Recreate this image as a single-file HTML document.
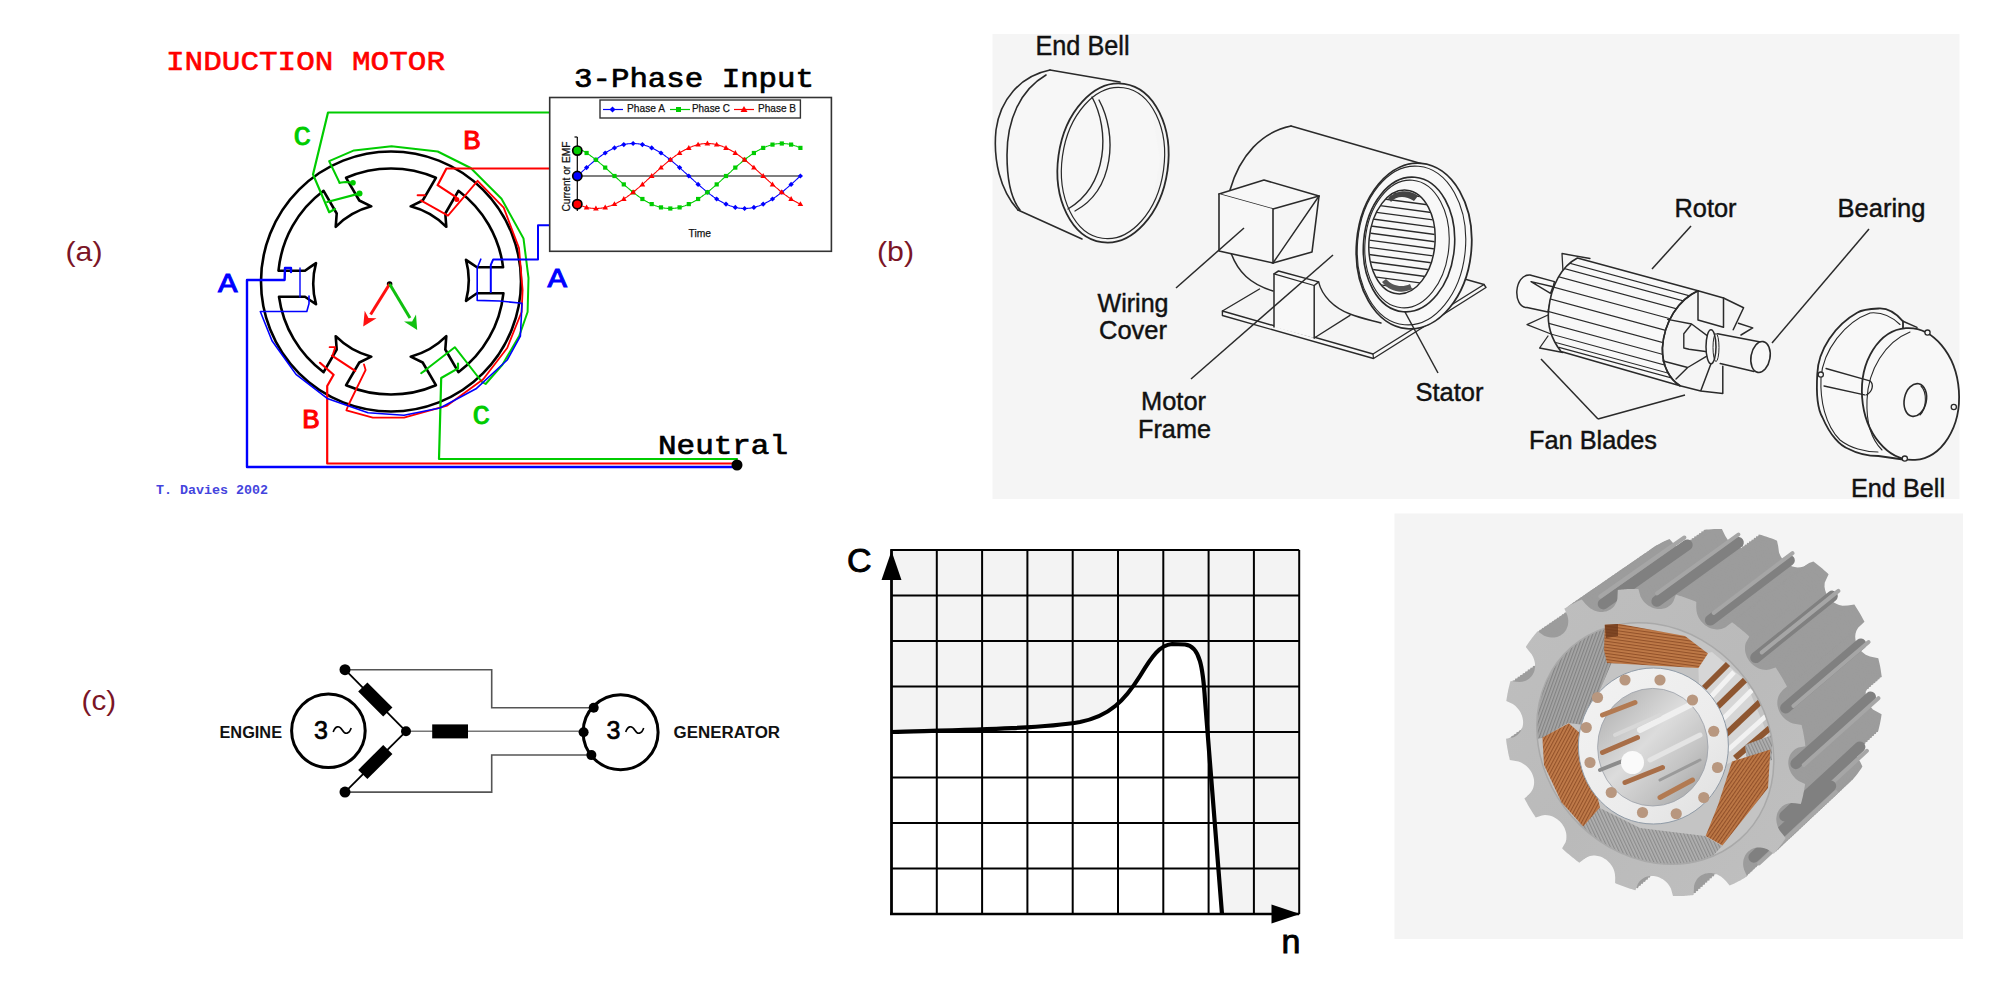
<!DOCTYPE html>
<html><head><meta charset="utf-8"><style>
html,body{margin:0;padding:0;background:#fff;width:1990px;height:1000px;overflow:hidden}
svg{display:block}
</style></head><body>
<svg width="1990" height="1000" viewBox="0 0 1990 1000">
<text x="65.5" y="261" font-family="Liberation Sans" font-size="27.5" fill="#7b1526" textLength="37" lengthAdjust="spacingAndGlyphs">(a)</text>
<text x="877" y="261" font-family="Liberation Sans" font-size="27.5" fill="#7b1526" textLength="37" lengthAdjust="spacingAndGlyphs">(b)</text>
<text x="81.6" y="710" font-family="Liberation Sans" font-size="27.5" fill="#7b1526" textLength="34.5" lengthAdjust="spacingAndGlyphs">(c)</text>
<text x="166" y="70" font-family="Liberation Mono" font-size="28" fill="#ff0000" stroke="#ff0000" stroke-width="0.6" textLength="279" lengthAdjust="spacingAndGlyphs">INDUCTION MOTOR</text>
<text x="574" y="87" font-family="Liberation Mono" font-size="28" fill="#000" stroke="#000" stroke-width="0.7" textLength="240" lengthAdjust="spacingAndGlyphs">3-Phase Input</text>
<text x="658" y="454" font-family="Liberation Mono" font-size="28" fill="#000" stroke="#000" stroke-width="0.7" textLength="130" lengthAdjust="spacingAndGlyphs">Neutral</text>
<text x="156" y="493.5" font-family="Liberation Mono" font-weight="bold" font-size="12.5" fill="#4444dd" textLength="112" lengthAdjust="spacingAndGlyphs">T. Davies 2002</text>
<text x="293.5" y="145" font-family="Liberation Mono" font-size="27" fill="#00cc00" stroke="#00cc00" stroke-width="0.9" textLength="17.5" lengthAdjust="spacingAndGlyphs">C</text>
<text x="463" y="149.3" font-family="Liberation Mono" font-size="27" fill="#ff0000" stroke="#ff0000" stroke-width="0.9" textLength="17.5" lengthAdjust="spacingAndGlyphs">B</text>
<text x="218" y="291.6" font-family="Liberation Mono" font-size="27" fill="#0000ff" stroke="#0000ff" stroke-width="0.9" textLength="19.5" lengthAdjust="spacingAndGlyphs">A</text>
<text x="547.5" y="286.5" font-family="Liberation Mono" font-size="27" fill="#0000ff" stroke="#0000ff" stroke-width="0.9" textLength="19.5" lengthAdjust="spacingAndGlyphs">A</text>
<text x="302" y="428.4" font-family="Liberation Mono" font-size="27" fill="#ff0000" stroke="#ff0000" stroke-width="0.9" textLength="17.5" lengthAdjust="spacingAndGlyphs">B</text>
<text x="472.4" y="423.6" font-family="Liberation Mono" font-size="27" fill="#00cc00" stroke="#00cc00" stroke-width="0.9" textLength="17.5" lengthAdjust="spacingAndGlyphs">C</text>
<circle cx="391" cy="281.5" r="130" fill="none" stroke="#000" stroke-width="2.6"/>
<path d="M503.4,293.3 L477.0,293.3 Q471.5,297.1 466.0,300.8 A78,78 0 0 0 466.0,259.8 Q471.5,263.5 477.0,267.3 L503.1,267.3 A113,113 0 0 0 458.4,190.8 L445.3,213.5 Q445.8,220.2 446.3,226.8 A78,78 0 0 0 410.7,206.3 Q416.7,203.4 422.7,200.5 L435.9,177.8 A113,113 0 0 0 346.1,177.8 L359.3,200.5 Q365.3,203.4 371.3,206.3 A78,78 0 0 0 335.7,226.8 Q336.2,220.2 336.7,213.5 L323.6,190.8 A113,113 0 0 0 278.5,270.7 L305.0,270.7 Q310.5,266.9 316.0,263.2 A78,78 0 0 0 316.0,304.2 Q310.5,300.5 305.0,296.7 L279.0,296.7 A113,113 0 0 0 323.6,372.2 L336.7,349.5 Q336.2,342.8 335.7,336.2 A78,78 0 0 0 371.3,356.7 Q365.3,359.6 359.3,362.5 L346.1,385.2 A113,113 0 0 0 435.9,385.2 L422.7,362.5 Q416.7,359.6 410.7,356.7 A78,78 0 0 0 446.3,336.2 Q445.8,342.8 445.3,349.5 L458.4,372.2 A113,113 0 0 0 503.4,293.3 Z" fill="none" stroke="#000" stroke-width="2.6" stroke-linejoin="round"/>
<polyline points="549,112.5 328,112.5 313,174.4 329.2,212.2 335,209" fill="none" stroke="#00cc00" stroke-width="2.2" stroke-linejoin="round" stroke-linecap="round"/>
<polyline points="327.2,202 359,193.6" fill="none" stroke="#00cc00" stroke-width="2.2" stroke-linejoin="round" stroke-linecap="round"/>
<circle cx="359.5" cy="193.6" r="3" fill="#00cc00"/>
<polyline points="339.6,182.8 329.2,161.2 354,150.4 391.5,146.2 437.7,151.5 470.7,168 501.5,198.8 523.5,238.5 528.5,278 527.6,312 519.2,336 502.4,364.8 485.6,384 482,382 454.8,347.2 421.2,373.2 426,370" fill="none" stroke="#00cc00" stroke-width="2.0" stroke-linejoin="round" stroke-linecap="round"/>
<polyline points="339.6,182.8 345.6,182 352.8,182.8" fill="none" stroke="#00cc00" stroke-width="2.0" stroke-linejoin="round" stroke-linecap="round"/>
<circle cx="353" cy="182.8" r="2.8" fill="#00cc00"/>
<polyline points="458,363.6 458,368.4 441.2,378 439,459 737,459" fill="none" stroke="#00cc00" stroke-width="2.2" stroke-linejoin="round" stroke-linecap="round"/>
<polyline points="549,168.5 446.4,168.5 437.6,185.2 456,197.2" fill="none" stroke="#ff0000" stroke-width="2.2" stroke-linejoin="round" stroke-linecap="round"/>
<circle cx="456.8" cy="199.5" r="2.5" fill="#ff0000"/>
<polyline points="417.6,195.2 424.8,195.2" fill="none" stroke="#ff0000" stroke-width="2.0" stroke-linejoin="round" stroke-linecap="round"/>
<polyline points="420.8,200.4 448,215.6 477.6,180.8 503.7,207.6 519,248 522.6,290 521.6,312 507.2,348 483.2,379.2 447.2,405.6 404,417.6 372.8,417.6 346.4,410.4 348,406 365.6,370 364,364.4" fill="none" stroke="#ff0000" stroke-width="1.8" stroke-linejoin="round" stroke-linecap="round"/>
<polyline points="332,355.6 355.2,370.8" fill="none" stroke="#ff0000" stroke-width="2.2" stroke-linejoin="round" stroke-linecap="round"/>
<polyline points="329.6,347.2 335.2,347.2 333,354" fill="none" stroke="#ff0000" stroke-width="1.8" stroke-linejoin="round" stroke-linecap="round"/>
<polyline points="320,362.8 333.6,374.8 327.2,386 327.2,463.5 737,463.5" fill="none" stroke="#ff0000" stroke-width="2.2" stroke-linejoin="round" stroke-linecap="round"/>
<polyline points="291,272 291,268 285,268 284.6,280 247,280 247,467 737,467" fill="none" stroke="#0000ff" stroke-width="2.4" stroke-linejoin="round" stroke-linecap="round"/>
<polyline points="309,296 309,303.6 306.8,311.5 260.3,311.5 272,340.8 296,374.4 327.2,398.4 368,412.8 404,415.2 440,408 476,388.8 507.2,360 520.4,336 522,303.2 499.6,301 477.2,300.4 477.2,268 480.8,259.2" fill="none" stroke="#0000ff" stroke-width="1.6" stroke-linejoin="round" stroke-linecap="round"/>
<polyline points="549,225.2 538,225.2 538,259.4 493.2,259.4 490.8,264.8 490.8,292" fill="none" stroke="#0000ff" stroke-width="2.0" stroke-linejoin="round" stroke-linecap="round"/>
<polyline points="300,268 300,297" fill="none" stroke="#0000ff" stroke-width="1.4" stroke-linejoin="round" stroke-linecap="round"/>
<circle cx="737" cy="465" r="5.5" fill="#000"/>
<circle cx="389.6" cy="284" r="2.8" fill="#000"/>
<line x1="389.6" y1="284" x2="370.6" y2="314.5" stroke="#ff1010" stroke-width="3"/>
<polygon points="363.2,326.4 376.5,318.2 368.5,317.9 364.7,310.8" fill="#ff1010"/>
<line x1="389.6" y1="284" x2="410.0" y2="318.0" stroke="#10c010" stroke-width="3"/>
<polygon points="417.2,330 416.0,314.4 412.1,321.4 404.0,321.6" fill="#10c010"/>
<rect x="549.7" y="97.5" width="281.7" height="153.8" fill="#fff" stroke="#333" stroke-width="1.6"/>
<rect x="600" y="100" width="200.4" height="18" fill="#fff" stroke="#333" stroke-width="1.4"/>
<line x1="603" y1="109.5" x2="623" y2="109.5" stroke="#0000ff" stroke-width="1.2"/>
<text x="627" y="112" font-family="Liberation Sans" font-size="11.8" fill="#111" stroke="#111" stroke-width="0.25" textLength="38" lengthAdjust="spacingAndGlyphs">Phase A</text>
<line x1="670" y1="109.5" x2="690" y2="109.5" stroke="#00cc00" stroke-width="1.2"/>
<text x="692" y="112" font-family="Liberation Sans" font-size="11.8" fill="#111" stroke="#111" stroke-width="0.25" textLength="38" lengthAdjust="spacingAndGlyphs">Phase C</text>
<line x1="734" y1="109.5" x2="754" y2="109.5" stroke="#ff0000" stroke-width="1.2"/>
<text x="758" y="112" font-family="Liberation Sans" font-size="11.8" fill="#111" stroke="#111" stroke-width="0.25" textLength="38" lengthAdjust="spacingAndGlyphs">Phase B</text>
<polygon points="612.5,106.5 615.5,109.5 612.5,112.5 609.5,109.5" fill="#0000ff"/>
<rect x="676" y="107" width="5" height="5" fill="#00cc00"/>
<polygon points="744,106 747.5,112 740.5,112" fill="#ff0000"/>
<line x1="577.3" y1="137" x2="577.3" y2="211" stroke="#000" stroke-width="1.2"/>
<line x1="574.5" y1="137" x2="577.3" y2="137" stroke="#000" stroke-width="1.2"/>
<line x1="577" y1="176" x2="800.5" y2="176" stroke="#000" stroke-width="1.2"/>
<polyline points="577.3,176.0 578.2,175.1 579.2,174.3 580.1,173.5 581.0,172.6 581.9,171.8 582.9,170.9 583.8,170.1 584.7,169.2 585.7,168.4 586.6,167.6 587.5,166.8 588.5,166.0 589.4,165.2 590.3,164.4 591.2,163.6 592.2,162.8 593.1,162.0 594.0,161.2 595.0,160.5 595.9,159.8 596.8,159.0 597.8,158.3 598.7,157.6 599.6,156.9 600.5,156.2 601.5,155.5 602.4,154.9 603.3,154.3 604.3,153.6 605.2,153.0 606.1,152.4 607.0,151.8 608.0,151.3 608.9,150.7 609.8,150.2 610.8,149.7 611.7,149.2 612.6,148.7 613.6,148.3 614.5,147.9 615.4,147.4 616.3,147.0 617.3,146.7 618.2,146.3 619.1,146.0 620.1,145.7 621.0,145.4 621.9,145.1 622.8,144.8 623.8,144.6 624.7,144.4 625.6,144.2 626.6,144.0 627.5,143.9 628.4,143.8 629.4,143.7 630.3,143.6 631.2,143.5 632.1,143.5 633.1,143.5 634.0,143.5 634.9,143.5 635.9,143.6 636.8,143.7 637.7,143.8 638.7,143.9 639.6,144.0 640.5,144.2 641.4,144.4 642.4,144.6 643.3,144.8 644.2,145.1 645.2,145.4 646.1,145.7 647.0,146.0 647.9,146.3 648.9,146.7 649.8,147.0 650.7,147.4 651.7,147.9 652.6,148.3 653.5,148.7 654.5,149.2 655.4,149.7 656.3,150.2 657.2,150.7 658.2,151.3 659.1,151.8 660.0,152.4 661.0,153.0 661.9,153.6 662.8,154.3 663.8,154.9 664.7,155.5 665.6,156.2 666.5,156.9 667.5,157.6 668.4,158.3 669.3,159.0 670.3,159.8 671.2,160.5 672.1,161.2 673.0,162.0 674.0,162.8 674.9,163.6 675.8,164.4 676.8,165.2 677.7,166.0 678.6,166.8 679.6,167.6 680.5,168.4 681.4,169.2 682.3,170.1 683.3,170.9 684.2,171.8 685.1,172.6 686.1,173.5 687.0,174.3 687.9,175.1 688.8,176.0 689.8,176.9 690.7,177.7 691.6,178.5 692.6,179.4 693.5,180.2 694.4,181.1 695.4,181.9 696.3,182.8 697.2,183.6 698.1,184.4 699.1,185.2 700.0,186.0 700.9,186.8 701.9,187.6 702.8,188.4 703.7,189.2 704.7,190.0 705.6,190.8 706.5,191.5 707.4,192.2 708.4,193.0 709.3,193.7 710.2,194.4 711.2,195.1 712.1,195.8 713.0,196.5 713.9,197.1 714.9,197.7 715.8,198.4 716.7,199.0 717.7,199.6 718.6,200.2 719.5,200.7 720.5,201.3 721.4,201.8 722.3,202.3 723.2,202.8 724.2,203.3 725.1,203.7 726.0,204.1 727.0,204.6 727.9,205.0 728.8,205.3 729.8,205.7 730.7,206.0 731.6,206.3 732.5,206.6 733.5,206.9 734.4,207.2 735.3,207.4 736.3,207.6 737.2,207.8 738.1,208.0 739.0,208.1 740.0,208.2 740.9,208.3 741.8,208.4 742.8,208.5 743.7,208.5 744.6,208.5 745.6,208.5 746.5,208.5 747.4,208.4 748.3,208.3 749.3,208.2 750.2,208.1 751.1,208.0 752.1,207.8 753.0,207.6 753.9,207.4 754.9,207.2 755.8,206.9 756.7,206.6 757.6,206.3 758.6,206.0 759.5,205.7 760.4,205.3 761.4,205.0 762.3,204.6 763.2,204.1 764.1,203.7 765.1,203.3 766.0,202.8 766.9,202.3 767.9,201.8 768.8,201.3 769.7,200.7 770.7,200.2 771.6,199.6 772.5,199.0 773.4,198.4 774.4,197.7 775.3,197.1 776.2,196.5 777.2,195.8 778.1,195.1 779.0,194.4 779.9,193.7 780.9,193.0 781.8,192.2 782.7,191.5 783.7,190.8 784.6,190.0 785.5,189.2 786.5,188.4 787.4,187.6 788.3,186.8 789.2,186.0 790.2,185.2 791.1,184.4 792.0,183.6 793.0,182.8 793.9,181.9 794.8,181.1 795.8,180.2 796.7,179.4 797.6,178.5 798.5,177.7 799.5,176.9 800.4,176.0" fill="none" stroke="#0000ff" stroke-width="1.1"/>
<polygon points="586.6,165.0 589.2,167.6 586.6,170.2 584.0,167.6" fill="#0000ff"/>
<polygon points="595.9,157.2 598.5,159.8 595.9,162.3 593.3,159.8" fill="#0000ff"/>
<polygon points="605.2,150.4 607.8,153.0 605.2,155.6 602.6,153.0" fill="#0000ff"/>
<polygon points="614.5,145.3 617.1,147.9 614.5,150.5 611.9,147.9" fill="#0000ff"/>
<polygon points="623.8,142.0 626.4,144.6 623.8,147.2 621.2,144.6" fill="#0000ff"/>
<polygon points="633.1,140.9 635.7,143.5 633.1,146.1 630.5,143.5" fill="#0000ff"/>
<polygon points="642.4,142.0 645.0,144.6 642.4,147.2 639.8,144.6" fill="#0000ff"/>
<polygon points="651.7,145.3 654.3,147.9 651.7,150.5 649.1,147.9" fill="#0000ff"/>
<polygon points="661.0,150.4 663.6,153.0 661.0,155.6 658.4,153.0" fill="#0000ff"/>
<polygon points="670.3,157.2 672.9,159.8 670.3,162.3 667.7,159.8" fill="#0000ff"/>
<polygon points="679.6,165.0 682.2,167.6 679.6,170.2 677.0,167.6" fill="#0000ff"/>
<polygon points="688.8,173.4 691.4,176.0 688.8,178.6 686.2,176.0" fill="#0000ff"/>
<polygon points="698.1,181.8 700.7,184.4 698.1,187.0 695.5,184.4" fill="#0000ff"/>
<polygon points="707.4,189.7 710.0,192.2 707.4,194.8 704.8,192.2" fill="#0000ff"/>
<polygon points="716.7,196.4 719.3,199.0 716.7,201.6 714.1,199.0" fill="#0000ff"/>
<polygon points="726.0,201.5 728.6,204.1 726.0,206.7 723.4,204.1" fill="#0000ff"/>
<polygon points="735.3,204.8 737.9,207.4 735.3,210.0 732.7,207.4" fill="#0000ff"/>
<polygon points="744.6,205.9 747.2,208.5 744.6,211.1 742.0,208.5" fill="#0000ff"/>
<polygon points="753.9,204.8 756.5,207.4 753.9,210.0 751.3,207.4" fill="#0000ff"/>
<polygon points="763.2,201.5 765.8,204.1 763.2,206.7 760.6,204.1" fill="#0000ff"/>
<polygon points="772.5,196.4 775.1,199.0 772.5,201.6 769.9,199.0" fill="#0000ff"/>
<polygon points="781.8,189.7 784.4,192.2 781.8,194.8 779.2,192.2" fill="#0000ff"/>
<polygon points="791.1,181.8 793.7,184.4 791.1,187.0 788.5,184.4" fill="#0000ff"/>
<polygon points="800.4,173.4 803.0,176.0 800.4,178.6 797.8,176.0" fill="#0000ff"/>
<polyline points="577.3,147.9 578.2,148.3 579.2,148.7 580.1,149.2 581.0,149.7 581.9,150.2 582.9,150.7 583.8,151.3 584.7,151.8 585.7,152.4 586.6,153.0 587.5,153.6 588.5,154.3 589.4,154.9 590.3,155.5 591.2,156.2 592.2,156.9 593.1,157.6 594.0,158.3 595.0,159.0 595.9,159.8 596.8,160.5 597.8,161.2 598.7,162.0 599.6,162.8 600.5,163.6 601.5,164.4 602.4,165.2 603.3,166.0 604.3,166.8 605.2,167.6 606.1,168.4 607.0,169.2 608.0,170.1 608.9,170.9 609.8,171.8 610.8,172.6 611.7,173.5 612.6,174.3 613.6,175.1 614.5,176.0 615.4,176.9 616.3,177.7 617.3,178.5 618.2,179.4 619.1,180.2 620.1,181.1 621.0,181.9 621.9,182.8 622.8,183.6 623.8,184.4 624.7,185.2 625.6,186.0 626.6,186.8 627.5,187.6 628.4,188.4 629.4,189.2 630.3,190.0 631.2,190.8 632.1,191.5 633.1,192.2 634.0,193.0 634.9,193.7 635.9,194.4 636.8,195.1 637.7,195.8 638.7,196.5 639.6,197.1 640.5,197.7 641.4,198.4 642.4,199.0 643.3,199.6 644.2,200.2 645.2,200.7 646.1,201.3 647.0,201.8 647.9,202.3 648.9,202.8 649.8,203.3 650.7,203.7 651.7,204.1 652.6,204.6 653.5,205.0 654.5,205.3 655.4,205.7 656.3,206.0 657.2,206.3 658.2,206.6 659.1,206.9 660.0,207.2 661.0,207.4 661.9,207.6 662.8,207.8 663.8,208.0 664.7,208.1 665.6,208.2 666.5,208.3 667.5,208.4 668.4,208.5 669.3,208.5 670.3,208.5 671.2,208.5 672.1,208.5 673.0,208.4 674.0,208.3 674.9,208.2 675.8,208.1 676.8,208.0 677.7,207.8 678.6,207.6 679.6,207.4 680.5,207.2 681.4,206.9 682.3,206.6 683.3,206.3 684.2,206.0 685.1,205.7 686.1,205.3 687.0,205.0 687.9,204.6 688.8,204.1 689.8,203.7 690.7,203.3 691.6,202.8 692.6,202.3 693.5,201.8 694.4,201.3 695.4,200.7 696.3,200.2 697.2,199.6 698.1,199.0 699.1,198.4 700.0,197.7 700.9,197.1 701.9,196.5 702.8,195.8 703.7,195.1 704.7,194.4 705.6,193.7 706.5,193.0 707.4,192.2 708.4,191.5 709.3,190.8 710.2,190.0 711.2,189.2 712.1,188.4 713.0,187.6 713.9,186.8 714.9,186.0 715.8,185.2 716.7,184.4 717.7,183.6 718.6,182.8 719.5,181.9 720.5,181.1 721.4,180.2 722.3,179.4 723.2,178.5 724.2,177.7 725.1,176.9 726.0,176.0 727.0,175.1 727.9,174.3 728.8,173.5 729.8,172.6 730.7,171.8 731.6,170.9 732.5,170.1 733.5,169.2 734.4,168.4 735.3,167.6 736.3,166.8 737.2,166.0 738.1,165.2 739.0,164.4 740.0,163.6 740.9,162.8 741.8,162.0 742.8,161.2 743.7,160.5 744.6,159.8 745.6,159.0 746.5,158.3 747.4,157.6 748.3,156.9 749.3,156.2 750.2,155.5 751.1,154.9 752.1,154.3 753.0,153.6 753.9,153.0 754.9,152.4 755.8,151.8 756.7,151.3 757.6,150.7 758.6,150.2 759.5,149.7 760.4,149.2 761.4,148.7 762.3,148.3 763.2,147.9 764.1,147.4 765.1,147.0 766.0,146.7 766.9,146.3 767.9,146.0 768.8,145.7 769.7,145.4 770.7,145.1 771.6,144.8 772.5,144.6 773.4,144.4 774.4,144.2 775.3,144.0 776.2,143.9 777.2,143.8 778.1,143.7 779.0,143.6 779.9,143.5 780.9,143.5 781.8,143.5 782.7,143.5 783.7,143.5 784.6,143.6 785.5,143.7 786.5,143.8 787.4,143.9 788.3,144.0 789.2,144.2 790.2,144.4 791.1,144.6 792.0,144.8 793.0,145.1 793.9,145.4 794.8,145.7 795.8,146.0 796.7,146.3 797.6,146.7 798.5,147.0 799.5,147.4 800.4,147.9" fill="none" stroke="#00cc00" stroke-width="1.1"/>
<rect x="584.5" y="150.9" width="4.2" height="4.2" fill="#00cc00"/>
<rect x="593.8" y="157.7" width="4.2" height="4.2" fill="#00cc00"/>
<rect x="603.1" y="165.5" width="4.2" height="4.2" fill="#00cc00"/>
<rect x="612.4" y="173.9" width="4.2" height="4.2" fill="#00cc00"/>
<rect x="621.7" y="182.3" width="4.2" height="4.2" fill="#00cc00"/>
<rect x="631.0" y="190.2" width="4.2" height="4.2" fill="#00cc00"/>
<rect x="640.3" y="196.9" width="4.2" height="4.2" fill="#00cc00"/>
<rect x="649.6" y="202.0" width="4.2" height="4.2" fill="#00cc00"/>
<rect x="658.9" y="205.3" width="4.2" height="4.2" fill="#00cc00"/>
<rect x="668.2" y="206.4" width="4.2" height="4.2" fill="#00cc00"/>
<rect x="677.5" y="205.3" width="4.2" height="4.2" fill="#00cc00"/>
<rect x="686.7" y="202.0" width="4.2" height="4.2" fill="#00cc00"/>
<rect x="696.0" y="196.9" width="4.2" height="4.2" fill="#00cc00"/>
<rect x="705.3" y="190.2" width="4.2" height="4.2" fill="#00cc00"/>
<rect x="714.6" y="182.3" width="4.2" height="4.2" fill="#00cc00"/>
<rect x="723.9" y="173.9" width="4.2" height="4.2" fill="#00cc00"/>
<rect x="733.2" y="165.5" width="4.2" height="4.2" fill="#00cc00"/>
<rect x="742.5" y="157.7" width="4.2" height="4.2" fill="#00cc00"/>
<rect x="751.8" y="150.9" width="4.2" height="4.2" fill="#00cc00"/>
<rect x="761.1" y="145.8" width="4.2" height="4.2" fill="#00cc00"/>
<rect x="770.4" y="142.5" width="4.2" height="4.2" fill="#00cc00"/>
<rect x="779.7" y="141.4" width="4.2" height="4.2" fill="#00cc00"/>
<rect x="789.0" y="142.5" width="4.2" height="4.2" fill="#00cc00"/>
<rect x="798.3" y="145.8" width="4.2" height="4.2" fill="#00cc00"/>
<polyline points="577.3,204.1 578.2,204.6 579.2,205.0 580.1,205.3 581.0,205.7 581.9,206.0 582.9,206.3 583.8,206.6 584.7,206.9 585.7,207.2 586.6,207.4 587.5,207.6 588.5,207.8 589.4,208.0 590.3,208.1 591.2,208.2 592.2,208.3 593.1,208.4 594.0,208.5 595.0,208.5 595.9,208.5 596.8,208.5 597.8,208.5 598.7,208.4 599.6,208.3 600.5,208.2 601.5,208.1 602.4,208.0 603.3,207.8 604.3,207.6 605.2,207.4 606.1,207.2 607.0,206.9 608.0,206.6 608.9,206.3 609.8,206.0 610.8,205.7 611.7,205.3 612.6,205.0 613.6,204.6 614.5,204.1 615.4,203.7 616.3,203.3 617.3,202.8 618.2,202.3 619.1,201.8 620.1,201.3 621.0,200.7 621.9,200.2 622.8,199.6 623.8,199.0 624.7,198.4 625.6,197.7 626.6,197.1 627.5,196.5 628.4,195.8 629.4,195.1 630.3,194.4 631.2,193.7 632.1,193.0 633.1,192.2 634.0,191.5 634.9,190.8 635.9,190.0 636.8,189.2 637.7,188.4 638.7,187.6 639.6,186.8 640.5,186.0 641.4,185.2 642.4,184.4 643.3,183.6 644.2,182.8 645.2,181.9 646.1,181.1 647.0,180.2 647.9,179.4 648.9,178.5 649.8,177.7 650.7,176.9 651.7,176.0 652.6,175.1 653.5,174.3 654.5,173.5 655.4,172.6 656.3,171.8 657.2,170.9 658.2,170.1 659.1,169.2 660.0,168.4 661.0,167.6 661.9,166.8 662.8,166.0 663.8,165.2 664.7,164.4 665.6,163.6 666.5,162.8 667.5,162.0 668.4,161.2 669.3,160.5 670.3,159.8 671.2,159.0 672.1,158.3 673.0,157.6 674.0,156.9 674.9,156.2 675.8,155.5 676.8,154.9 677.7,154.3 678.6,153.6 679.6,153.0 680.5,152.4 681.4,151.8 682.3,151.3 683.3,150.7 684.2,150.2 685.1,149.7 686.1,149.2 687.0,148.7 687.9,148.3 688.8,147.9 689.8,147.4 690.7,147.0 691.6,146.7 692.6,146.3 693.5,146.0 694.4,145.7 695.4,145.4 696.3,145.1 697.2,144.8 698.1,144.6 699.1,144.4 700.0,144.2 700.9,144.0 701.9,143.9 702.8,143.8 703.7,143.7 704.7,143.6 705.6,143.5 706.5,143.5 707.4,143.5 708.4,143.5 709.3,143.5 710.2,143.6 711.2,143.7 712.1,143.8 713.0,143.9 713.9,144.0 714.9,144.2 715.8,144.4 716.7,144.6 717.7,144.8 718.6,145.1 719.5,145.4 720.5,145.7 721.4,146.0 722.3,146.3 723.2,146.7 724.2,147.0 725.1,147.4 726.0,147.9 727.0,148.3 727.9,148.7 728.8,149.2 729.8,149.7 730.7,150.2 731.6,150.7 732.5,151.3 733.5,151.8 734.4,152.4 735.3,153.0 736.3,153.6 737.2,154.3 738.1,154.9 739.0,155.5 740.0,156.2 740.9,156.9 741.8,157.6 742.8,158.3 743.7,159.0 744.6,159.8 745.6,160.5 746.5,161.2 747.4,162.0 748.3,162.8 749.3,163.6 750.2,164.4 751.1,165.2 752.1,166.0 753.0,166.8 753.9,167.6 754.9,168.4 755.8,169.2 756.7,170.1 757.6,170.9 758.6,171.8 759.5,172.6 760.4,173.5 761.4,174.3 762.3,175.1 763.2,176.0 764.1,176.9 765.1,177.7 766.0,178.5 766.9,179.4 767.9,180.2 768.8,181.1 769.7,181.9 770.7,182.8 771.6,183.6 772.5,184.4 773.4,185.2 774.4,186.0 775.3,186.8 776.2,187.6 777.2,188.4 778.1,189.2 779.0,190.0 779.9,190.8 780.9,191.5 781.8,192.2 782.7,193.0 783.7,193.7 784.6,194.4 785.5,195.1 786.5,195.8 787.4,196.5 788.3,197.1 789.2,197.7 790.2,198.4 791.1,199.0 792.0,199.6 793.0,200.2 793.9,200.7 794.8,201.3 795.8,201.8 796.7,202.3 797.6,202.8 798.5,203.3 799.5,203.7 800.4,204.1" fill="none" stroke="#ff0000" stroke-width="1.1"/>
<polygon points="586.6,204.5 589.4,209.4 583.8,209.4" fill="#ff0000"/>
<polygon points="595.9,205.6 598.7,210.5 593.1,210.5" fill="#ff0000"/>
<polygon points="605.2,204.5 608.0,209.4 602.4,209.4" fill="#ff0000"/>
<polygon points="614.5,201.2 617.3,206.1 611.7,206.1" fill="#ff0000"/>
<polygon points="623.8,196.1 626.6,201.0 621.0,201.0" fill="#ff0000"/>
<polygon points="633.1,189.3 635.9,194.2 630.3,194.2" fill="#ff0000"/>
<polygon points="642.4,181.5 645.2,186.4 639.6,186.4" fill="#ff0000"/>
<polygon points="651.7,173.1 654.5,178.0 648.9,178.0" fill="#ff0000"/>
<polygon points="661.0,164.7 663.8,169.6 658.2,169.6" fill="#ff0000"/>
<polygon points="670.3,156.8 673.1,161.8 667.5,161.8" fill="#ff0000"/>
<polygon points="679.6,150.1 682.4,155.0 676.8,155.0" fill="#ff0000"/>
<polygon points="688.8,145.0 691.6,149.9 686.0,149.9" fill="#ff0000"/>
<polygon points="698.1,141.7 700.9,146.6 695.3,146.6" fill="#ff0000"/>
<polygon points="707.4,140.6 710.2,145.5 704.6,145.5" fill="#ff0000"/>
<polygon points="716.7,141.7 719.5,146.6 713.9,146.6" fill="#ff0000"/>
<polygon points="726.0,145.0 728.8,149.9 723.2,149.9" fill="#ff0000"/>
<polygon points="735.3,150.1 738.1,155.0 732.5,155.0" fill="#ff0000"/>
<polygon points="744.6,156.8 747.4,161.8 741.8,161.8" fill="#ff0000"/>
<polygon points="753.9,164.7 756.7,169.6 751.1,169.6" fill="#ff0000"/>
<polygon points="763.2,173.1 766.0,178.0 760.4,178.0" fill="#ff0000"/>
<polygon points="772.5,181.5 775.3,186.4 769.7,186.4" fill="#ff0000"/>
<polygon points="781.8,189.3 784.6,194.2 779.0,194.2" fill="#ff0000"/>
<polygon points="791.1,196.1 793.9,201.0 788.3,201.0" fill="#ff0000"/>
<polygon points="800.4,201.2 803.2,206.1 797.6,206.1" fill="#ff0000"/>
<circle cx="577.3" cy="150.6" r="4.6" fill="#00cc00" stroke="#000" stroke-width="1.7"/>
<circle cx="577.3" cy="176" r="4.6" fill="#0000ff" stroke="#000" stroke-width="1.7"/>
<circle cx="577.3" cy="204.2" r="4.6" fill="#ff0000" stroke="#000" stroke-width="1.7"/>
<text transform="translate(569.5,211.5) rotate(-90)" font-family="Liberation Sans" font-size="11" fill="#111" stroke="#111" stroke-width="0.25" textLength="70" lengthAdjust="spacingAndGlyphs">Current or EMF</text>
<text x="688.5" y="237" font-family="Liberation Sans" font-size="11" fill="#111" stroke="#111" stroke-width="0.25" textLength="22.5" lengthAdjust="spacingAndGlyphs">Time</text>
<polyline points="345,669.7 491.7,669.7 491.7,707.7 593.7,707.7" fill="none" stroke="#555" stroke-width="1.6"/>
<polyline points="345,792.1 491.7,792.1 491.7,755 591.4,755" fill="none" stroke="#555" stroke-width="1.6"/>
<line x1="406" y1="731.3" x2="584" y2="731.3" stroke="#777" stroke-width="1.6"/>
<line x1="345" y1="669.7" x2="406" y2="731.3" stroke="#000" stroke-width="1.8"/>
<line x1="345" y1="792.1" x2="406" y2="731.3" stroke="#000" stroke-width="1.8"/>
<rect x="-17.7" y="-6.5" width="35.4" height="13" fill="#000" transform="translate(375.3,699.5) rotate(45)"/>
<rect x="-17.7" y="-6.5" width="35.4" height="13" fill="#000" transform="translate(375.3,762) rotate(-45)"/>
<rect x="432.2" y="724.4" width="35.8" height="14" fill="#000"/>
<circle cx="345" cy="669.7" r="5.5" fill="#000"/>
<circle cx="345" cy="792.1" r="5.5" fill="#000"/>
<circle cx="406" cy="731.3" r="5" fill="#000"/>
<circle cx="593.7" cy="707.7" r="5" fill="#000"/>
<circle cx="583.6" cy="732.2" r="5" fill="#000"/>
<circle cx="591.4" cy="755.1" r="5" fill="#000"/>
<circle cx="328.4" cy="730.8" r="36.8" fill="none" stroke="#000" stroke-width="3"/>
<circle cx="620.6" cy="732.2" r="37.5" fill="none" stroke="#000" stroke-width="3"/>
<text x="314" y="738.5" font-family="Liberation Sans" font-size="25" fill="#000" stroke="#000" stroke-width="0.7">3</text>
<text x="606.5" y="738.5" font-family="Liberation Sans" font-size="25" fill="#000" stroke="#000" stroke-width="0.7">3</text>
<path d="M333.2,732 c2,-6 6,-7 9,-2 s7,4 9,-2" fill="none" stroke="#000" stroke-width="1.6"/>
<path d="M625.7,732 c2,-6 6,-7 9,-2 s7,4 9,-2" fill="none" stroke="#000" stroke-width="1.6"/>
<text x="219.5" y="738.4" font-family="Liberation Sans" font-weight="bold" font-size="16" fill="#111" textLength="62.5" lengthAdjust="spacingAndGlyphs">ENGINE</text>
<text x="673.5" y="738.4" font-family="Liberation Sans" font-weight="bold" font-size="16" fill="#111" textLength="106.5" lengthAdjust="spacingAndGlyphs">GENERATOR</text>
<path d="M891.5,550 L1299.2,550 L1299.2,914 L1222,914 L1205,700 C1203,668 1200,646 1185,644.5 L1172,644 C1160,645 1152,656 1140,676 C1125,700 1110,716 1080,722 C1040,729 960,730 891.5,732 Z" fill="#f3f3f3"/>
<line x1="891.5" y1="550" x2="891.5" y2="914" stroke="#000" stroke-width="2"/>
<line x1="936.8" y1="550" x2="936.8" y2="914" stroke="#000" stroke-width="2"/>
<line x1="982.1" y1="550" x2="982.1" y2="914" stroke="#000" stroke-width="2"/>
<line x1="1027.4" y1="550" x2="1027.4" y2="914" stroke="#000" stroke-width="2"/>
<line x1="1072.7" y1="550" x2="1072.7" y2="914" stroke="#000" stroke-width="2"/>
<line x1="1118.0" y1="550" x2="1118.0" y2="914" stroke="#000" stroke-width="2"/>
<line x1="1163.3" y1="550" x2="1163.3" y2="914" stroke="#000" stroke-width="2"/>
<line x1="1208.6" y1="550" x2="1208.6" y2="914" stroke="#000" stroke-width="2"/>
<line x1="1253.9" y1="550" x2="1253.9" y2="914" stroke="#000" stroke-width="2"/>
<line x1="1299.2" y1="550" x2="1299.2" y2="914" stroke="#000" stroke-width="2"/>
<line x1="891.5" y1="550.0" x2="1299.2" y2="550.0" stroke="#000" stroke-width="2"/>
<line x1="891.5" y1="595.5" x2="1299.2" y2="595.5" stroke="#000" stroke-width="2"/>
<line x1="891.5" y1="641.0" x2="1299.2" y2="641.0" stroke="#000" stroke-width="2"/>
<line x1="891.5" y1="686.5" x2="1299.2" y2="686.5" stroke="#000" stroke-width="2"/>
<line x1="891.5" y1="732.0" x2="1299.2" y2="732.0" stroke="#000" stroke-width="2"/>
<line x1="891.5" y1="777.5" x2="1299.2" y2="777.5" stroke="#000" stroke-width="2"/>
<line x1="891.5" y1="823.0" x2="1299.2" y2="823.0" stroke="#000" stroke-width="2"/>
<line x1="891.5" y1="868.5" x2="1299.2" y2="868.5" stroke="#000" stroke-width="2"/>
<line x1="891.5" y1="914.0" x2="1299.2" y2="914.0" stroke="#000" stroke-width="2"/>
<line x1="891.5" y1="549" x2="891.5" y2="915" stroke="#000" stroke-width="2.6"/>
<line x1="890" y1="914" x2="1299" y2="914" stroke="#000" stroke-width="2.6"/>
<path d="M891.5,732 C960,730 1040,729 1080,722 C1110,716 1125,700 1140,676 C1152,656 1160,645 1172,644 L1185,644.5 C1200,646 1203,668 1205,700 L1222,914" fill="none" stroke="#000" stroke-width="4.2" stroke-linejoin="round"/>
<polygon points="891.5,551 901.5,580 881.5,580" fill="#000"/>
<polygon points="1300,914 1271.5,904.5 1271.5,923.5" fill="#000"/>
<text x="847" y="572" font-family="Liberation Sans" font-size="34" fill="#000" stroke="#000" stroke-width="0.9">C</text>
<text x="1281.5" y="952.5" font-family="Liberation Sans" font-size="34" fill="#000" stroke="#000" stroke-width="0.9">n</text>
<g id="pb"><rect x="992.5" y="34" width="967" height="465" fill="#f5f5f5"/>
<path d="M1050,70 L1120,80 L1150,100 L1160,160 L1150,215 L1115,241 L1082,239 L1018,210 C1000,190 993,160 996,130 C1000,100 1020,76 1050,70 Z" fill="#f7f7f7" stroke="none" stroke-width="0" stroke-linejoin="round" stroke-linecap="round"/>
<path d="M1050,70 C1020,76 1000,100 996,130 C993,160 1000,190 1018,210" fill="none" stroke="#2a2a2a" stroke-width="1.6" stroke-linejoin="round" stroke-linecap="round"/>
<path d="M1046,75 C1020,90 1007,120 1007,155 C1007,180 1012,200 1020,210" fill="none" stroke="#2a2a2a" stroke-width="1.6" stroke-linejoin="round" stroke-linecap="round"/>
<path d="M1050,70 L1120,82" fill="none" stroke="#2a2a2a" stroke-width="1.6" stroke-linejoin="round" stroke-linecap="round"/>
<path d="M1018,210 L1082,239" fill="none" stroke="#2a2a2a" stroke-width="1.6" stroke-linejoin="round" stroke-linecap="round"/>
<ellipse cx="1113" cy="163" rx="55" ry="80" transform="rotate(8 1113 163)" fill="none" stroke="#2a2a2a" stroke-width="1.8"/>
<ellipse cx="1113" cy="163" rx="51" ry="76" transform="rotate(8 1113 163)" fill="none" stroke="#2a2a2a" stroke-width="1.2"/>
<path d="M1092,97 C1110,130 1108,185 1068,209" fill="none" stroke="#2a2a2a" stroke-width="1.4" stroke-linejoin="round" stroke-linecap="round"/>
<path d="M1099,100 C1118,135 1114,190 1075,211" fill="none" stroke="#2a2a2a" stroke-width="1.4" stroke-linejoin="round" stroke-linecap="round"/>
<path d="M1291,126 L1426,165" fill="none" stroke="#2a2a2a" stroke-width="1.6" stroke-linejoin="round" stroke-linecap="round"/>
<path d="M1230,190 C1240,155 1262,132 1291,126" fill="none" stroke="#2a2a2a" stroke-width="1.6" stroke-linejoin="round" stroke-linecap="round"/>
<path d="M1222.4,311 L1373,354 L1484,284.5 L1486,287.5 L1373.5,358.5 L1222.4,315.5 Z" fill="#f8f8f8" stroke="#2a2a2a" stroke-width="1.4" stroke-linejoin="round" stroke-linecap="round"/>
<path d="M1222.4,311 L1259.5,289" fill="none" stroke="#2a2a2a" stroke-width="1.4" stroke-linejoin="round" stroke-linecap="round"/>
<path d="M1484,284.5 L1461,278" fill="none" stroke="#2a2a2a" stroke-width="1.4" stroke-linejoin="round" stroke-linecap="round"/>
<path d="M1373,354 L1373.5,358.5" fill="none" stroke="#2a2a2a" stroke-width="1.2" stroke-linejoin="round" stroke-linecap="round"/>
<path d="M1231,253 C1238,272 1250,284 1273,291" fill="none" stroke="#2a2a2a" stroke-width="1.5" stroke-linejoin="round" stroke-linecap="round"/>
<path d="M1274,327 L1274,273.8 L1278.5,271 L1318.6,281.9 L1314.2,285.5 L1314.2,338" fill="#f8f8f8" stroke="#2a2a2a" stroke-width="1.5" stroke-linejoin="round" stroke-linecap="round"/>
<path d="M1274,273.8 L1314.2,285.5" fill="none" stroke="#2a2a2a" stroke-width="1.3" stroke-linejoin="round" stroke-linecap="round"/>
<path d="M1318.6,281.9 C1322,296 1334,308 1350,314 C1360,318 1370,320 1381,323" fill="none" stroke="#2a2a2a" stroke-width="1.4" stroke-linejoin="round" stroke-linecap="round"/>
<path d="M1314.2,338 L1350,315.4" fill="none" stroke="#2a2a2a" stroke-width="1.3" stroke-linejoin="round" stroke-linecap="round"/>
<ellipse cx="1414" cy="246" rx="57.5" ry="83" transform="rotate(5 1414 246)" fill="#f8f8f8" stroke="#2a2a2a" stroke-width="1.8"/>
<ellipse cx="1411.5" cy="245.5" rx="54" ry="79.5" transform="rotate(5 1411.5 245.5)" fill="none" stroke="#2a2a2a" stroke-width="1.1"/>
<ellipse cx="1409" cy="244.5" rx="45.5" ry="67.5" transform="rotate(5 1409 244.5)" fill="none" stroke="#2a2a2a" stroke-width="1.6"/>
<ellipse cx="1407" cy="244" rx="42" ry="64" transform="rotate(5 1407 244)" fill="none" stroke="#2a2a2a" stroke-width="1.1"/>
<ellipse cx="1402" cy="242" rx="33" ry="52" transform="rotate(5 1402 242)" fill="none" stroke="#2a2a2a" stroke-width="1.5"/>
<clipPath id="hclip"><ellipse cx="1402" cy="242" rx="32.5" ry="51.5" transform="rotate(5 1402 242)"/></clipPath><g clip-path="url(#hclip)">
<line x1="1365" y1="182.0" x2="1440" y2="192.0" stroke="#2a2a2a" stroke-width="1.4"/>
<line x1="1365" y1="189.2" x2="1440" y2="199.2" stroke="#2a2a2a" stroke-width="1.4"/>
<line x1="1365" y1="196.4" x2="1440" y2="206.4" stroke="#2a2a2a" stroke-width="1.4"/>
<line x1="1365" y1="203.6" x2="1440" y2="213.6" stroke="#2a2a2a" stroke-width="1.4"/>
<line x1="1365" y1="210.8" x2="1440" y2="220.8" stroke="#2a2a2a" stroke-width="1.4"/>
<line x1="1365" y1="218.0" x2="1440" y2="228.0" stroke="#2a2a2a" stroke-width="1.4"/>
<line x1="1365" y1="225.2" x2="1440" y2="235.2" stroke="#2a2a2a" stroke-width="1.4"/>
<line x1="1365" y1="232.4" x2="1440" y2="242.4" stroke="#2a2a2a" stroke-width="1.4"/>
<line x1="1365" y1="239.6" x2="1440" y2="249.6" stroke="#2a2a2a" stroke-width="1.4"/>
<line x1="1365" y1="246.8" x2="1440" y2="256.8" stroke="#2a2a2a" stroke-width="1.4"/>
<line x1="1365" y1="254.0" x2="1440" y2="264.0" stroke="#2a2a2a" stroke-width="1.4"/>
<line x1="1365" y1="261.2" x2="1440" y2="271.2" stroke="#2a2a2a" stroke-width="1.4"/>
<line x1="1365" y1="268.4" x2="1440" y2="278.4" stroke="#2a2a2a" stroke-width="1.4"/>
<line x1="1365" y1="275.6" x2="1440" y2="285.6" stroke="#2a2a2a" stroke-width="1.4"/>
<line x1="1365" y1="282.8" x2="1440" y2="292.8" stroke="#2a2a2a" stroke-width="1.4"/>
<line x1="1365" y1="290.0" x2="1440" y2="300.0" stroke="#2a2a2a" stroke-width="1.4"/>
<line x1="1365" y1="297.2" x2="1440" y2="307.2" stroke="#2a2a2a" stroke-width="1.4"/>
<path d="M1388,198 C1396,190 1410,189 1418,196 L1414,201 C1405,195 1396,196 1391,202 Z" fill="#444"/>
<path d="M1382,282 C1390,292 1402,294 1412,289 L1410,284 C1402,288 1392,286 1386,279 Z" fill="#555"/>
</g>
<path d="M1219,194 L1264,180 L1319,196 L1273,209 Z" fill="#f7f7f7" stroke="#2a2a2a" stroke-width="1.6" stroke-linejoin="round" stroke-linecap="round"/>
<path d="M1219,194 L1219,251 L1273,263 L1273,209" fill="#f7f7f7" stroke="#2a2a2a" stroke-width="1.6" stroke-linejoin="round" stroke-linecap="round"/>
<path d="M1273,263 L1312,252 L1319,196" fill="#f7f7f7" stroke="#2a2a2a" stroke-width="1.6" stroke-linejoin="round" stroke-linecap="round"/>
<path d="M1319,196 L1273,263" fill="none" stroke="#2a2a2a" stroke-width="1.4" stroke-linejoin="round" stroke-linecap="round"/>
<path d="M1554.4,281.6 L1530,275 C1514,274 1512,307 1527,307.6 L1548,312 Z" fill="#f8f8f8" stroke="#2a2a2a" stroke-width="1.5" stroke-linejoin="round" stroke-linecap="round"/>
<path d="M1562,253.5 L1563,272 M1562,253.5 L1590,258.5" fill="none" stroke="#2a2a2a" stroke-width="1.3" stroke-linejoin="round" stroke-linecap="round"/>
<path d="M1527,324.6 L1548,315 M1527,324.6 L1551,334" fill="none" stroke="#2a2a2a" stroke-width="1.3" stroke-linejoin="round" stroke-linecap="round"/>
<path d="M1539.6,348 L1563,352.5 M1539.6,348 L1548,336" fill="none" stroke="#2a2a2a" stroke-width="1.3" stroke-linejoin="round" stroke-linecap="round"/>
<path d="M1531,281.6 L1553,286.8 L1550.5,293.3 Z" fill="#f8f8f8" stroke="#2a2a2a" stroke-width="1.4" stroke-linejoin="round" stroke-linecap="round"/>
<path d="M1577.4,258 L1698,290.8 C1678,300 1664,322 1662.4,348 C1662,366 1670,380 1680,385.7 L1561,351.6 C1552,340 1547,325 1548.6,310 C1551,285 1562,266 1577.4,258 Z" fill="#f8f8f8" stroke="#2a2a2a" stroke-width="1.6" stroke-linejoin="round" stroke-linecap="round"/>
<clipPath id="rotclip"><path d="M1577.4,258 L1698,290.8 C1678,300 1664,322 1662.4,348 C1662,366 1670,380 1680,385.7 L1561,351.6 C1552,340 1547,325 1548.6,310 C1551,285 1562,266 1577.4,258 Z"/></clipPath><g clip-path="url(#rotclip)">
<path d="M1547.5,257.2 L1707.5,300.7" fill="none" stroke="#2a2a2a" stroke-width="1.15" stroke-linejoin="round" stroke-linecap="round"/>
<path d="M1542.9,262.8 L1702.9,306.3" fill="none" stroke="#2a2a2a" stroke-width="1.15" stroke-linejoin="round" stroke-linecap="round"/>
<path d="M1539.6,271.5 L1699.6,315.0" fill="none" stroke="#2a2a2a" stroke-width="1.15" stroke-linejoin="round" stroke-linecap="round"/>
<path d="M1537.9,282.8 L1697.9,326.3" fill="none" stroke="#2a2a2a" stroke-width="1.15" stroke-linejoin="round" stroke-linecap="round"/>
<path d="M1537.9,295.6 L1697.9,339.1" fill="none" stroke="#2a2a2a" stroke-width="1.15" stroke-linejoin="round" stroke-linecap="round"/>
<path d="M1539.6,309.0 L1699.6,352.5" fill="none" stroke="#2a2a2a" stroke-width="1.15" stroke-linejoin="round" stroke-linecap="round"/>
<path d="M1542.8,321.8 L1702.8,365.3" fill="none" stroke="#2a2a2a" stroke-width="1.15" stroke-linejoin="round" stroke-linecap="round"/>
<path d="M1547.4,333.1 L1707.4,376.6" fill="none" stroke="#2a2a2a" stroke-width="1.15" stroke-linejoin="round" stroke-linecap="round"/>
<path d="M1553.0,341.8 L1713.0,385.3" fill="none" stroke="#2a2a2a" stroke-width="1.15" stroke-linejoin="round" stroke-linecap="round"/>
<path d="M1559.0,347.4 L1719.0,390.9" fill="none" stroke="#2a2a2a" stroke-width="1.15" stroke-linejoin="round" stroke-linecap="round"/>
</g>
<path d="M1698,290.8 C1678,300 1664,322 1662.4,348 C1662,366 1670,380 1680,385.7" fill="none" stroke="#2a2a2a" stroke-width="1.6" stroke-linejoin="round" stroke-linecap="round"/>
<path d="M1698,290.8 L1723.5,298 L1723.5,327.2 M1698,290.8 L1698,320 L1723.5,327.2" fill="none" stroke="#2a2a2a" stroke-width="1.5" stroke-linejoin="round" stroke-linecap="round"/>
<path d="M1723.5,298 L1743.6,307.7 L1733.2,329.8" fill="none" stroke="#2a2a2a" stroke-width="1.5" stroke-linejoin="round" stroke-linecap="round"/>
<path d="M1738.4,323.3 L1752.7,327.9 L1741,335" fill="none" stroke="#2a2a2a" stroke-width="1.5" stroke-linejoin="round" stroke-linecap="round"/>
<path d="M1667.6,319.4 L1691.6,324 L1709.8,337.6 M1691.6,324 L1683.8,333.7 L1683.8,348 L1689,349.3 L1709,352" fill="none" stroke="#2a2a2a" stroke-width="1.4" stroke-linejoin="round" stroke-linecap="round"/>
<path d="M1663,361 L1687.7,367.5 L1707.2,355.8 M1687.7,367.5 L1676,379" fill="none" stroke="#2a2a2a" stroke-width="1.4" stroke-linejoin="round" stroke-linecap="round"/>
<path d="M1680,385.7 L1700.7,391 L1722.8,393.5 L1722.8,366.2 M1700.7,391 L1712,361" fill="none" stroke="#2a2a2a" stroke-width="1.5" stroke-linejoin="round" stroke-linecap="round"/>
<path d="M1717.6,333.7 L1761.8,342.2 M1720.2,363.6 L1754,371.4" fill="none" stroke="#2a2a2a" stroke-width="1.5" stroke-linejoin="round" stroke-linecap="round"/>
<ellipse cx="1711" cy="346.7" rx="5" ry="17" transform="rotate(0 1711 346.7)" fill="#f8f8f8" stroke="#2a2a2a" stroke-width="1.5"/>
<ellipse cx="1716" cy="347.5" rx="3" ry="14" transform="rotate(0 1716 347.5)" fill="none" stroke="#2a2a2a" stroke-width="1.0"/>
<ellipse cx="1760.5" cy="357" rx="9.5" ry="15.6" transform="rotate(10 1760.5 357)" fill="#f8f8f8" stroke="#2a2a2a" stroke-width="1.6"/>
<path d="M1903,321.3 C1895,312 1886,308 1878.5,308.5 C1868,309 1860,311 1857.5,312.5 C1835,325 1818,350 1817.3,373.8 C1816,395 1818,410 1822.5,417.5 C1830,435 1840,446 1848.8,449 C1860,455 1870,456 1878.5,456 L1903,459.5 Z" fill="#f8f8f8" stroke="#2a2a2a" stroke-width="1.8" stroke-linejoin="round" stroke-linecap="round"/>
<path d="M1900,324.5 C1890,315 1880,312 1870,313 C1845,322 1823,350 1821,378 C1820,400 1825,425 1840,440 C1850,448 1865,452 1878,452" fill="none" stroke="#2a2a2a" stroke-width="1.1" stroke-linejoin="round" stroke-linecap="round"/>
<ellipse cx="1910.5" cy="394" rx="48.5" ry="66" transform="rotate(-4 1910.5 394)" fill="#f8f8f8" stroke="#2a2a2a" stroke-width="1.8"/>
<path d="M1910,332 C1885,342 1868,370 1867,400 C1866,425 1872,440 1882,450" fill="none" stroke="#2a2a2a" stroke-width="1.1" stroke-linejoin="round" stroke-linecap="round"/>
<path d="M1903,321.3 L1917,327.4" fill="none" stroke="#2a2a2a" stroke-width="1.5" stroke-linejoin="round" stroke-linecap="round"/>
<path d="M1826,368.5 L1869.8,380.8 M1824,386 L1864.5,394.8 M1869.8,380.8 C1874,384 1873,392 1866,395" fill="none" stroke="#2a2a2a" stroke-width="1.3" stroke-linejoin="round" stroke-linecap="round"/>
<ellipse cx="1915.3" cy="400" rx="11" ry="16.6" transform="rotate(12 1915.3 400)" fill="none" stroke="#2a2a2a" stroke-width="1.6"/>
<path d="M1921,386 C1927,392 1927,408 1920,415" fill="none" stroke="#2a2a2a" stroke-width="1.1" stroke-linejoin="round" stroke-linecap="round"/>
<circle cx="1927.5" cy="332.6" r="2.6" fill="#f8f8f8" stroke="#2a2a2a" stroke-width="1.3"/>
<circle cx="1953.8" cy="407" r="2.6" fill="#f8f8f8" stroke="#2a2a2a" stroke-width="1.3"/>
<circle cx="1904.8" cy="458.6" r="2.6" fill="#f8f8f8" stroke="#2a2a2a" stroke-width="1.3"/>
<circle cx="1820.8" cy="374.6" r="2.6" fill="#f8f8f8" stroke="#2a2a2a" stroke-width="1.3"/>
<line x1="1244" y1="228" x2="1176" y2="288" stroke="#2a2a2a" stroke-width="1.5"/>
<line x1="1333" y1="255" x2="1191" y2="379" stroke="#2a2a2a" stroke-width="1.5"/>
<line x1="1405" y1="312" x2="1438" y2="373" stroke="#2a2a2a" stroke-width="1.5"/>
<line x1="1691" y1="226" x2="1652" y2="269" stroke="#2a2a2a" stroke-width="1.5"/>
<line x1="1869" y1="229" x2="1772" y2="343" stroke="#2a2a2a" stroke-width="1.5"/>
<line x1="1541" y1="359" x2="1598" y2="419" stroke="#2a2a2a" stroke-width="1.5"/>
<line x1="1598" y1="419" x2="1685" y2="395" stroke="#2a2a2a" stroke-width="1.5"/>
<text x="1035.5" y="54.7" font-family="Liberation Sans" font-size="28" fill="#111" stroke="#111" stroke-width="0.45" textLength="94" lengthAdjust="spacingAndGlyphs">End Bell</text>
<text x="1097.5" y="311.5" font-family="Liberation Sans" font-size="26" fill="#111" stroke="#111" stroke-width="0.45" textLength="71" lengthAdjust="spacingAndGlyphs">Wiring</text>
<text x="1099" y="339" font-family="Liberation Sans" font-size="26" fill="#111" stroke="#111" stroke-width="0.45" textLength="68" lengthAdjust="spacingAndGlyphs">Cover</text>
<text x="1141" y="409.5" font-family="Liberation Sans" font-size="26" fill="#111" stroke="#111" stroke-width="0.45" textLength="65" lengthAdjust="spacingAndGlyphs">Motor</text>
<text x="1138" y="438" font-family="Liberation Sans" font-size="26" fill="#111" stroke="#111" stroke-width="0.45" textLength="73" lengthAdjust="spacingAndGlyphs">Frame</text>
<text x="1415.5" y="400.5" font-family="Liberation Sans" font-size="26" fill="#111" stroke="#111" stroke-width="0.45" textLength="68" lengthAdjust="spacingAndGlyphs">Stator</text>
<text x="1674.5" y="217" font-family="Liberation Sans" font-size="26" fill="#111" stroke="#111" stroke-width="0.45" textLength="62" lengthAdjust="spacingAndGlyphs">Rotor</text>
<text x="1837.5" y="217" font-family="Liberation Sans" font-size="26" fill="#111" stroke="#111" stroke-width="0.45" textLength="88" lengthAdjust="spacingAndGlyphs">Bearing</text>
<text x="1529" y="449" font-family="Liberation Sans" font-size="26" fill="#111" stroke="#111" stroke-width="0.45" textLength="128" lengthAdjust="spacingAndGlyphs">Fan Blades</text>
<text x="1851" y="496.8" font-family="Liberation Sans" font-size="26" fill="#111" stroke="#111" stroke-width="0.45" textLength="94" lengthAdjust="spacingAndGlyphs">End Bell</text></g>
<g id="pd"><rect x="1394.5" y="513.5" width="568.5" height="425.5" fill="#f4f4f4"/>
<defs><linearGradient id="ff" x1="0" y1="0" x2="1" y2="1"><stop offset="0" stop-color="#bfbfbf"/><stop offset="0.5" stop-color="#bababa"/><stop offset="1" stop-color="#c0c0c0"/></linearGradient><linearGradient id="side" x1="0" y1="0" x2="1" y2="1"><stop offset="0" stop-color="#a2a2a2"/><stop offset="1" stop-color="#969696"/></linearGradient><linearGradient id="ring" x1="0" y1="0" x2="1" y2="1"><stop offset="0" stop-color="#f2f2f2"/><stop offset="0.6" stop-color="#ececec"/><stop offset="1" stop-color="#dedede"/></linearGradient><linearGradient id="inner" x1="0" y1="0" x2="1" y2="1"><stop offset="0" stop-color="#a9a9a9"/><stop offset="0.45" stop-color="#dcdcdc"/><stop offset="0.7" stop-color="#c4c4c4"/><stop offset="1" stop-color="#9c9c9c"/></linearGradient><pattern id="lam" width="3" height="3" patternUnits="userSpaceOnUse" patternTransform="rotate(20)"><rect width="3" height="3" fill="#a6a6a6"/><rect width="1.2" height="3" fill="#838383"/></pattern><pattern id="lam2" width="3" height="3" patternUnits="userSpaceOnUse" patternTransform="rotate(-25)"><rect width="3" height="3" fill="#b0b0b0"/><rect width="1.2" height="3" fill="#8c8c8c"/></pattern><pattern id="cuw" width="3" height="3" patternUnits="userSpaceOnUse" patternTransform="rotate(8)"><rect width="3" height="3" fill="#bf7a48"/><rect width="3" height="1.1" fill="#93522a"/></pattern><pattern id="cuw2" width="3" height="3" patternUnits="userSpaceOnUse" patternTransform="rotate(-62)"><rect width="3" height="3" fill="#c07b4a"/><rect width="3" height="1.1" fill="#93522a"/></pattern><pattern id="cuw3" width="3" height="3" patternUnits="userSpaceOnUse" patternTransform="rotate(-55)"><rect width="3" height="3" fill="#bd7846"/><rect width="3" height="1.1" fill="#91502a"/></pattern></defs>
<polygon points="1650.2,572.5 1651.9,571.2 1653.4,569.5 1654.6,567.6 1655.7,565.4 1656.4,562.6 1656.7,559.2 1655.7,553.8 1654.0,546.9 1656.1,545.6 1658.3,544.4 1660.5,543.2 1662.7,542.1 1664.9,541.0 1667.2,539.9 1669.5,538.9 1675.7,545.9 1679.6,548.5 1682.7,549.9 1685.5,550.5 1688.0,550.8 1690.4,550.6 1692.6,550.2 1694.7,549.5 1696.7,548.4 1698.6,547.0 1700.4,545.0 1702.0,542.4 1703.3,538.2 1703.7,529.9 1706.3,529.6 1708.9,529.4 1711.5,529.2 1714.1,529.1 1716.7,529.0 1719.3,528.9 1721.9,529.0 1725.3,536.1 1728.2,540.5 1730.8,543.2 1733.2,545.0 1735.6,546.3 1738.0,547.2 1740.3,547.8 1742.6,548.0 1745.0,548.0 1747.4,547.6 1749.8,546.7 1752.4,545.3 1755.2,542.6 1758.8,534.4 1761.5,535.1 1764.1,535.9 1766.7,536.8 1769.3,537.7 1771.9,538.6 1774.4,539.6 1777.0,540.7 1778.2,546.3 1779.0,552.4 1780.5,556.0 1782.2,558.7 1784.0,560.9 1785.9,562.7 1787.9,564.2 1790.1,565.4 1792.4,566.4 1794.8,567.0 1797.5,567.4 1800.4,567.2 1803.9,566.4 1809.1,563.0 1813.4,561.5 1815.7,563.2 1817.9,564.9 1820.1,566.7 1822.3,568.6 1824.4,570.4 1826.5,572.3 1828.6,574.3 1824.7,582.7 1824.5,586.7 1825.1,589.9 1825.9,592.6 1827.1,595.0 1828.5,597.1 1830.0,599.0 1831.9,600.8 1833.9,602.4 1836.3,603.8 1839.1,604.9 1842.6,605.7 1847.8,605.5 1854.4,604.6 1855.9,607.0 1857.5,609.4 1858.9,611.8 1860.4,614.3 1861.8,616.7 1863.1,619.2 1864.5,621.7 1858.4,627.2 1856.4,630.8 1855.5,633.8 1855.2,636.6 1855.4,639.1 1855.8,641.6 1856.5,643.9 1857.6,646.2 1858.9,648.4 1860.6,650.5 1862.8,652.6 1865.7,654.7 1870.0,656.6 1878.3,658.3 1878.9,660.9 1879.5,663.6 1880.1,666.3 1880.6,669.0 1881.0,671.7 1881.4,674.4 1881.8,677.1 1875.2,679.5 1871.2,681.9 1868.9,684.2 1867.5,686.5 1866.5,688.7 1865.9,691.0 1865.7,693.4 1865.8,695.7 1866.2,698.1 1866.9,700.7 1868.1,703.3 1869.9,706.1 1872.9,709.4 1881.6,714.3 1881.2,716.9 1880.8,719.5 1880.3,722.0 1879.8,724.6 1879.2,727.1 1878.6,729.6 1877.9,732.1 1872.5,732.5 1866.5,732.5 1863.2,733.5 1860.7,734.9 1858.8,736.4 1857.3,738.2 1856.1,740.1 1855.2,742.1 1854.6,744.3 1854.3,746.7 1854.4,749.4 1854.9,752.5 1856.3,756.2 1860.3,762.0 1862.4,766.6 1861.1,768.7 1859.6,770.8 1858.2,772.8 1856.7,774.7 1855.1,776.7 1853.5,778.6 1851.9,780.5 1843.0,775.2 1839.0,774.5 1835.9,774.6 1833.4,775.1 1831.2,776.0 1829.2,777.1 1827.5,778.4 1826.0,780.1 1824.8,782.0 1823.7,784.2 1823.0,787.0 1822.7,790.4 1823.7,795.8 1825.4,802.7 1823.3,804.0 1821.1,805.2 1818.9,806.4 1816.7,807.5 1814.5,808.6 1812.2,809.7 1809.9,810.7 1803.7,803.7 1799.8,801.1 1796.7,799.7 1793.9,799.1 1791.4,798.8 1789.0,799.0 1786.8,799.4 1784.7,800.1 1782.7,801.2 1780.8,802.6 1779.0,804.6 1777.4,807.2 1776.1,811.4 1775.7,819.7 1773.1,820.0 1770.5,820.2 1767.9,820.4 1765.3,820.5 1762.7,820.6 1760.1,820.7 1757.5,820.6 1754.1,813.5 1751.2,809.1 1748.6,806.4 1746.2,804.6 1743.8,803.3 1741.4,802.4 1739.1,801.8 1736.8,801.6 1734.4,801.6 1732.0,802.0 1729.6,802.9 1727.0,804.3 1724.2,807.0 1720.6,815.2 1717.9,814.5 1715.3,813.7 1712.7,812.8 1710.1,811.9 1707.5,811.0 1705.0,810.0 1702.4,808.9 1701.2,803.3 1700.4,797.2 1698.9,793.6 1697.2,790.9 1695.4,788.7 1693.5,786.9 1691.5,785.4 1689.3,784.2 1687.0,783.2 1684.6,782.6 1681.9,782.2 1679.0,782.4 1675.5,783.2 1670.3,786.6 1666.0,788.1 1663.7,786.4 1661.5,784.7 1659.3,782.9 1657.1,781.0 1655.0,779.2 1652.9,777.3 1650.8,775.3 1654.7,766.9 1654.9,762.9 1654.3,759.7 1653.5,757.0 1652.3,754.6 1650.9,752.5 1649.4,750.6 1647.5,748.8 1645.5,747.2 1643.1,745.8 1640.3,744.7 1636.8,743.9 1631.6,744.1 1625.0,745.0 1623.5,742.6 1621.9,740.2 1620.5,737.8 1619.0,735.3 1617.6,732.9 1616.3,730.4 1614.9,727.9 1621.0,722.4 1623.0,718.8 1623.9,715.8 1624.2,713.0 1624.0,710.5 1623.6,708.0 1622.9,705.7 1621.8,703.4 1620.5,701.2 1618.8,699.1 1616.6,697.0 1613.7,694.9 1609.4,693.0 1601.1,691.3 1600.5,688.7 1599.9,686.0 1599.3,683.3 1598.8,680.6 1598.4,677.9 1598.0,675.2 1597.6,672.5 1604.2,670.1 1608.2,667.7 1610.5,665.4 1611.9,663.1 1612.9,660.9 1613.5,658.6 1613.7,656.2 1613.6,653.9 1613.2,651.5 1612.5,648.9 1611.3,646.3 1609.5,643.5 1606.5,640.2 1597.8,635.3 1598.2,632.7 1598.6,630.1 1599.1,627.6 1599.6,625.0 1600.2,622.5 1600.8,620.0 1601.5,617.5 1606.9,617.1 1612.9,617.1 1616.2,616.1 1618.7,614.7 1620.6,613.2 1622.1,611.4 1623.3,609.5 1624.2,607.5 1624.8,605.3 1625.1,602.9 1625.0,600.2 1624.5,597.1 1623.1,593.4 1619.1,587.6 1617.0,583.0 1618.3,580.9 1619.8,578.8 1621.2,576.8 1622.7,574.9 1624.3,572.9 1625.9,571.0 1627.5,569.1 1636.4,574.4 1640.4,575.1 1643.5,575.0 1646.0,574.5 1648.2,573.6" fill="#9c9c9c"/>
<polygon points="1647.7,574.2 1649.4,572.9 1650.9,571.3 1652.2,569.4 1653.2,567.1 1653.9,564.4 1654.2,560.9 1653.3,555.5 1651.5,548.6 1653.6,547.3 1655.8,546.1 1658.0,544.9 1660.2,543.8 1662.5,542.7 1664.7,541.6 1667.0,540.6 1673.3,547.6 1677.2,550.2 1680.3,551.6 1683.1,552.2 1685.6,552.5 1688.0,552.3 1690.2,551.9 1692.3,551.2 1694.3,550.1 1696.2,548.7 1698.0,546.7 1699.6,544.0 1700.9,539.8 1701.3,531.5 1703.9,531.3 1706.5,531.0 1709.1,530.9 1711.7,530.7 1714.3,530.6 1716.9,530.6 1719.6,530.6 1722.9,537.7 1725.8,542.2 1728.4,544.9 1730.9,546.7 1733.3,548.0 1735.6,548.9 1738.0,549.5 1740.3,549.7 1742.7,549.7 1745.0,549.3 1747.5,548.4 1750.1,546.9 1752.9,544.3 1756.5,536.1 1759.2,536.8 1761.8,537.6 1764.4,538.5 1767.0,539.4 1769.6,540.3 1772.1,541.3 1774.7,542.3 1775.9,548.0 1776.7,554.1 1778.2,557.7 1779.9,560.5 1781.7,562.6 1783.6,564.4 1785.7,565.9 1787.8,567.2 1790.1,568.1 1792.6,568.8 1795.2,569.1 1798.2,569.0 1801.7,568.1 1806.9,564.7 1811.2,563.2 1813.4,564.9 1815.7,566.7 1817.9,568.5 1820.0,570.3 1822.2,572.1 1824.3,574.1 1826.4,576.0 1822.5,584.5 1822.3,588.5 1822.8,591.6 1823.7,594.3 1824.9,596.7 1826.2,598.9 1827.8,600.8 1829.7,602.6 1831.7,604.2 1834.1,605.6 1836.9,606.7 1840.4,607.5 1845.6,607.3 1852.2,606.4 1853.8,608.8 1855.3,611.2 1856.8,613.6 1858.2,616.1 1859.6,618.5 1861.0,621.0 1862.3,623.5 1856.3,629.0 1854.2,632.6 1853.3,635.6 1853.1,638.4 1853.2,641.0 1853.6,643.4 1854.4,645.7 1855.4,648.0 1856.8,650.2 1858.5,652.4 1860.6,654.5 1863.5,656.5 1867.9,658.5 1876.1,660.1 1876.8,662.8 1877.4,665.5 1877.9,668.2 1878.4,670.9 1878.9,673.6 1879.3,676.3 1879.6,679.0 1873.1,681.4 1869.0,683.8 1866.8,686.1 1865.3,688.4 1864.4,690.6 1863.8,692.9 1863.5,695.3 1863.6,697.6 1864.0,700.1 1864.8,702.6 1865.9,705.2 1867.8,708.1 1870.8,711.3 1879.5,716.3 1879.1,718.9 1878.7,721.4 1878.2,724.0 1877.7,726.5 1877.1,729.1 1876.5,731.6 1875.8,734.1 1870.3,734.5 1864.4,734.5 1861.0,735.5 1858.6,736.8 1856.7,738.4 1855.2,740.1 1854.0,742.0 1853.1,744.1 1852.4,746.3 1852.1,748.7 1852.2,751.4 1852.7,754.5 1854.1,758.2 1858.2,764.0 1860.3,768.6 1858.9,770.7 1857.5,772.8 1856.0,774.8 1854.5,776.8 1853.0,778.7 1851.4,780.6 1849.7,782.5 1840.8,777.3 1836.8,776.6 1833.8,776.6 1831.2,777.2 1829.0,778.0 1827.0,779.1 1825.3,780.5 1823.8,782.1 1822.6,784.0 1821.5,786.3 1820.8,789.0 1820.5,792.5 1821.4,797.8 1823.2,804.8 1821.1,806.0 1818.9,807.3 1816.7,808.4 1814.5,809.6 1812.3,810.7 1810.0,811.7 1807.7,812.7 1801.4,805.7 1797.6,803.1 1794.4,801.8 1791.7,801.1 1789.1,800.9 1786.8,801.0 1784.6,801.5 1782.4,802.2 1780.5,803.3 1778.6,804.7 1776.8,806.6 1775.1,809.3 1773.8,813.5 1773.4,821.8 1770.8,822.1 1768.2,822.3 1765.6,822.5 1763.0,822.6 1760.4,822.7 1757.8,822.8 1755.2,822.7 1751.8,815.6 1748.9,811.1 1746.3,808.5 1743.9,806.7 1741.5,805.4 1739.1,804.5 1736.8,803.9 1734.4,803.6 1732.1,803.7 1729.7,804.1 1727.2,804.9 1724.7,806.4 1721.9,809.0 1718.2,817.3 1715.6,816.5 1713.0,815.7 1710.3,814.9 1707.7,814.0 1705.2,813.0 1702.6,812.1 1700.0,811.0 1698.8,805.3 1698.0,799.2 1696.5,795.6 1694.8,792.9 1693.0,790.7 1691.1,788.9 1689.0,787.4 1686.9,786.2 1684.6,785.3 1682.2,784.6 1679.5,784.3 1676.5,784.4 1673.0,785.3 1667.8,788.7 1663.6,790.2 1661.3,788.5 1659.1,786.7 1656.9,784.9 1654.7,783.1 1652.5,781.2 1650.4,779.3 1648.3,777.4 1652.3,768.9 1652.4,764.9 1651.9,761.7 1651.0,759.0 1649.9,756.6 1648.5,754.5 1646.9,752.5 1645.1,750.8 1643.0,749.2 1640.6,747.8 1637.8,746.7 1634.3,745.9 1629.1,746.1 1622.5,746.9 1621.0,744.6 1619.4,742.2 1618.0,739.7 1616.5,737.3 1615.1,734.8 1613.7,732.3 1612.4,729.8 1618.5,724.4 1620.5,720.8 1621.4,717.7 1621.7,715.0 1621.5,712.4 1621.1,710.0 1620.3,707.6 1619.3,705.4 1618.0,703.1 1616.3,701.0 1614.1,698.9 1611.2,696.8 1606.9,694.9 1598.6,693.3 1597.9,690.6 1597.3,687.9 1596.8,685.2 1596.3,682.5 1595.9,679.8 1595.5,677.1 1595.1,674.4 1601.7,671.9 1605.7,669.6 1608.0,667.3 1609.4,665.0 1610.4,662.7 1610.9,660.4 1611.2,658.1 1611.1,655.7 1610.7,653.3 1610.0,650.8 1608.8,648.1 1607.0,645.3 1604.0,642.0 1595.3,637.1 1595.7,634.5 1596.1,631.9 1596.6,629.4 1597.1,626.8 1597.7,624.3 1598.3,621.8 1598.9,619.3 1604.4,618.9 1610.3,618.9 1613.7,617.9 1616.2,616.5 1618.1,615.0 1619.6,613.2 1620.8,611.3 1621.7,609.3 1622.3,607.1 1622.6,604.6 1622.5,602.0 1622.0,598.9 1620.6,595.1 1616.5,589.3 1614.4,584.7 1615.8,582.6 1617.3,580.6 1618.7,578.6 1620.2,576.6 1621.8,574.6 1623.4,572.7 1625.0,570.8 1634.0,576.1 1637.9,576.8 1641.0,576.7 1643.5,576.2 1645.8,575.4" fill="#9c9c9c"/>
<polygon points="1645.2,576.0 1646.9,574.6 1648.4,573.0 1649.7,571.1 1650.8,568.8 1651.5,566.1 1651.7,562.6 1650.8,557.2 1649.1,550.3 1651.2,549.0 1653.4,547.8 1655.6,546.6 1657.8,545.5 1660.0,544.4 1662.3,543.3 1664.6,542.3 1670.9,549.3 1674.8,551.9 1677.9,553.3 1680.7,553.9 1683.2,554.2 1685.6,554.0 1687.8,553.6 1689.9,552.9 1691.9,551.8 1693.8,550.3 1695.6,548.4 1697.2,545.7 1698.5,541.5 1699.0,533.2 1701.5,532.9 1704.1,532.7 1706.7,532.5 1709.3,532.4 1711.9,532.3 1714.6,532.3 1717.2,532.3 1720.6,539.4 1723.5,543.9 1726.1,546.5 1728.5,548.4 1730.9,549.7 1733.3,550.6 1735.6,551.2 1738.0,551.4 1740.3,551.4 1742.7,551.0 1745.2,550.1 1747.8,548.6 1750.6,546.0 1754.2,537.7 1756.9,538.5 1759.5,539.3 1762.1,540.2 1764.7,541.1 1767.3,542.0 1769.9,543.0 1772.4,544.0 1773.6,549.7 1774.4,555.8 1775.9,559.5 1777.6,562.2 1779.4,564.4 1781.4,566.2 1783.4,567.7 1785.6,568.9 1787.9,569.8 1790.3,570.5 1793.0,570.8 1796.0,570.7 1799.5,569.8 1804.7,566.4 1808.9,564.9 1811.2,566.6 1813.4,568.4 1815.7,570.2 1817.8,572.0 1820.0,573.9 1822.1,575.8 1824.2,577.7 1820.3,586.2 1820.1,590.2 1820.6,593.4 1821.5,596.1 1822.7,598.5 1824.0,600.6 1825.6,602.6 1827.5,604.4 1829.5,605.9 1831.9,607.3 1834.7,608.5 1838.2,609.2 1843.4,609.0 1850.0,608.2 1851.6,610.6 1853.1,613.0 1854.6,615.4 1856.1,617.9 1857.5,620.3 1858.8,622.8 1860.2,625.3 1854.1,630.8 1852.1,634.4 1851.2,637.5 1850.9,640.2 1851.0,642.8 1851.5,645.2 1852.2,647.6 1853.3,649.8 1854.6,652.1 1856.3,654.2 1858.5,656.3 1861.4,658.4 1865.7,660.3 1874.0,662.0 1874.7,664.7 1875.3,667.3 1875.8,670.0 1876.3,672.7 1876.8,675.4 1877.2,678.1 1877.5,680.9 1870.9,683.3 1866.9,685.7 1864.6,688.0 1863.2,690.3 1862.2,692.5 1861.6,694.8 1861.4,697.2 1861.5,699.5 1861.9,702.0 1862.6,704.5 1863.8,707.1 1865.6,710.0 1868.6,713.2 1877.3,718.2 1877.0,720.8 1876.5,723.4 1876.0,725.9 1875.5,728.5 1875.0,731.0 1874.3,733.5 1873.7,736.0 1868.2,736.4 1862.2,736.4 1858.9,737.5 1856.4,738.8 1854.5,740.4 1853.0,742.1 1851.8,744.0 1850.9,746.1 1850.3,748.3 1850.0,750.7 1850.0,753.4 1850.6,756.5 1851.9,760.2 1856.0,766.0 1858.1,770.7 1856.8,772.7 1855.3,774.8 1853.9,776.8 1852.3,778.8 1850.8,780.7 1849.2,782.7 1847.6,784.5 1838.6,779.3 1834.6,778.6 1831.6,778.7 1829.0,779.2 1826.8,780.0 1824.8,781.1 1823.1,782.5 1821.6,784.1 1820.4,786.0 1819.3,788.3 1818.6,791.0 1818.3,794.5 1819.2,799.9 1821.0,806.8 1818.9,808.1 1816.7,809.3 1814.5,810.5 1812.3,811.7 1810.0,812.8 1807.8,813.8 1805.5,814.8 1799.2,807.8 1795.3,805.2 1792.2,803.9 1789.4,803.2 1786.9,803.0 1784.5,803.1 1782.3,803.5 1780.2,804.3 1778.2,805.3 1776.3,806.8 1774.5,808.7 1772.9,811.4 1771.5,815.6 1771.1,823.9 1768.5,824.2 1765.9,824.4 1763.3,824.6 1760.7,824.7 1758.1,824.8 1755.5,824.9 1752.9,824.8 1749.5,817.7 1746.6,813.2 1744.0,810.6 1741.5,808.7 1739.1,807.4 1736.8,806.5 1734.4,806.0 1732.1,805.7 1729.7,805.7 1727.3,806.2 1724.9,807.0 1722.3,808.5 1719.5,811.1 1715.8,819.4 1713.2,818.6 1710.6,817.8 1708.0,817.0 1705.4,816.1 1702.8,815.1 1700.2,814.1 1697.6,813.1 1696.5,807.4 1695.6,801.3 1694.1,797.7 1692.4,795.0 1690.6,792.8 1688.7,791.0 1686.6,789.5 1684.5,788.3 1682.2,787.3 1679.7,786.6 1677.1,786.3 1674.1,786.4 1670.6,787.3 1665.4,790.7 1661.1,792.2 1658.9,790.5 1656.6,788.7 1654.4,786.9 1652.2,785.1 1650.1,783.2 1648.0,781.3 1645.9,779.4 1649.8,770.9 1649.9,766.9 1649.4,763.7 1648.5,761.0 1647.4,758.6 1646.0,756.5 1644.4,754.5 1642.6,752.8 1640.5,751.2 1638.1,749.8 1635.3,748.6 1631.8,747.9 1626.6,748.1 1620.0,748.9 1618.5,746.5 1616.9,744.1 1615.4,741.7 1614.0,739.3 1612.6,736.8 1611.2,734.3 1609.9,731.8 1616.0,726.3 1618.0,722.7 1618.9,719.7 1619.2,716.9 1619.0,714.3 1618.6,711.9 1617.8,709.5 1616.8,707.3 1615.5,705.1 1613.8,702.9 1611.6,700.8 1608.7,698.7 1604.3,696.8 1596.0,695.2 1595.4,692.5 1594.8,689.8 1594.3,687.1 1593.8,684.4 1593.3,681.7 1592.9,679.0 1592.6,676.3 1599.1,673.8 1603.2,671.5 1605.4,669.2 1606.9,666.9 1607.9,664.6 1608.4,662.3 1608.7,660.0 1608.6,657.6 1608.2,655.2 1607.5,652.6 1606.3,650.0 1604.4,647.1 1601.4,643.9 1592.7,638.9 1593.1,636.3 1593.5,633.7 1594.0,631.2 1594.5,628.6 1595.1,626.1 1595.7,623.6 1596.4,621.1 1601.9,620.7 1607.8,620.7 1611.2,619.7 1613.6,618.3 1615.6,616.7 1617.1,615.0 1618.3,613.1 1619.2,611.1 1619.8,608.9 1620.1,606.4 1620.0,603.7 1619.5,600.6 1618.1,596.9 1614.0,591.1 1611.9,586.5 1613.3,584.4 1614.7,582.3 1616.2,580.3 1617.7,578.3 1619.3,576.4 1620.9,574.5 1622.5,572.6 1631.5,577.8 1635.4,578.5 1638.5,578.5 1641.1,577.9 1643.3,577.1" fill="#9c9c9c"/>
<polygon points="1642.8,577.7 1644.5,576.3 1646.0,574.7 1647.3,572.8 1648.3,570.5 1649.0,567.8 1649.3,564.3 1648.4,558.9 1646.6,552.0 1648.7,550.7 1650.9,549.5 1653.1,548.3 1655.3,547.1 1657.6,546.0 1659.9,545.0 1662.2,544.0 1668.5,551.0 1672.3,553.6 1675.5,555.0 1678.3,555.6 1680.8,555.9 1683.2,555.7 1685.4,555.3 1687.5,554.6 1689.5,553.5 1691.4,552.0 1693.2,550.1 1694.8,547.4 1696.1,543.2 1696.6,534.9 1699.2,534.6 1701.7,534.4 1704.3,534.2 1707.0,534.1 1709.6,534.0 1712.2,533.9 1714.8,534.0 1718.2,541.1 1721.1,545.6 1723.7,548.2 1726.2,550.1 1728.6,551.4 1731.0,552.3 1733.3,552.9 1735.6,553.1 1738.0,553.1 1740.4,552.7 1742.9,551.8 1745.5,550.3 1748.2,547.7 1751.9,539.4 1754.6,540.2 1757.2,541.0 1759.8,541.8 1762.4,542.7 1765.0,543.7 1767.6,544.7 1770.2,545.7 1771.3,551.4 1772.2,557.5 1773.7,561.2 1775.4,563.9 1777.2,566.1 1779.1,567.9 1781.2,569.4 1783.3,570.6 1785.6,571.5 1788.1,572.2 1790.7,572.5 1793.7,572.4 1797.2,571.5 1802.4,568.1 1806.7,566.6 1809.0,568.3 1811.2,570.1 1813.4,571.9 1815.6,573.7 1817.8,575.6 1819.9,577.5 1822.0,579.5 1818.0,588.0 1817.9,592.0 1818.4,595.1 1819.3,597.8 1820.5,600.2 1821.8,602.4 1823.4,604.4 1825.3,606.1 1827.3,607.7 1829.7,609.1 1832.5,610.3 1836.1,611.0 1841.2,610.8 1847.9,610.0 1849.4,612.4 1851.0,614.8 1852.5,617.2 1853.9,619.7 1855.3,622.1 1856.7,624.6 1858.0,627.1 1851.9,632.6 1849.9,636.2 1849.0,639.3 1848.7,642.0 1848.9,644.6 1849.3,647.1 1850.1,649.4 1851.1,651.7 1852.4,653.9 1854.1,656.1 1856.3,658.2 1859.2,660.2 1863.6,662.2 1871.9,663.8 1872.5,666.5 1873.1,669.2 1873.7,671.9 1874.2,674.6 1874.6,677.3 1875.0,680.0 1875.4,682.7 1868.8,685.2 1864.7,687.5 1862.5,689.9 1861.0,692.2 1860.1,694.4 1859.5,696.7 1859.2,699.1 1859.3,701.4 1859.7,703.9 1860.5,706.4 1861.6,709.1 1863.5,711.9 1866.5,715.2 1875.2,720.1 1874.8,722.7 1874.4,725.3 1873.9,727.9 1873.4,730.4 1872.8,733.0 1872.2,735.5 1871.5,738.0 1866.0,738.4 1860.1,738.4 1856.7,739.4 1854.3,740.8 1852.3,742.3 1850.8,744.1 1849.6,746.0 1848.7,748.0 1848.1,750.3 1847.8,752.7 1847.9,755.4 1848.4,758.5 1849.8,762.2 1853.9,768.1 1856.0,772.7 1854.6,774.8 1853.2,776.8 1851.7,778.8 1850.2,780.8 1848.6,782.8 1847.0,784.7 1845.4,786.6 1836.4,781.3 1832.4,780.6 1829.4,780.7 1826.8,781.2 1824.6,782.1 1822.6,783.2 1820.9,784.5 1819.4,786.2 1818.1,788.1 1817.1,790.3 1816.4,793.1 1816.1,796.6 1817.0,802.0 1818.8,808.9 1816.7,810.2 1814.5,811.4 1812.3,812.6 1810.1,813.7 1807.8,814.8 1805.5,815.9 1803.2,816.9 1796.9,809.9 1793.1,807.3 1789.9,805.9 1787.1,805.3 1784.6,805.0 1782.2,805.1 1780.0,805.6 1777.9,806.3 1775.9,807.4 1774.0,808.8 1772.2,810.8 1770.6,813.5 1769.3,817.7 1768.8,826.0 1766.2,826.3 1763.7,826.5 1761.1,826.7 1758.4,826.8 1755.8,826.9 1753.2,826.9 1750.6,826.9 1747.2,819.8 1744.3,815.3 1741.7,812.6 1739.2,810.8 1736.8,809.5 1734.4,808.6 1732.1,808.0 1729.8,807.8 1727.4,807.8 1725.0,808.2 1722.5,809.1 1719.9,810.6 1717.2,813.2 1713.5,821.5 1710.8,820.7 1708.2,819.9 1705.6,819.0 1703.0,818.1 1700.4,817.2 1697.8,816.2 1695.2,815.2 1694.1,809.5 1693.2,803.3 1691.7,799.7 1690.0,797.0 1688.2,794.8 1686.3,793.0 1684.2,791.5 1682.1,790.3 1679.8,789.3 1677.3,788.7 1674.7,788.4 1671.7,788.5 1668.2,789.4 1663.0,792.8 1658.7,794.3 1656.4,792.5 1654.2,790.8 1652.0,789.0 1649.8,787.2 1647.6,785.3 1645.5,783.4 1643.4,781.4 1647.4,772.9 1647.5,768.9 1647.0,765.8 1646.1,763.0 1644.9,760.6 1643.6,758.5 1642.0,756.5 1640.1,754.8 1638.1,753.2 1635.7,751.8 1632.9,750.6 1629.3,749.9 1624.2,750.1 1617.5,750.9 1616.0,748.5 1614.4,746.1 1612.9,743.7 1611.5,741.2 1610.1,738.8 1608.7,736.3 1607.4,733.8 1613.5,728.3 1615.5,724.7 1616.4,721.6 1616.7,718.8 1616.5,716.3 1616.1,713.8 1615.3,711.5 1614.3,709.2 1613.0,707.0 1611.3,704.8 1609.1,702.7 1606.2,700.6 1601.8,698.7 1593.5,697.1 1592.9,694.4 1592.3,691.7 1591.7,689.0 1591.2,686.3 1590.8,683.6 1590.4,680.9 1590.0,678.1 1596.6,675.7 1600.7,673.3 1602.9,671.0 1604.4,668.7 1605.3,666.4 1605.9,664.1 1606.2,661.8 1606.1,659.4 1605.7,657.0 1604.9,654.5 1603.8,651.8 1601.9,649.0 1598.9,645.7 1590.2,640.7 1590.6,638.1 1591.0,635.6 1591.5,633.0 1592.0,630.4 1592.6,627.9 1593.2,625.4 1593.9,622.9 1599.4,622.5 1605.3,622.5 1608.7,621.5 1611.1,620.1 1613.1,618.5 1614.6,616.8 1615.8,614.9 1616.7,612.9 1617.3,610.6 1617.6,608.2 1617.5,605.5 1617.0,602.4 1615.6,598.7 1611.5,592.8 1609.4,588.2 1610.8,586.1 1612.2,584.1 1613.7,582.0 1615.2,580.1 1616.8,578.1 1618.4,576.2 1620.0,574.3 1629.0,579.6 1633.0,580.3 1636.0,580.2 1638.6,579.7 1640.8,578.8" fill="#9c9c9c"/>
<polygon points="1640.3,579.4 1642.0,578.1 1643.5,576.4 1644.8,574.5 1645.8,572.3 1646.6,569.5 1646.8,566.0 1645.9,560.6 1644.1,553.7 1646.3,552.4 1648.5,551.2 1650.7,550.0 1652.9,548.8 1655.1,547.7 1657.4,546.7 1659.7,545.7 1666.0,552.7 1669.9,555.3 1673.1,556.7 1675.8,557.3 1678.4,557.6 1680.7,557.4 1683.0,557.0 1685.1,556.3 1687.1,555.2 1689.0,553.7 1690.8,551.8 1692.4,549.1 1693.8,544.9 1694.2,536.6 1696.8,536.3 1699.4,536.0 1702.0,535.9 1704.6,535.7 1707.2,535.6 1709.8,535.6 1712.5,535.6 1715.9,542.8 1718.8,547.3 1721.4,549.9 1723.9,551.8 1726.3,553.1 1728.6,554.0 1731.0,554.6 1733.3,554.8 1735.7,554.8 1738.1,554.3 1740.6,553.5 1743.1,552.0 1745.9,549.4 1749.6,541.1 1752.3,541.9 1754.9,542.7 1757.5,543.5 1760.1,544.4 1762.7,545.4 1765.3,546.4 1767.9,547.4 1769.1,553.1 1769.9,559.2 1771.4,562.9 1773.1,565.6 1774.9,567.8 1776.9,569.6 1778.9,571.1 1781.1,572.3 1783.4,573.3 1785.8,573.9 1788.5,574.3 1791.5,574.1 1795.0,573.2 1800.2,569.8 1804.5,568.3 1806.8,570.1 1809.0,571.8 1811.2,573.6 1813.4,575.5 1815.6,577.3 1817.7,579.2 1819.8,581.2 1815.8,589.7 1815.7,593.7 1816.2,596.9 1817.1,599.6 1818.3,602.0 1819.6,604.2 1821.2,606.1 1823.1,607.9 1825.1,609.5 1827.5,610.9 1830.4,612.0 1833.9,612.8 1839.1,612.6 1845.7,611.8 1847.3,614.1 1848.8,616.6 1850.3,619.0 1851.8,621.4 1853.2,623.9 1854.5,626.4 1855.9,628.9 1849.8,634.4 1847.7,638.0 1846.9,641.1 1846.6,643.9 1846.7,646.4 1847.2,648.9 1847.9,651.2 1848.9,653.5 1850.3,655.7 1852.0,657.9 1854.2,660.0 1857.1,662.1 1861.4,664.0 1869.8,665.7 1870.4,668.4 1871.0,671.1 1871.5,673.8 1872.0,676.5 1872.5,679.2 1872.9,681.9 1873.3,684.6 1866.7,687.1 1862.6,689.4 1860.3,691.8 1858.9,694.0 1857.9,696.3 1857.3,698.6 1857.1,701.0 1857.2,703.4 1857.6,705.8 1858.3,708.3 1859.5,711.0 1861.3,713.9 1864.3,717.1 1873.1,722.1 1872.7,724.7 1872.3,727.3 1871.8,729.8 1871.3,732.4 1870.7,734.9 1870.1,737.5 1869.4,740.0 1863.9,740.4 1857.9,740.4 1854.6,741.4 1852.1,742.7 1850.2,744.3 1848.7,746.1 1847.5,748.0 1846.6,750.0 1846.0,752.2 1845.6,754.7 1845.7,757.4 1846.2,760.5 1847.6,764.2 1851.7,770.1 1853.8,774.7 1852.4,776.8 1851.0,778.8 1849.5,780.9 1848.0,782.9 1846.5,784.8 1844.9,786.7 1843.2,788.6 1834.2,783.3 1830.2,782.6 1827.2,782.7 1824.6,783.2 1822.4,784.1 1820.4,785.2 1818.7,786.6 1817.2,788.2 1815.9,790.1 1814.9,792.4 1814.2,795.1 1813.9,798.6 1814.8,804.0 1816.6,811.0 1814.5,812.2 1812.3,813.5 1810.1,814.7 1807.8,815.8 1805.6,816.9 1803.3,818.0 1801.0,819.0 1794.7,812.0 1790.8,809.3 1787.7,808.0 1784.9,807.3 1782.4,807.1 1780.0,807.2 1777.8,807.6 1775.6,808.4 1773.6,809.5 1771.7,810.9 1769.9,812.9 1768.3,815.5 1767.0,819.8 1766.5,828.1 1764.0,828.4 1761.4,828.6 1758.8,828.8 1756.1,828.9 1753.5,829.0 1750.9,829.0 1748.3,829.0 1744.9,821.9 1742.0,817.4 1739.4,814.7 1736.9,812.9 1734.5,811.6 1732.1,810.7 1729.8,810.1 1727.4,809.8 1725.1,809.9 1722.7,810.3 1720.2,811.1 1717.6,812.6 1714.8,815.3 1711.1,823.6 1708.5,822.8 1705.8,822.0 1703.2,821.1 1700.6,820.2 1698.0,819.3 1695.4,818.3 1692.9,817.2 1691.7,811.5 1690.8,805.4 1689.4,801.8 1687.7,799.1 1685.8,796.9 1683.9,795.0 1681.8,793.6 1679.7,792.3 1677.4,791.4 1674.9,790.7 1672.2,790.4 1669.3,790.5 1665.7,791.4 1660.5,794.8 1656.2,796.3 1654.0,794.6 1651.7,792.8 1649.5,791.0 1647.3,789.2 1645.2,787.3 1643.0,785.4 1640.9,783.5 1644.9,774.9 1645.0,770.9 1644.5,767.8 1643.6,765.0 1642.5,762.6 1641.1,760.5 1639.5,758.5 1637.7,756.7 1635.6,755.1 1633.2,753.8 1630.4,752.6 1626.9,751.8 1621.7,752.0 1615.0,752.9 1613.5,750.5 1611.9,748.1 1610.4,745.7 1609.0,743.2 1607.6,740.7 1606.2,738.2 1604.9,735.7 1611.0,730.2 1613.0,726.6 1613.9,723.5 1614.2,720.8 1614.0,718.2 1613.6,715.7 1612.8,713.4 1611.8,711.1 1610.5,708.9 1608.7,706.7 1606.6,704.6 1603.7,702.5 1599.3,700.6 1591.0,699.0 1590.3,696.3 1589.7,693.6 1589.2,690.9 1588.7,688.2 1588.2,685.4 1587.8,682.7 1587.5,680.0 1594.1,677.6 1598.1,675.2 1600.4,672.9 1601.9,670.6 1602.8,668.3 1603.4,666.0 1603.6,663.7 1603.6,661.3 1603.2,658.8 1602.4,656.3 1601.2,653.7 1599.4,650.8 1596.4,647.5 1587.7,642.6 1588.0,640.0 1588.5,637.4 1588.9,634.8 1589.5,632.2 1590.0,629.7 1590.7,627.2 1591.3,624.7 1596.8,624.3 1602.8,624.3 1606.2,623.3 1608.6,621.9 1610.5,620.3 1612.1,618.6 1613.3,616.7 1614.2,614.6 1614.8,612.4 1615.1,610.0 1615.0,607.3 1614.5,604.2 1613.1,600.4 1609.0,594.6 1606.9,590.0 1608.3,587.9 1609.7,585.8 1611.2,583.8 1612.7,581.8 1614.3,579.8 1615.9,577.9 1617.5,576.0 1626.5,581.3 1630.5,582.0 1633.6,581.9 1636.1,581.4 1638.3,580.6" fill="#9c9c9c"/>
<polygon points="1637.8,581.2 1639.6,579.8 1641.1,578.2 1642.3,576.3 1643.4,574.0 1644.1,571.2 1644.4,567.7 1643.5,562.3 1641.7,555.4 1643.8,554.1 1646.0,552.9 1648.2,551.7 1650.4,550.5 1652.7,549.4 1655.0,548.4 1657.3,547.3 1663.6,554.4 1667.5,557.0 1670.6,558.3 1673.4,559.0 1676.0,559.3 1678.3,559.1 1680.6,558.7 1682.7,558.0 1684.7,556.9 1686.6,555.4 1688.4,553.5 1690.0,550.8 1691.4,546.6 1691.8,538.2 1694.4,537.9 1697.0,537.7 1699.6,537.5 1702.2,537.4 1704.8,537.3 1707.5,537.3 1710.1,537.3 1713.5,544.4 1716.4,549.0 1719.0,551.6 1721.5,553.4 1723.9,554.8 1726.3,555.7 1728.6,556.3 1731.0,556.5 1733.4,556.5 1735.8,556.0 1738.2,555.2 1740.8,553.7 1743.6,551.1 1747.3,542.8 1750.0,543.5 1752.6,544.3 1755.2,545.2 1757.8,546.1 1760.4,547.0 1763.0,548.0 1765.6,549.1 1766.8,554.8 1767.6,561.0 1769.1,564.6 1770.8,567.3 1772.6,569.5 1774.6,571.3 1776.6,572.8 1778.8,574.0 1781.1,575.0 1783.6,575.6 1786.2,576.0 1789.2,575.9 1792.8,575.0 1798.0,571.6 1802.3,570.0 1804.5,571.8 1806.8,573.5 1809.0,575.3 1811.2,577.2 1813.4,579.1 1815.5,581.0 1817.6,582.9 1813.6,591.5 1813.5,595.5 1814.0,598.6 1814.9,601.4 1816.1,603.8 1817.4,605.9 1819.0,607.9 1820.9,609.7 1822.9,611.3 1825.3,612.7 1828.2,613.8 1831.7,614.6 1836.9,614.4 1843.5,613.5 1845.1,615.9 1846.6,618.3 1848.1,620.8 1849.6,623.2 1851.0,625.7 1852.4,628.2 1853.7,630.7 1847.6,636.2 1845.6,639.9 1844.7,642.9 1844.4,645.7 1844.5,648.3 1845.0,650.7 1845.7,653.1 1846.8,655.4 1848.1,657.6 1849.8,659.8 1852.0,661.9 1854.9,663.9 1859.3,665.9 1867.6,667.5 1868.3,670.2 1868.9,672.9 1869.4,675.6 1869.9,678.4 1870.4,681.1 1870.8,683.8 1871.1,686.5 1864.5,689.0 1860.5,691.3 1858.2,693.6 1856.7,695.9 1855.8,698.2 1855.2,700.6 1855.0,702.9 1855.0,705.3 1855.4,707.7 1856.2,710.2 1857.4,712.9 1859.2,715.8 1862.2,719.0 1871.0,724.0 1870.6,726.6 1870.1,729.2 1869.7,731.8 1869.1,734.3 1868.6,736.9 1867.9,739.4 1867.3,741.9 1861.8,742.3 1855.8,742.3 1852.4,743.4 1849.9,744.7 1848.0,746.3 1846.5,748.0 1845.3,749.9 1844.4,752.0 1843.8,754.2 1843.5,756.7 1843.5,759.4 1844.1,762.5 1845.4,766.2 1849.6,772.1 1851.7,776.7 1850.3,778.8 1848.8,780.9 1847.4,782.9 1845.9,784.9 1844.3,786.8 1842.7,788.8 1841.1,790.7 1832.0,785.4 1828.1,784.7 1825.0,784.7 1822.4,785.3 1820.2,786.1 1818.2,787.2 1816.5,788.6 1815.0,790.2 1813.7,792.2 1812.7,794.4 1811.9,797.2 1811.7,800.7 1812.6,806.1 1814.4,813.0 1812.2,814.3 1810.1,815.5 1807.9,816.7 1805.6,817.9 1803.4,819.0 1801.1,820.1 1798.8,821.1 1792.5,814.0 1788.6,811.4 1785.4,810.1 1782.6,809.4 1780.1,809.1 1777.7,809.3 1775.5,809.7 1773.4,810.4 1771.4,811.5 1769.5,813.0 1767.7,814.9 1766.0,817.6 1764.7,821.9 1764.3,830.2 1761.7,830.5 1759.1,830.7 1756.5,830.9 1753.9,831.0 1751.2,831.1 1748.6,831.1 1746.0,831.1 1742.6,824.0 1739.7,819.4 1737.0,816.8 1734.6,815.0 1732.1,813.6 1729.8,812.7 1727.4,812.2 1725.1,811.9 1722.7,811.9 1720.3,812.4 1717.8,813.2 1715.2,814.7 1712.4,817.3 1708.7,825.6 1706.1,824.9 1703.5,824.1 1700.9,823.2 1698.2,822.3 1695.6,821.4 1693.0,820.4 1690.5,819.3 1689.3,813.6 1688.4,807.5 1687.0,803.8 1685.3,801.1 1683.4,798.9 1681.5,797.1 1679.4,795.6 1677.3,794.4 1675.0,793.4 1672.5,792.8 1669.8,792.4 1666.8,792.6 1663.3,793.4 1658.1,796.8 1653.8,798.4 1651.5,796.6 1649.3,794.9 1647.1,793.1 1644.9,791.2 1642.7,789.3 1640.6,787.4 1638.5,785.5 1642.4,776.9 1642.6,772.9 1642.1,769.8 1641.2,767.0 1640.0,764.6 1638.6,762.5 1637.0,760.5 1635.2,758.7 1633.1,757.1 1630.7,755.7 1627.9,754.6 1624.4,753.8 1619.2,754.0 1612.5,754.9 1611.0,752.5 1609.4,750.1 1607.9,747.6 1606.5,745.2 1605.1,742.7 1603.7,740.2 1602.4,737.7 1608.4,732.2 1610.5,728.5 1611.4,725.5 1611.7,722.7 1611.5,720.1 1611.1,717.7 1610.3,715.3 1609.3,713.0 1607.9,710.8 1606.2,708.7 1604.0,706.5 1601.1,704.5 1596.8,702.5 1588.4,700.9 1587.8,698.2 1587.2,695.5 1586.6,692.8 1586.1,690.0 1585.7,687.3 1585.3,684.6 1584.9,681.9 1591.6,679.4 1595.6,677.1 1597.9,674.8 1599.3,672.5 1600.3,670.2 1600.9,667.9 1601.1,665.5 1601.0,663.1 1600.7,660.7 1599.9,658.2 1598.7,655.5 1596.9,652.6 1593.9,649.4 1585.1,644.4 1585.5,641.8 1585.9,639.2 1586.4,636.6 1586.9,634.1 1587.5,631.5 1588.1,629.0 1588.8,626.5 1594.3,626.1 1600.3,626.1 1603.7,625.1 1606.1,623.7 1608.0,622.1 1609.6,620.4 1610.8,618.5 1611.7,616.4 1612.3,614.2 1612.6,611.7 1612.5,609.0 1612.0,605.9 1610.6,602.2 1606.5,596.3 1604.4,591.7 1605.8,589.6 1607.2,587.6 1608.7,585.5 1610.2,583.5 1611.8,581.6 1613.4,579.6 1615.0,577.8 1624.0,583.0 1628.0,583.7 1631.1,583.7 1633.7,583.1 1635.9,582.3" fill="#9c9c9c"/>
<polygon points="1635.4,582.9 1637.1,581.5 1638.6,579.9 1639.9,578.0 1640.9,575.7 1641.7,572.9 1641.9,569.4 1641.0,564.0 1639.2,557.1 1641.4,555.8 1643.6,554.6 1645.8,553.4 1648.0,552.2 1650.3,551.1 1652.5,550.0 1654.9,549.0 1661.2,556.1 1665.1,558.7 1668.2,560.0 1671.0,560.7 1673.6,561.0 1675.9,560.8 1678.2,560.4 1680.3,559.7 1682.3,558.6 1684.2,557.1 1686.0,555.2 1687.7,552.5 1689.0,548.2 1689.4,539.9 1692.0,539.6 1694.6,539.4 1697.2,539.2 1699.8,539.1 1702.5,539.0 1705.1,538.9 1707.8,539.0 1711.1,546.1 1714.1,550.6 1716.7,553.3 1719.2,555.1 1721.6,556.5 1724.0,557.4 1726.3,557.9 1728.7,558.2 1731.0,558.2 1733.4,557.7 1735.9,556.9 1738.5,555.4 1741.3,552.8 1745.0,544.4 1747.7,545.2 1750.3,546.0 1752.9,546.9 1755.5,547.8 1758.1,548.7 1760.7,549.7 1763.3,550.8 1764.5,556.5 1765.3,562.7 1766.8,566.3 1768.5,569.0 1770.4,571.2 1772.3,573.0 1774.4,574.5 1776.5,575.8 1778.8,576.7 1781.3,577.4 1784.0,577.7 1787.0,577.6 1790.5,576.7 1795.7,573.3 1800.0,571.8 1802.3,573.5 1804.6,575.3 1806.8,577.1 1809.0,578.9 1811.2,580.8 1813.3,582.7 1815.4,584.7 1811.4,593.2 1811.3,597.2 1811.8,600.4 1812.7,603.1 1813.8,605.5 1815.2,607.7 1816.8,609.7 1818.7,611.4 1820.7,613.0 1823.2,614.4 1826.0,615.6 1829.5,616.4 1834.7,616.2 1841.4,615.3 1842.9,617.7 1844.5,620.1 1846.0,622.6 1847.4,625.0 1848.9,627.5 1850.2,630.0 1851.6,632.5 1845.5,638.0 1843.4,641.7 1842.5,644.7 1842.2,647.5 1842.4,650.1 1842.8,652.6 1843.6,654.9 1844.6,657.2 1846.0,659.4 1847.7,661.6 1849.9,663.7 1852.8,665.8 1857.2,667.8 1865.5,669.4 1866.1,672.1 1866.7,674.8 1867.3,677.5 1867.8,680.2 1868.2,682.9 1868.7,685.7 1869.0,688.4 1862.4,690.9 1858.3,693.2 1856.0,695.5 1854.6,697.8 1853.6,700.1 1853.0,702.5 1852.8,704.8 1852.9,707.2 1853.3,709.6 1854.0,712.2 1855.2,714.8 1857.0,717.7 1860.1,721.0 1868.8,726.0 1868.4,728.6 1868.0,731.2 1867.5,733.7 1867.0,736.3 1866.4,738.9 1865.8,741.4 1865.1,743.9 1859.6,744.3 1853.6,744.3 1850.3,745.3 1847.8,746.7 1845.9,748.3 1844.3,750.0 1843.1,751.9 1842.2,754.0 1841.6,756.2 1841.3,758.6 1841.4,761.4 1841.9,764.5 1843.3,768.2 1847.4,774.1 1849.5,778.7 1848.1,780.8 1846.7,782.9 1845.2,784.9 1843.7,786.9 1842.1,788.9 1840.5,790.8 1838.9,792.7 1829.9,787.4 1825.9,786.7 1822.8,786.8 1820.2,787.3 1818.0,788.1 1816.0,789.3 1814.3,790.6 1812.8,792.3 1811.5,794.2 1810.5,796.5 1809.7,799.2 1809.5,802.7 1810.4,808.1 1812.2,815.1 1810.0,816.4 1807.8,817.6 1805.6,818.8 1803.4,820.0 1801.1,821.1 1798.9,822.1 1796.5,823.1 1790.2,816.1 1786.3,813.5 1783.2,812.1 1780.4,811.4 1777.8,811.2 1775.5,811.3 1773.2,811.8 1771.1,812.5 1769.1,813.6 1767.2,815.0 1765.4,817.0 1763.7,819.7 1762.4,823.9 1762.0,832.3 1759.4,832.6 1756.8,832.8 1754.2,833.0 1751.6,833.1 1748.9,833.2 1746.3,833.2 1743.6,833.2 1740.3,826.0 1737.3,821.5 1734.7,818.9 1732.2,817.0 1729.8,815.7 1727.4,814.8 1725.1,814.2 1722.7,814.0 1720.4,814.0 1718.0,814.4 1715.5,815.3 1712.9,816.8 1710.1,819.4 1706.4,827.7 1703.7,827.0 1701.1,826.2 1698.5,825.3 1695.9,824.4 1693.3,823.4 1690.7,822.4 1688.1,821.4 1686.9,815.7 1686.1,809.5 1684.6,805.9 1682.9,803.2 1681.0,801.0 1679.1,799.1 1677.0,797.6 1674.9,796.4 1672.6,795.5 1670.1,794.8 1667.4,794.5 1664.4,794.6 1660.9,795.5 1655.7,798.9 1651.4,800.4 1649.1,798.7 1646.8,796.9 1644.6,795.1 1642.4,793.3 1640.2,791.4 1638.1,789.5 1636.0,787.5 1640.0,779.0 1640.1,775.0 1639.6,771.8 1638.7,769.0 1637.6,766.6 1636.2,764.5 1634.6,762.5 1632.7,760.7 1630.7,759.1 1628.2,757.7 1625.4,756.6 1621.9,755.8 1616.7,756.0 1610.0,756.9 1608.5,754.5 1606.9,752.0 1605.4,749.6 1604.0,747.1 1602.5,744.7 1601.2,742.1 1599.8,739.6 1605.9,734.1 1608.0,730.5 1608.9,727.4 1609.2,724.7 1609.0,722.1 1608.6,719.6 1607.8,717.2 1606.8,715.0 1605.4,712.7 1603.7,710.6 1601.5,708.4 1598.6,706.4 1594.2,704.4 1585.9,702.8 1585.3,700.1 1584.7,697.4 1584.1,694.7 1583.6,691.9 1583.2,689.2 1582.7,686.5 1582.4,683.8 1589.0,681.3 1593.1,679.0 1595.4,676.6 1596.8,674.3 1597.8,672.0 1598.4,669.7 1598.6,667.4 1598.5,665.0 1598.1,662.5 1597.4,660.0 1596.2,657.3 1594.4,654.5 1591.3,651.2 1582.6,646.2 1583.0,643.6 1583.4,641.0 1583.9,638.4 1584.4,635.9 1585.0,633.3 1585.6,630.8 1586.3,628.3 1591.8,627.9 1597.8,627.9 1601.1,626.8 1603.6,625.5 1605.5,623.9 1607.1,622.2 1608.3,620.3 1609.2,618.2 1609.8,616.0 1610.1,613.5 1610.0,610.8 1609.5,607.7 1608.1,604.0 1604.0,598.1 1601.9,593.5 1603.3,591.4 1604.7,589.3 1606.2,587.3 1607.7,585.3 1609.3,583.3 1610.9,581.4 1612.5,579.5 1621.5,584.8 1625.5,585.5 1628.6,585.4 1631.2,584.9 1633.4,584.0" fill="#9c9c9c"/>
<polygon points="1632.9,584.6 1634.6,583.3 1636.1,581.6 1637.4,579.7 1638.5,577.4 1639.2,574.7 1639.5,571.1 1638.5,565.7 1636.8,558.8 1638.9,557.5 1641.1,556.2 1643.3,555.0 1645.6,553.9 1647.8,552.8 1650.1,551.7 1652.4,550.7 1658.8,557.8 1662.6,560.4 1665.8,561.7 1668.6,562.4 1671.2,562.7 1673.5,562.5 1675.8,562.1 1677.9,561.4 1679.9,560.3 1681.8,558.8 1683.6,556.9 1685.3,554.2 1686.6,549.9 1687.0,541.6 1689.6,541.3 1692.2,541.0 1694.8,540.9 1697.5,540.7 1700.1,540.6 1702.7,540.6 1705.4,540.6 1708.8,547.8 1711.7,552.3 1714.3,555.0 1716.8,556.8 1719.2,558.1 1721.6,559.1 1724.0,559.6 1726.3,559.9 1728.7,559.8 1731.1,559.4 1733.6,558.6 1736.2,557.1 1739.0,554.4 1742.7,546.1 1745.4,546.9 1748.0,547.7 1750.6,548.5 1753.2,549.5 1755.9,550.4 1758.5,551.4 1761.0,552.5 1762.2,558.2 1763.1,564.4 1764.6,568.0 1766.3,570.7 1768.1,572.9 1770.1,574.7 1772.1,576.3 1774.3,577.5 1776.6,578.4 1779.1,579.1 1781.7,579.4 1784.7,579.3 1788.3,578.4 1793.5,575.0 1797.8,573.5 1800.1,575.2 1802.3,577.0 1804.6,578.8 1806.8,580.6 1808.9,582.5 1811.1,584.4 1813.2,586.4 1809.2,594.9 1809.1,599.0 1809.6,602.2 1810.5,604.9 1811.6,607.3 1813.0,609.5 1814.6,611.4 1816.5,613.2 1818.6,614.8 1821.0,616.2 1823.8,617.4 1827.3,618.1 1832.5,617.9 1839.2,617.1 1840.8,619.5 1842.3,621.9 1843.8,624.4 1845.3,626.8 1846.7,629.3 1848.1,631.8 1849.4,634.3 1843.3,639.9 1841.2,643.5 1840.4,646.6 1840.1,649.3 1840.2,651.9 1840.7,654.4 1841.4,656.8 1842.5,659.0 1843.8,661.3 1845.5,663.4 1847.7,665.6 1850.6,667.7 1855.0,669.6 1863.4,671.2 1864.0,674.0 1864.6,676.7 1865.2,679.4 1865.7,682.1 1866.1,684.8 1866.5,687.5 1866.9,690.3 1860.2,692.8 1856.2,695.1 1853.9,697.4 1852.4,699.7 1851.5,702.0 1850.9,704.4 1850.7,706.7 1850.7,709.1 1851.1,711.5 1851.9,714.1 1853.1,716.8 1854.9,719.6 1857.9,722.9 1866.7,727.9 1866.3,730.5 1865.9,733.1 1865.4,735.7 1864.9,738.3 1864.3,740.8 1863.7,743.3 1863.0,745.9 1857.5,746.3 1851.5,746.3 1848.1,747.3 1845.6,748.7 1843.7,750.2 1842.2,752.0 1841.0,753.9 1840.1,755.9 1839.5,758.2 1839.1,760.6 1839.2,763.3 1839.7,766.4 1841.1,770.2 1845.3,776.1 1847.4,780.7 1846.0,782.8 1844.5,784.9 1843.1,786.9 1841.5,788.9 1840.0,790.9 1838.4,792.8 1836.7,794.7 1827.7,789.4 1823.7,788.7 1820.6,788.8 1818.0,789.3 1815.8,790.2 1813.8,791.3 1812.1,792.7 1810.6,794.3 1809.3,796.2 1808.3,798.5 1807.5,801.3 1807.3,804.8 1808.2,810.2 1810.0,817.2 1807.8,818.4 1805.6,819.7 1803.4,820.9 1801.2,822.0 1798.9,823.1 1796.6,824.2 1794.3,825.2 1788.0,818.2 1784.1,815.5 1780.9,814.2 1778.1,813.5 1775.6,813.3 1773.2,813.4 1771.0,813.8 1768.8,814.6 1766.8,815.7 1764.9,817.1 1763.1,819.1 1761.5,821.8 1760.1,826.0 1759.7,834.4 1757.1,834.7 1754.5,834.9 1751.9,835.1 1749.3,835.2 1746.6,835.3 1744.0,835.3 1741.3,835.3 1737.9,828.1 1735.0,823.6 1732.4,820.9 1729.9,819.1 1727.5,817.8 1725.1,816.9 1722.8,816.3 1720.4,816.0 1718.0,816.1 1715.6,816.5 1713.1,817.4 1710.5,818.8 1707.7,821.5 1704.0,829.8 1701.4,829.0 1698.7,828.2 1696.1,827.4 1693.5,826.5 1690.9,825.5 1688.3,824.5 1685.7,823.5 1684.5,817.7 1683.7,811.6 1682.2,807.9 1680.5,805.2 1678.6,803.0 1676.7,801.2 1674.6,799.7 1672.5,798.5 1670.1,797.5 1667.7,796.8 1665.0,796.5 1662.0,796.6 1658.5,797.5 1653.2,800.9 1648.9,802.5 1646.6,800.7 1644.4,799.0 1642.2,797.1 1640.0,795.3 1637.8,793.4 1635.7,791.5 1633.5,789.5 1637.5,781.0 1637.7,777.0 1637.1,773.8 1636.2,771.0 1635.1,768.6 1633.7,766.5 1632.1,764.5 1630.3,762.7 1628.2,761.1 1625.8,759.7 1622.9,758.6 1619.4,757.8 1614.2,758.0 1607.5,758.8 1605.9,756.4 1604.4,754.0 1602.9,751.6 1601.4,749.1 1600.0,746.6 1598.7,744.1 1597.3,741.6 1603.4,736.1 1605.5,732.4 1606.4,729.4 1606.7,726.6 1606.5,724.0 1606.1,721.5 1605.3,719.2 1604.3,716.9 1602.9,714.7 1601.2,712.5 1599.0,710.4 1596.1,708.3 1591.7,706.3 1583.4,704.7 1582.7,702.0 1582.1,699.3 1581.6,696.5 1581.1,693.8 1580.6,691.1 1580.2,688.4 1579.9,685.7 1586.5,683.2 1590.6,680.8 1592.8,678.5 1594.3,676.2 1595.3,673.9 1595.8,671.6 1596.1,669.2 1596.0,666.8 1595.6,664.4 1594.9,661.8 1593.7,659.2 1591.8,656.3 1588.8,653.0 1580.0,648.0 1580.4,645.4 1580.8,642.8 1581.3,640.2 1581.9,637.7 1582.4,635.1 1583.1,632.6 1583.7,630.1 1589.3,629.7 1595.2,629.7 1598.6,628.6 1601.1,627.3 1603.0,625.7 1604.6,623.9 1605.8,622.0 1606.7,620.0 1607.3,617.7 1607.6,615.3 1607.5,612.6 1607.0,609.5 1605.6,605.7 1601.5,599.8 1599.4,595.2 1600.8,593.1 1602.2,591.0 1603.7,589.0 1605.2,587.0 1606.8,585.0 1608.4,583.1 1610.0,581.2 1619.0,586.5 1623.0,587.2 1626.1,587.1 1628.7,586.6 1630.9,585.7" fill="#9c9c9c"/>
<polygon points="1630.4,586.4 1632.2,585.0 1633.7,583.4 1635.0,581.4 1636.0,579.1 1636.8,576.4 1637.0,572.8 1636.1,567.4 1634.3,560.5 1636.5,559.2 1638.6,557.9 1640.9,556.7 1643.1,555.6 1645.4,554.5 1647.7,553.4 1650.0,552.4 1656.3,559.5 1660.2,562.1 1663.4,563.4 1666.2,564.1 1668.7,564.4 1671.1,564.2 1673.4,563.8 1675.5,563.1 1677.5,562.0 1679.4,560.5 1681.2,558.6 1682.9,555.8 1684.2,551.6 1684.6,543.2 1687.2,542.9 1689.9,542.7 1692.5,542.5 1695.1,542.4 1697.7,542.3 1700.4,542.3 1703.0,542.3 1706.4,549.5 1709.4,554.0 1712.0,556.7 1714.5,558.5 1716.9,559.8 1719.3,560.8 1721.6,561.3 1724.0,561.6 1726.4,561.5 1728.8,561.1 1731.3,560.3 1733.9,558.8 1736.7,556.1 1740.4,547.8 1743.1,548.6 1745.7,549.4 1748.3,550.2 1751.0,551.1 1753.6,552.1 1756.2,553.1 1758.8,554.1 1759.9,559.9 1760.8,566.1 1762.3,569.7 1764.0,572.4 1765.8,574.6 1767.8,576.5 1769.8,578.0 1772.0,579.2 1774.3,580.1 1776.8,580.8 1779.5,581.1 1782.5,581.0 1786.0,580.1 1791.3,576.7 1795.6,575.2 1797.9,576.9 1800.1,578.7 1802.4,580.5 1804.6,582.4 1806.7,584.2 1808.9,586.2 1811.0,588.1 1807.0,596.7 1806.9,600.7 1807.4,603.9 1808.3,606.6 1809.4,609.1 1810.8,611.2 1812.4,613.2 1814.3,615.0 1816.4,616.6 1818.8,618.0 1821.6,619.1 1825.1,619.9 1830.4,619.7 1837.0,618.9 1838.6,621.3 1840.2,623.7 1841.7,626.1 1843.1,628.6 1844.5,631.1 1845.9,633.6 1847.3,636.1 1841.1,641.7 1839.1,645.3 1838.2,648.4 1837.9,651.2 1838.0,653.8 1838.5,656.2 1839.2,658.6 1840.3,660.9 1841.6,663.1 1843.4,665.3 1845.6,667.4 1848.5,669.5 1852.9,671.5 1861.2,673.1 1861.9,675.8 1862.5,678.5 1863.0,681.3 1863.5,684.0 1864.0,686.7 1864.4,689.4 1864.8,692.2 1858.1,694.6 1854.0,697.0 1851.8,699.3 1850.3,701.6 1849.3,703.9 1848.7,706.3 1848.5,708.6 1848.6,711.0 1849.0,713.5 1849.7,716.0 1850.9,718.7 1852.8,721.6 1855.8,724.8 1864.6,729.8 1864.2,732.4 1863.8,735.0 1863.3,737.6 1862.8,740.2 1862.2,742.8 1861.6,745.3 1860.9,747.8 1855.3,748.2 1849.4,748.2 1846.0,749.3 1843.5,750.6 1841.6,752.2 1840.0,754.0 1838.8,755.9 1837.9,757.9 1837.3,760.2 1837.0,762.6 1837.0,765.3 1837.6,768.4 1839.0,772.2 1843.1,778.1 1845.2,782.7 1843.8,784.8 1842.4,786.9 1840.9,789.0 1839.4,791.0 1837.8,792.9 1836.2,794.9 1834.6,796.8 1825.5,791.4 1821.5,790.7 1818.4,790.8 1815.8,791.4 1813.6,792.2 1811.6,793.3 1809.9,794.7 1808.4,796.3 1807.1,798.3 1806.0,800.5 1805.3,803.3 1805.0,806.8 1806.0,812.2 1807.8,819.2 1805.6,820.5 1803.4,821.8 1801.2,823.0 1799.0,824.1 1796.7,825.2 1794.4,826.3 1792.1,827.3 1785.7,820.2 1781.8,817.6 1778.7,816.2 1775.9,815.6 1773.3,815.3 1770.9,815.5 1768.7,815.9 1766.6,816.6 1764.6,817.7 1762.6,819.2 1760.8,821.1 1759.2,823.8 1757.9,828.1 1757.4,836.5 1754.8,836.7 1752.2,837.0 1749.6,837.2 1747.0,837.3 1744.3,837.4 1741.7,837.4 1739.0,837.4 1735.6,830.2 1732.7,825.7 1730.1,823.0 1727.6,821.2 1725.2,819.9 1722.8,818.9 1720.4,818.4 1718.1,818.1 1715.7,818.1 1713.3,818.6 1710.8,819.4 1708.2,820.9 1705.4,823.6 1701.7,831.9 1699.0,831.1 1696.4,830.3 1693.7,829.5 1691.1,828.6 1688.5,827.6 1685.9,826.6 1683.3,825.6 1682.1,819.8 1681.3,813.6 1679.8,810.0 1678.1,807.3 1676.2,805.0 1674.3,803.2 1672.2,801.7 1670.0,800.5 1667.7,799.5 1665.3,798.9 1662.6,798.5 1659.6,798.7 1656.0,799.6 1650.8,803.0 1646.5,804.5 1644.2,802.8 1641.9,801.0 1639.7,799.2 1637.5,797.3 1635.3,795.4 1633.2,793.5 1631.1,791.6 1635.1,783.0 1635.2,779.0 1634.7,775.8 1633.8,773.0 1632.6,770.6 1631.2,768.5 1629.6,766.5 1627.8,764.7 1625.7,763.1 1623.3,761.7 1620.5,760.5 1616.9,759.8 1611.7,760.0 1605.0,760.8 1603.4,758.4 1601.9,756.0 1600.4,753.5 1598.9,751.1 1597.5,748.6 1596.1,746.1 1594.8,743.5 1600.9,738.0 1603.0,734.4 1603.9,731.3 1604.2,728.5 1604.0,725.9 1603.6,723.5 1602.8,721.1 1601.8,718.8 1600.4,716.6 1598.7,714.4 1596.5,712.3 1593.6,710.2 1589.2,708.2 1580.8,706.6 1580.2,703.9 1579.6,701.2 1579.0,698.4 1578.5,695.7 1578.1,693.0 1577.7,690.3 1577.3,687.5 1584.0,685.1 1588.0,682.7 1590.3,680.4 1591.8,678.0 1592.7,675.7 1593.3,673.4 1593.6,671.1 1593.5,668.7 1593.1,666.2 1592.3,663.7 1591.1,661.0 1589.3,658.1 1586.3,654.9 1577.5,649.9 1577.9,647.2 1578.3,644.6 1578.8,642.1 1579.3,639.5 1579.9,636.9 1580.5,634.4 1581.2,631.9 1586.7,631.5 1592.7,631.5 1596.1,630.4 1598.6,629.1 1600.5,627.5 1602.0,625.7 1603.2,623.8 1604.2,621.8 1604.8,619.5 1605.1,617.1 1605.0,614.4 1604.5,611.3 1603.1,607.5 1599.0,601.6 1596.9,596.9 1598.3,594.8 1599.7,592.8 1601.2,590.7 1602.7,588.7 1604.3,586.8 1605.9,584.8 1607.5,582.9 1616.6,588.2 1620.6,588.9 1623.7,588.9 1626.2,588.3 1628.5,587.5" fill="#9c9c9c"/>
<polygon points="1628.0,588.1 1629.7,586.7 1631.2,585.1 1632.5,583.1 1633.6,580.9 1634.3,578.1 1634.6,574.6 1633.6,569.2 1631.8,562.2 1634.0,560.9 1636.2,559.6 1638.4,558.4 1640.7,557.3 1642.9,556.2 1645.2,555.1 1647.6,554.1 1653.9,561.2 1657.8,563.8 1661.0,565.1 1663.8,565.8 1666.3,566.1 1668.7,565.9 1671.0,565.5 1673.1,564.7 1675.1,563.7 1677.0,562.2 1678.8,560.2 1680.5,557.5 1681.8,553.3 1682.3,544.9 1684.9,544.6 1687.5,544.4 1690.1,544.2 1692.7,544.1 1695.4,544.0 1698.0,543.9 1700.7,544.0 1704.1,551.2 1707.0,555.7 1709.6,558.4 1712.1,560.2 1714.6,561.5 1717.0,562.5 1719.3,563.0 1721.7,563.3 1724.1,563.2 1726.5,562.8 1729.0,562.0 1731.6,560.5 1734.4,557.8 1738.1,549.5 1740.8,550.2 1743.4,551.0 1746.0,551.9 1748.7,552.8 1751.3,553.8 1753.9,554.8 1756.5,555.8 1757.7,561.6 1758.5,567.8 1760.0,571.4 1761.7,574.1 1763.6,576.4 1765.5,578.2 1767.6,579.7 1769.8,580.9 1772.1,581.9 1774.5,582.5 1777.2,582.9 1780.2,582.7 1783.8,581.9 1789.1,578.4 1793.4,576.9 1795.7,578.6 1797.9,580.4 1800.1,582.2 1802.3,584.1 1804.5,586.0 1806.7,587.9 1808.8,589.9 1804.8,598.4 1804.7,602.5 1805.2,605.7 1806.1,608.4 1807.2,610.8 1808.6,613.0 1810.2,615.0 1812.1,616.8 1814.2,618.4 1816.6,619.8 1819.4,620.9 1823.0,621.7 1828.2,621.5 1834.9,620.6 1836.5,623.0 1838.0,625.5 1839.5,627.9 1841.0,630.4 1842.4,632.9 1843.8,635.4 1845.1,638.0 1839.0,643.5 1836.9,647.1 1836.0,650.2 1835.7,653.0 1835.9,655.6 1836.3,658.1 1837.1,660.4 1838.1,662.7 1839.5,665.0 1841.2,667.1 1843.4,669.3 1846.3,671.4 1850.7,673.3 1859.1,675.0 1859.8,677.7 1860.4,680.4 1860.9,683.1 1861.4,685.8 1861.9,688.6 1862.3,691.3 1862.6,694.0 1856.0,696.5 1851.9,698.9 1849.6,701.2 1848.1,703.5 1847.2,705.8 1846.6,708.2 1846.4,710.5 1846.4,712.9 1846.8,715.4 1847.6,717.9 1848.8,720.6 1850.6,723.5 1853.7,726.8 1862.5,731.8 1862.1,734.4 1861.6,737.0 1861.2,739.6 1860.6,742.2 1860.0,744.7 1859.4,747.3 1858.7,749.8 1853.2,750.2 1847.2,750.2 1843.8,751.2 1841.3,752.6 1839.4,754.2 1837.9,755.9 1836.7,757.8 1835.7,759.9 1835.1,762.1 1834.8,764.6 1834.9,767.3 1835.4,770.4 1836.8,774.2 1840.9,780.1 1843.1,784.8 1841.7,786.9 1840.2,788.9 1838.7,791.0 1837.2,793.0 1835.6,795.0 1834.0,796.9 1832.4,798.8 1823.3,793.5 1819.3,792.8 1816.2,792.9 1813.6,793.4 1811.4,794.2 1809.4,795.4 1807.7,796.7 1806.2,798.4 1804.9,800.3 1803.8,802.6 1803.1,805.4 1802.8,808.9 1803.8,814.3 1805.6,821.3 1803.4,822.6 1801.2,823.8 1799.0,825.0 1796.7,826.2 1794.5,827.3 1792.2,828.4 1789.8,829.4 1783.5,822.3 1779.6,819.7 1776.4,818.3 1773.6,817.6 1771.1,817.4 1768.7,817.5 1766.4,818.0 1764.3,818.7 1762.3,819.8 1760.4,821.2 1758.6,823.2 1756.9,825.9 1755.6,830.2 1755.1,838.6 1752.5,838.8 1749.9,839.1 1747.3,839.3 1744.7,839.4 1742.0,839.5 1739.4,839.5 1736.7,839.5 1733.3,832.3 1730.4,827.8 1727.8,825.1 1725.3,823.2 1722.8,821.9 1720.4,821.0 1718.1,820.4 1715.7,820.2 1713.3,820.2 1710.9,820.6 1708.4,821.5 1705.8,823.0 1703.0,825.6 1699.3,834.0 1696.6,833.2 1694.0,832.4 1691.4,831.5 1688.7,830.6 1686.1,829.7 1683.5,828.7 1680.9,827.6 1679.7,821.9 1678.9,815.7 1677.4,812.1 1675.7,809.3 1673.8,807.1 1671.9,805.3 1669.8,803.8 1667.6,802.5 1665.3,801.6 1662.9,800.9 1660.2,800.6 1657.2,800.7 1653.6,801.6 1648.3,805.0 1644.0,806.6 1641.7,804.8 1639.5,803.0 1637.3,801.2 1635.1,799.4 1632.9,797.5 1630.7,795.6 1628.6,793.6 1632.6,785.0 1632.7,781.0 1632.2,777.8 1631.3,775.0 1630.2,772.6 1628.8,770.4 1627.2,768.5 1625.3,766.7 1623.2,765.1 1620.8,763.7 1618.0,762.5 1614.4,761.8 1609.2,761.9 1602.5,762.8 1600.9,760.4 1599.4,758.0 1597.9,755.5 1596.4,753.0 1595.0,750.5 1593.6,748.0 1592.3,745.5 1598.4,740.0 1600.5,736.3 1601.4,733.3 1601.7,730.5 1601.5,727.9 1601.1,725.4 1600.3,723.0 1599.3,720.7 1597.9,718.5 1596.2,716.3 1594.0,714.2 1591.1,712.1 1586.7,710.1 1578.3,708.5 1577.6,705.8 1577.0,703.1 1576.5,700.3 1576.0,697.6 1575.5,694.9 1575.1,692.1 1574.8,689.4 1581.4,686.9 1585.5,684.6 1587.8,682.2 1589.3,679.9 1590.2,677.6 1590.8,675.3 1591.0,672.9 1591.0,670.5 1590.6,668.1 1589.8,665.5 1588.6,662.9 1586.8,660.0 1583.7,656.7 1574.9,651.7 1575.3,649.1 1575.8,646.5 1576.2,643.9 1576.8,641.3 1577.4,638.7 1578.0,636.2 1578.7,633.7 1584.2,633.3 1590.2,633.3 1593.6,632.2 1596.1,630.9 1598.0,629.3 1599.5,627.5 1600.7,625.6 1601.7,623.5 1602.3,621.3 1602.6,618.9 1602.5,616.1 1602.0,613.0 1600.6,609.2 1596.5,603.3 1594.3,598.7 1595.7,596.6 1597.2,594.5 1598.7,592.5 1600.2,590.5 1601.8,588.5 1603.4,586.6 1605.0,584.7 1614.1,590.0 1618.1,590.7 1621.2,590.6 1623.8,590.1 1626.0,589.2" fill="#9c9c9c"/>
<polygon points="1625.5,589.8 1627.2,588.4 1628.8,586.8 1630.1,584.9 1631.1,582.6 1631.8,579.8 1632.1,576.3 1631.2,570.9 1629.4,563.9 1631.5,562.6 1633.7,561.3 1636.0,560.1 1638.2,558.9 1640.5,557.8 1642.8,556.8 1645.1,555.8 1651.5,562.8 1655.4,565.5 1658.6,566.8 1661.4,567.5 1663.9,567.8 1666.3,567.6 1668.6,567.2 1670.7,566.4 1672.7,565.4 1674.6,563.9 1676.5,561.9 1678.1,559.2 1679.4,555.0 1679.9,546.6 1682.5,546.3 1685.1,546.0 1687.7,545.9 1690.4,545.7 1693.0,545.6 1695.7,545.6 1698.3,545.6 1701.7,552.8 1704.7,557.4 1707.3,560.1 1709.8,561.9 1712.2,563.2 1714.6,564.1 1717.0,564.7 1719.3,565.0 1721.7,564.9 1724.2,564.5 1726.6,563.7 1729.2,562.2 1732.1,559.5 1735.8,551.1 1738.5,551.9 1741.1,552.7 1743.7,553.6 1746.4,554.5 1749.0,555.5 1751.6,556.5 1754.2,557.5 1755.4,563.3 1756.2,569.5 1757.7,573.1 1759.5,575.9 1761.3,578.1 1763.3,579.9 1765.3,581.4 1767.5,582.6 1769.8,583.6 1772.3,584.3 1775.0,584.6 1778.0,584.5 1781.6,583.6 1786.8,580.1 1791.1,578.6 1793.4,580.4 1795.7,582.1 1797.9,584.0 1800.1,585.8 1802.3,587.7 1804.5,589.6 1806.6,591.6 1802.6,600.2 1802.4,604.2 1803.0,607.4 1803.9,610.2 1805.0,612.6 1806.4,614.8 1808.0,616.7 1809.9,618.5 1812.0,620.1 1814.4,621.5 1817.2,622.7 1820.8,623.5 1826.0,623.3 1832.7,622.4 1834.3,624.8 1835.8,627.3 1837.3,629.7 1838.8,632.2 1840.2,634.7 1841.6,637.2 1843.0,639.8 1836.8,645.3 1834.7,648.9 1833.9,652.0 1833.6,654.8 1833.7,657.4 1834.2,659.9 1834.9,662.3 1836.0,664.6 1837.3,666.8 1839.0,669.0 1841.3,671.1 1844.2,673.2 1848.6,675.2 1857.0,676.8 1857.6,679.5 1858.2,682.3 1858.8,685.0 1859.3,687.7 1859.7,690.5 1860.1,693.2 1860.5,695.9 1853.8,698.4 1849.7,700.8 1847.5,703.1 1846.0,705.4 1845.0,707.7 1844.4,710.1 1844.2,712.4 1844.3,714.8 1844.7,717.3 1845.4,719.8 1846.6,722.5 1848.5,725.4 1851.5,728.7 1860.3,733.7 1859.9,736.3 1859.5,738.9 1859.0,741.5 1858.5,744.1 1857.9,746.7 1857.3,749.2 1856.6,751.7 1851.1,752.2 1845.1,752.2 1841.7,753.2 1839.2,754.6 1837.2,756.1 1835.7,757.9 1834.5,759.8 1833.6,761.9 1833.0,764.1 1832.6,766.6 1832.7,769.3 1833.2,772.4 1834.6,776.2 1838.8,782.1 1840.9,786.8 1839.5,788.9 1838.1,791.0 1836.6,793.0 1835.0,795.0 1833.5,797.0 1831.9,798.9 1830.2,800.8 1821.1,795.5 1817.1,794.8 1814.0,794.9 1811.4,795.4 1809.2,796.3 1807.2,797.4 1805.5,798.8 1804.0,800.4 1802.7,802.3 1801.6,804.6 1800.9,807.4 1800.6,810.9 1801.6,816.4 1803.4,823.4 1801.2,824.7 1799.0,825.9 1796.8,827.1 1794.5,828.3 1792.2,829.4 1789.9,830.4 1787.6,831.5 1781.3,824.4 1777.3,821.7 1774.2,820.4 1771.4,819.7 1768.8,819.5 1766.4,819.6 1764.2,820.0 1762.0,820.8 1760.0,821.8 1758.1,823.3 1756.3,825.3 1754.6,828.0 1753.3,832.3 1752.9,840.6 1750.3,840.9 1747.6,841.2 1745.0,841.4 1742.4,841.5 1739.7,841.6 1737.1,841.6 1734.4,841.6 1731.0,834.4 1728.1,829.8 1725.4,827.2 1722.9,825.3 1720.5,824.0 1718.1,823.1 1715.8,822.5 1713.4,822.2 1711.0,822.3 1708.6,822.7 1706.1,823.6 1703.5,825.0 1700.7,827.7 1696.9,836.1 1694.3,835.3 1691.6,834.5 1689.0,833.6 1686.4,832.7 1683.7,831.8 1681.1,830.8 1678.5,829.7 1677.3,823.9 1676.5,817.8 1675.0,814.1 1673.3,811.4 1671.4,809.1 1669.5,807.3 1667.4,805.8 1665.2,804.6 1662.9,803.6 1660.4,802.9 1657.7,802.6 1654.7,802.7 1651.2,803.6 1645.9,807.1 1641.6,808.6 1639.3,806.9 1637.0,805.1 1634.8,803.3 1632.6,801.4 1630.4,799.5 1628.3,797.6 1626.2,795.6 1630.1,787.0 1630.3,783.0 1629.8,779.8 1628.9,777.0 1627.7,774.6 1626.3,772.4 1624.7,770.5 1622.9,768.7 1620.8,767.1 1618.4,765.7 1615.5,764.5 1612.0,763.7 1606.7,763.9 1600.0,764.8 1598.4,762.4 1596.9,759.9 1595.4,757.5 1593.9,755.0 1592.5,752.5 1591.1,750.0 1589.8,747.5 1595.9,741.9 1598.0,738.3 1598.9,735.2 1599.1,732.4 1599.0,729.8 1598.6,727.3 1597.8,725.0 1596.8,722.7 1595.4,720.4 1593.7,718.2 1591.5,716.1 1588.6,714.0 1584.1,712.0 1575.8,710.4 1575.1,707.7 1574.5,705.0 1574.0,702.2 1573.5,699.5 1573.0,696.8 1572.6,694.0 1572.2,691.3 1578.9,688.8 1583.0,686.4 1585.3,684.1 1586.7,681.8 1587.7,679.5 1588.3,677.1 1588.5,674.8 1588.5,672.4 1588.1,669.9 1587.3,667.4 1586.1,664.7 1584.3,661.8 1581.2,658.5 1572.4,653.5 1572.8,650.9 1573.2,648.3 1573.7,645.7 1574.2,643.1 1574.8,640.5 1575.4,638.0 1576.1,635.5 1581.7,635.1 1587.7,635.1 1591.1,634.0 1593.6,632.7 1595.5,631.1 1597.0,629.3 1598.2,627.4 1599.2,625.3 1599.8,623.1 1600.1,620.6 1600.0,617.9 1599.5,614.8 1598.1,611.0 1594.0,605.1 1591.8,600.4 1593.2,598.3 1594.7,596.3 1596.2,594.2 1597.7,592.2 1599.3,590.2 1600.9,588.3 1602.5,586.4 1611.6,591.7 1615.6,592.4 1618.7,592.3 1621.3,591.8 1623.5,590.9" fill="#9c9c9c"/>
<polygon points="1623.0,591.6 1624.8,590.2 1626.3,588.5 1627.6,586.6 1628.6,584.3 1629.4,581.5 1629.7,578.0 1628.7,572.6 1626.9,565.5 1629.1,564.3 1631.3,563.0 1633.5,561.8 1635.8,560.6 1638.0,559.5 1640.4,558.5 1642.7,557.4 1649.0,564.5 1653.0,567.2 1656.1,568.5 1659.0,569.2 1661.5,569.5 1663.9,569.3 1666.2,568.9 1668.3,568.1 1670.3,567.1 1672.2,565.6 1674.1,563.6 1675.7,560.9 1677.0,556.6 1677.5,548.2 1680.1,547.9 1682.7,547.7 1685.3,547.5 1688.0,547.4 1690.6,547.3 1693.3,547.3 1696.0,547.3 1699.4,554.5 1702.3,559.1 1704.9,561.7 1707.5,563.6 1709.9,564.9 1712.3,565.8 1714.6,566.4 1717.0,566.7 1719.4,566.6 1721.8,566.2 1724.3,565.4 1726.9,563.9 1729.8,561.2 1733.5,552.8 1736.2,553.6 1738.8,554.4 1741.4,555.3 1744.1,556.2 1746.7,557.1 1749.3,558.1 1751.9,559.2 1753.1,565.0 1754.0,571.2 1755.5,574.8 1757.2,577.6 1759.0,579.8 1761.0,581.6 1763.1,583.1 1765.2,584.4 1767.6,585.3 1770.0,586.0 1772.7,586.3 1775.8,586.2 1779.3,585.3 1784.6,581.9 1788.9,580.3 1791.2,582.1 1793.5,583.9 1795.7,585.7 1797.9,587.5 1800.1,589.4 1802.3,591.4 1804.4,593.3 1800.4,601.9 1800.2,606.0 1800.8,609.2 1801.7,611.9 1802.8,614.4 1804.2,616.5 1805.8,618.5 1807.7,620.3 1809.8,621.9 1812.2,623.3 1815.0,624.5 1818.6,625.3 1823.8,625.1 1830.5,624.2 1832.1,626.6 1833.7,629.0 1835.2,631.5 1836.7,634.0 1838.1,636.5 1839.5,639.0 1840.8,641.6 1834.7,647.1 1832.6,650.8 1831.7,653.8 1831.4,656.6 1831.5,659.2 1832.0,661.7 1832.8,664.1 1833.8,666.4 1835.2,668.6 1836.9,670.8 1839.1,673.0 1842.0,675.1 1846.4,677.0 1854.8,678.7 1855.5,681.4 1856.1,684.1 1856.6,686.9 1857.2,689.6 1857.6,692.3 1858.0,695.1 1858.4,697.8 1851.7,700.3 1847.6,702.7 1845.3,705.0 1843.8,707.3 1842.9,709.7 1842.3,712.0 1842.1,714.3 1842.1,716.7 1842.5,719.2 1843.3,721.8 1844.5,724.4 1846.3,727.3 1849.4,730.6 1858.2,735.6 1857.8,738.3 1857.4,740.9 1856.9,743.5 1856.4,746.1 1855.8,748.6 1855.2,751.2 1854.5,753.7 1848.9,754.1 1842.9,754.1 1839.5,755.1 1837.0,756.5 1835.1,758.1 1833.5,759.9 1832.3,761.8 1831.4,763.9 1830.8,766.1 1830.5,768.6 1830.5,771.3 1831.1,774.4 1832.5,778.2 1836.6,784.1 1838.8,788.8 1837.3,790.9 1835.9,793.0 1834.4,795.0 1832.9,797.0 1831.3,799.0 1829.7,801.0 1828.1,802.9 1819.0,797.5 1814.9,796.8 1811.8,796.9 1809.2,797.4 1807.0,798.3 1805.0,799.4 1803.3,800.8 1801.8,802.4 1800.5,804.4 1799.4,806.7 1798.7,809.4 1798.4,813.0 1799.3,818.4 1801.1,825.4 1799.0,826.7 1796.8,828.0 1794.6,829.2 1792.3,830.3 1790.0,831.4 1787.7,832.5 1785.4,833.5 1779.0,826.4 1775.1,823.8 1771.9,822.4 1769.1,821.8 1766.5,821.5 1764.2,821.6 1761.9,822.1 1759.8,822.8 1757.7,823.9 1755.8,825.4 1754.0,827.3 1752.4,830.1 1751.0,834.3 1750.6,842.7 1748.0,843.0 1745.3,843.3 1742.7,843.4 1740.1,843.6 1737.4,843.7 1734.8,843.7 1732.1,843.7 1728.7,836.5 1725.8,831.9 1723.1,829.2 1720.6,827.4 1718.2,826.1 1715.8,825.1 1713.4,824.6 1711.1,824.3 1708.7,824.3 1706.2,824.8 1703.7,825.6 1701.1,827.1 1698.3,829.8 1694.6,838.2 1691.9,837.4 1689.3,836.6 1686.6,835.7 1684.0,834.8 1681.4,833.8 1678.7,832.8 1676.1,831.8 1675.0,826.0 1674.1,819.8 1672.6,816.2 1670.9,813.4 1669.0,811.2 1667.1,809.4 1665.0,807.8 1662.8,806.6 1660.5,805.7 1658.0,805.0 1655.3,804.7 1652.3,804.8 1648.8,805.7 1643.5,809.1 1639.2,810.6 1636.9,808.9 1634.6,807.1 1632.4,805.3 1630.1,803.4 1628.0,801.5 1625.8,799.6 1623.7,797.6 1627.7,789.0 1627.8,785.0 1627.3,781.8 1626.4,779.0 1625.2,776.6 1623.9,774.4 1622.2,772.5 1620.4,770.7 1618.3,769.1 1615.9,767.6 1613.0,766.5 1609.5,765.7 1604.2,765.9 1597.5,766.8 1595.9,764.4 1594.4,761.9 1592.9,759.5 1591.4,757.0 1590.0,754.5 1588.6,752.0 1587.3,749.4 1593.4,743.9 1595.5,740.2 1596.4,737.1 1596.6,734.3 1596.5,731.7 1596.1,729.3 1595.3,726.9 1594.3,724.6 1592.9,722.3 1591.2,720.1 1589.0,718.0 1586.0,715.9 1581.6,713.9 1573.2,712.3 1572.6,709.6 1572.0,706.8 1571.4,704.1 1570.9,701.4 1570.5,698.6 1570.0,695.9 1569.7,693.2 1576.4,690.7 1580.5,688.3 1582.7,686.0 1584.2,683.6 1585.2,681.3 1585.8,679.0 1586.0,676.6 1585.9,674.2 1585.5,671.8 1584.8,669.2 1583.6,666.5 1581.7,663.6 1578.7,660.3 1569.9,655.3 1570.3,652.7 1570.7,650.1 1571.2,647.5 1571.7,644.9 1572.3,642.3 1572.9,639.8 1573.6,637.3 1579.1,636.9 1585.2,636.9 1588.6,635.8 1591.1,634.4 1593.0,632.9 1594.5,631.1 1595.7,629.2 1596.6,627.1 1597.3,624.9 1597.6,622.4 1597.5,619.7 1597.0,616.6 1595.6,612.8 1591.4,606.9 1589.3,602.2 1590.7,600.1 1592.2,598.0 1593.7,595.9 1595.2,593.9 1596.8,592.0 1598.4,590.0 1600.0,588.1 1609.1,593.4 1613.1,594.2 1616.2,594.1 1618.8,593.5 1621.1,592.7" fill="#9c9c9c"/>
<polygon points="1620.6,593.3 1622.3,591.9 1623.8,590.3 1625.1,588.3 1626.2,586.0 1626.9,583.2 1627.2,579.7 1626.3,574.3 1624.5,567.2 1626.6,565.9 1628.8,564.7 1631.1,563.5 1633.3,562.3 1635.6,561.2 1637.9,560.1 1640.2,559.1 1646.6,566.2 1650.5,568.9 1653.7,570.2 1656.5,570.9 1659.1,571.2 1661.5,571.0 1663.8,570.6 1665.9,569.8 1667.9,568.8 1669.9,567.3 1671.7,565.3 1673.3,562.6 1674.7,558.3 1675.1,549.9 1677.7,549.6 1680.3,549.4 1683.0,549.2 1685.6,549.1 1688.3,549.0 1690.9,548.9 1693.6,549.0 1697.0,556.2 1700.0,560.7 1702.6,563.4 1705.1,565.3 1707.5,566.6 1709.9,567.5 1712.3,568.1 1714.7,568.4 1717.1,568.3 1719.5,567.9 1722.0,567.0 1724.6,565.5 1727.4,562.9 1731.2,554.5 1733.9,555.3 1736.5,556.1 1739.2,556.9 1741.8,557.9 1744.4,558.8 1747.0,559.8 1749.6,560.9 1750.8,566.7 1751.7,572.9 1753.2,576.5 1754.9,579.3 1756.8,581.5 1758.7,583.3 1760.8,584.8 1763.0,586.1 1765.3,587.0 1767.8,587.7 1770.5,588.0 1773.5,587.9 1777.1,587.0 1782.4,583.6 1786.7,582.0 1789.0,583.8 1791.3,585.6 1793.5,587.4 1795.7,589.3 1797.9,591.2 1800.0,593.1 1802.2,595.1 1798.2,603.7 1798.0,607.7 1798.6,610.9 1799.4,613.7 1800.6,616.1 1802.0,618.3 1803.6,620.3 1805.5,622.1 1807.6,623.7 1810.0,625.1 1812.9,626.3 1816.4,627.0 1821.7,626.8 1828.4,626.0 1830.0,628.4 1831.5,630.8 1833.0,633.3 1834.5,635.8 1835.9,638.3 1837.3,640.8 1838.7,643.4 1832.5,648.9 1830.4,652.6 1829.5,655.7 1829.3,658.5 1829.4,661.1 1829.8,663.6 1830.6,665.9 1831.6,668.2 1833.0,670.5 1834.7,672.7 1836.9,674.8 1839.9,676.9 1844.3,678.9 1852.7,680.5 1853.4,683.3 1854.0,686.0 1854.5,688.7 1855.0,691.5 1855.5,694.2 1855.9,696.9 1856.3,699.7 1849.6,702.2 1845.5,704.6 1843.2,706.9 1841.7,709.2 1840.7,711.6 1840.1,713.9 1839.9,716.2 1840.0,718.6 1840.4,721.1 1841.1,723.7 1842.3,726.4 1844.2,729.3 1847.2,732.6 1856.1,737.6 1855.7,740.2 1855.3,742.8 1854.8,745.4 1854.2,748.0 1853.7,750.6 1853.0,753.1 1852.4,755.7 1846.8,756.1 1840.8,756.1 1837.3,757.1 1834.9,758.5 1832.9,760.1 1831.4,761.8 1830.2,763.8 1829.3,765.8 1828.6,768.1 1828.3,770.6 1828.4,773.3 1828.9,776.4 1830.3,780.2 1834.5,786.1 1836.6,790.8 1835.2,792.9 1833.7,795.0 1832.3,797.0 1830.7,799.1 1829.1,801.0 1827.5,803.0 1825.9,804.9 1816.8,799.6 1812.7,798.8 1809.6,798.9 1807.0,799.5 1804.8,800.3 1802.8,801.4 1801.1,802.8 1799.6,804.5 1798.3,806.4 1797.2,808.7 1796.5,811.5 1796.2,815.0 1797.1,820.5 1798.9,827.5 1796.8,828.8 1794.6,830.0 1792.3,831.2 1790.1,832.4 1787.8,833.5 1785.5,834.6 1783.2,835.6 1776.8,828.5 1772.9,825.8 1769.7,824.5 1766.9,823.8 1764.3,823.6 1761.9,823.7 1759.6,824.1 1757.5,824.9 1755.5,826.0 1753.5,827.4 1751.7,829.4 1750.1,832.1 1748.7,836.4 1748.3,844.8 1745.7,845.1 1743.1,845.4 1740.4,845.5 1737.8,845.7 1735.1,845.8 1732.5,845.8 1729.8,845.8 1726.4,838.5 1723.4,834.0 1720.8,831.3 1718.3,829.5 1715.9,828.1 1713.5,827.2 1711.1,826.6 1708.7,826.4 1706.3,826.4 1703.9,826.8 1701.4,827.7 1698.8,829.2 1696.0,831.9 1692.2,840.2 1689.5,839.5 1686.9,838.7 1684.2,837.8 1681.6,836.9 1679.0,835.9 1676.4,834.9 1673.8,833.9 1672.6,828.1 1671.7,821.9 1670.2,818.2 1668.5,815.5 1666.6,813.2 1664.7,811.4 1662.6,809.9 1660.4,808.7 1658.1,807.7 1655.6,807.0 1652.9,806.7 1649.9,806.8 1646.3,807.7 1641.0,811.2 1636.7,812.7 1634.4,810.9 1632.1,809.2 1629.9,807.3 1627.7,805.5 1625.5,803.6 1623.4,801.6 1621.2,799.7 1625.2,791.1 1625.4,787.0 1624.8,783.8 1624.0,781.0 1622.8,778.6 1621.4,776.4 1619.8,774.4 1617.9,772.7 1615.8,771.0 1613.4,769.6 1610.5,768.5 1607.0,767.7 1601.7,767.9 1595.0,768.8 1593.4,766.3 1591.9,763.9 1590.4,761.4 1588.9,759.0 1587.5,756.4 1586.1,753.9 1584.7,751.4 1590.9,745.8 1593.0,742.2 1593.9,739.1 1594.1,736.3 1594.0,733.7 1593.6,731.2 1592.8,728.8 1591.8,726.5 1590.4,724.3 1588.7,722.1 1586.5,719.9 1583.5,717.8 1579.1,715.9 1570.7,714.2 1570.0,711.5 1569.4,708.7 1568.9,706.0 1568.4,703.3 1567.9,700.5 1567.5,697.8 1567.1,695.0 1573.8,692.5 1577.9,690.2 1580.2,687.8 1581.7,685.5 1582.7,683.2 1583.3,680.8 1583.5,678.5 1583.4,676.1 1583.0,673.6 1582.3,671.1 1581.1,668.4 1579.2,665.5 1576.2,662.2 1567.3,657.2 1567.7,654.5 1568.1,651.9 1568.6,649.3 1569.2,646.7 1569.7,644.1 1570.4,641.6 1571.0,639.1 1576.6,638.6 1582.6,638.6 1586.1,637.6 1588.5,636.2 1590.5,634.6 1592.0,632.9 1593.2,631.0 1594.1,628.9 1594.8,626.6 1595.1,624.2 1595.0,621.4 1594.5,618.3 1593.1,614.5 1588.9,608.6 1586.8,603.9 1588.2,601.8 1589.7,599.7 1591.1,597.7 1592.7,595.7 1594.3,593.7 1595.9,591.7 1597.5,589.8 1606.6,595.2 1610.7,595.9 1613.8,595.8 1616.4,595.3 1618.6,594.4" fill="#9c9c9c"/>
<polygon points="1618.1,595.0 1619.9,593.6 1621.4,592.0 1622.7,590.0 1623.7,587.7 1624.5,585.0 1624.7,581.4 1623.8,576.0 1622.0,568.9 1624.2,567.6 1626.4,566.4 1628.6,565.2 1630.9,564.0 1633.2,562.9 1635.5,561.8 1637.8,560.8 1644.2,567.9 1648.1,570.6 1651.3,571.9 1654.1,572.6 1656.7,572.9 1659.1,572.7 1661.4,572.3 1663.5,571.5 1665.5,570.5 1667.5,569.0 1669.3,567.0 1670.9,564.3 1672.3,560.0 1672.7,551.6 1675.3,551.3 1678.0,551.0 1680.6,550.9 1683.2,550.7 1685.9,550.6 1688.6,550.6 1691.2,550.6 1694.7,557.9 1697.6,562.4 1700.3,565.1 1702.8,567.0 1705.2,568.3 1707.6,569.2 1710.0,569.8 1712.4,570.1 1714.8,570.0 1717.2,569.6 1719.7,568.7 1722.3,567.2 1725.1,564.6 1728.9,556.2 1731.5,556.9 1734.2,557.8 1736.9,558.6 1739.5,559.5 1742.1,560.5 1744.8,561.5 1747.4,562.6 1748.6,568.4 1749.4,574.6 1750.9,578.2 1752.6,581.0 1754.5,583.2 1756.5,585.0 1758.5,586.6 1760.7,587.8 1763.0,588.8 1765.5,589.4 1768.2,589.8 1771.3,589.6 1774.8,588.7 1780.1,585.3 1784.5,583.8 1786.8,585.5 1789.0,587.3 1791.3,589.1 1793.5,591.0 1795.7,592.9 1797.8,594.8 1800.0,596.8 1796.0,605.4 1795.8,609.5 1796.3,612.7 1797.2,615.4 1798.4,617.9 1799.8,620.1 1801.4,622.1 1803.3,623.9 1805.4,625.5 1807.8,626.9 1810.7,628.0 1814.2,628.8 1819.5,628.6 1826.2,627.8 1827.8,630.2 1829.4,632.6 1830.9,635.1 1832.3,637.6 1833.8,640.1 1835.2,642.6 1836.5,645.2 1830.3,650.7 1828.3,654.4 1827.4,657.5 1827.1,660.3 1827.2,662.9 1827.7,665.4 1828.4,667.8 1829.5,670.1 1830.8,672.3 1832.6,674.5 1834.8,676.7 1837.7,678.8 1842.2,680.7 1850.6,682.4 1851.2,685.1 1851.8,687.9 1852.4,690.6 1852.9,693.3 1853.4,696.1 1853.8,698.8 1854.1,701.6 1847.4,704.1 1843.3,706.5 1841.0,708.8 1839.6,711.1 1838.6,713.5 1838.0,715.8 1837.8,718.2 1837.8,720.6 1838.2,723.0 1839.0,725.6 1840.2,728.3 1842.0,731.2 1845.1,734.5 1853.9,739.5 1853.6,742.2 1853.1,744.8 1852.6,747.4 1852.1,750.0 1851.5,752.5 1850.9,755.1 1850.2,757.6 1844.6,758.0 1838.6,758.1 1835.2,759.1 1832.7,760.5 1830.8,762.1 1829.2,763.8 1828.0,765.7 1827.1,767.8 1826.5,770.1 1826.1,772.5 1826.2,775.3 1826.8,778.4 1828.1,782.2 1832.3,788.1 1834.4,792.8 1833.0,794.9 1831.6,797.0 1830.1,799.1 1828.6,801.1 1827.0,803.1 1825.4,805.0 1823.7,806.9 1814.6,801.6 1810.6,800.9 1807.4,801.0 1804.8,801.5 1802.6,802.3 1800.6,803.5 1798.9,804.9 1797.4,806.5 1796.1,808.4 1795.0,810.7 1794.3,813.5 1794.0,817.1 1794.9,822.5 1796.7,829.6 1794.6,830.9 1792.3,832.1 1790.1,833.3 1787.9,834.5 1785.6,835.6 1783.3,836.7 1780.9,837.7 1774.5,830.6 1770.6,827.9 1767.4,826.6 1764.6,825.9 1762.0,825.6 1759.6,825.8 1757.4,826.2 1755.2,827.0 1753.2,828.0 1751.3,829.5 1749.5,831.5 1747.8,834.2 1746.5,838.5 1746.0,846.9 1743.4,847.2 1740.8,847.4 1738.1,847.6 1735.5,847.8 1732.8,847.9 1730.2,847.9 1727.5,847.9 1724.1,840.6 1721.1,836.1 1718.5,833.4 1716.0,831.5 1713.5,830.2 1711.1,829.3 1708.8,828.7 1706.4,828.4 1704.0,828.5 1701.5,828.9 1699.0,829.8 1696.4,831.3 1693.6,833.9 1689.9,842.3 1687.2,841.6 1684.5,840.7 1681.9,839.9 1679.2,839.0 1676.6,838.0 1674.0,837.0 1671.4,835.9 1670.2,830.1 1669.3,823.9 1667.8,820.3 1666.1,817.5 1664.2,815.3 1662.3,813.4 1660.2,811.9 1658.0,810.7 1655.7,809.7 1653.2,809.1 1650.5,808.7 1647.5,808.9 1643.9,809.8 1638.6,813.2 1634.3,814.7 1632.0,813.0 1629.7,811.2 1627.5,809.4 1625.2,807.5 1623.0,805.6 1620.9,803.7 1618.8,801.7 1622.8,793.1 1622.9,789.0 1622.4,785.8 1621.5,783.0 1620.3,780.6 1618.9,778.4 1617.3,776.4 1615.5,774.6 1613.4,773.0 1610.9,771.6 1608.1,770.5 1604.5,769.7 1599.2,769.9 1592.5,770.7 1590.9,768.3 1589.4,765.9 1587.9,763.4 1586.4,760.9 1585.0,758.4 1583.6,755.9 1582.2,753.3 1588.4,747.8 1590.5,744.1 1591.4,741.0 1591.6,738.2 1591.5,735.6 1591.1,733.1 1590.3,730.7 1589.2,728.4 1587.9,726.2 1586.2,724.0 1583.9,721.8 1581.0,719.7 1576.6,717.8 1568.2,716.1 1567.5,713.4 1566.9,710.6 1566.3,707.9 1565.8,705.2 1565.4,702.4 1565.0,699.7 1564.6,696.9 1571.3,694.4 1575.4,692.0 1577.7,689.7 1579.2,687.4 1580.2,685.0 1580.7,682.7 1581.0,680.3 1580.9,677.9 1580.5,675.5 1579.8,672.9 1578.5,670.2 1576.7,667.3 1573.6,664.0 1564.8,659.0 1565.2,656.3 1565.6,653.7 1566.1,651.1 1566.6,648.5 1567.2,645.9 1567.8,643.4 1568.5,640.9 1574.1,640.4 1580.1,640.4 1583.5,639.4 1586.0,638.0 1588.0,636.4 1589.5,634.7 1590.7,632.8 1591.6,630.7 1592.3,628.4 1592.6,626.0 1592.5,623.2 1592.0,620.1 1590.6,616.3 1586.4,610.4 1584.3,605.7 1585.7,603.6 1587.1,601.5 1588.6,599.4 1590.2,597.4 1591.8,595.4 1593.4,593.5 1595.0,591.6 1604.1,596.9 1608.2,597.6 1611.3,597.5 1613.9,597.0 1616.1,596.1" fill="#9c9c9c"/>
<polygon points="1615.7,596.7 1617.4,595.4 1618.9,593.7 1620.2,591.8 1621.3,589.5 1622.0,586.7 1622.3,583.1 1621.4,577.7 1619.5,570.6 1621.7,569.3 1623.9,568.1 1626.2,566.9 1628.4,565.7 1630.7,564.6 1633.0,563.5 1635.4,562.5 1641.8,569.6 1645.7,572.3 1648.9,573.6 1651.7,574.3 1654.3,574.6 1656.7,574.4 1659.0,574.0 1661.1,573.2 1663.1,572.1 1665.1,570.7 1666.9,568.7 1668.6,566.0 1669.9,561.7 1670.3,553.2 1673.0,553.0 1675.6,552.7 1678.2,552.5 1680.9,552.4 1683.5,552.3 1686.2,552.3 1688.9,552.3 1692.3,559.5 1695.3,564.1 1697.9,566.8 1700.4,568.7 1702.9,570.0 1705.3,570.9 1707.7,571.5 1710.0,571.8 1712.4,571.7 1714.9,571.3 1717.4,570.4 1720.0,568.9 1722.8,566.2 1726.6,557.8 1729.2,558.6 1731.9,559.4 1734.6,560.3 1737.2,561.2 1739.9,562.2 1742.5,563.2 1745.1,564.2 1746.3,570.0 1747.1,576.3 1748.6,579.9 1750.4,582.7 1752.2,584.9 1754.2,586.8 1756.3,588.3 1758.5,589.5 1760.8,590.5 1763.3,591.2 1766.0,591.5 1769.0,591.4 1772.6,590.5 1777.9,587.0 1782.2,585.5 1784.5,587.2 1786.8,589.0 1789.1,590.8 1791.3,592.7 1793.5,594.6 1795.6,596.6 1797.8,598.5 1793.7,607.2 1793.6,611.2 1794.1,614.4 1795.0,617.2 1796.2,619.6 1797.6,621.8 1799.2,623.8 1801.1,625.6 1803.2,627.2 1805.6,628.7 1808.5,629.8 1812.1,630.6 1817.3,630.4 1824.0,629.5 1825.6,632.0 1827.2,634.4 1828.7,636.9 1830.2,639.4 1831.6,641.9 1833.0,644.4 1834.4,647.0 1828.2,652.5 1826.1,656.2 1825.2,659.3 1824.9,662.1 1825.1,664.7 1825.5,667.2 1826.3,669.6 1827.3,671.9 1828.7,674.2 1830.4,676.4 1832.6,678.5 1835.6,680.6 1840.0,682.6 1848.4,684.2 1849.1,687.0 1849.7,689.7 1850.3,692.5 1850.8,695.2 1851.2,698.0 1851.6,700.7 1852.0,703.5 1845.3,706.0 1841.2,708.3 1838.9,710.7 1837.4,713.0 1836.4,715.4 1835.9,717.7 1835.6,720.1 1835.7,722.5 1836.1,724.9 1836.8,727.5 1838.0,730.2 1839.9,733.1 1843.0,736.4 1851.8,741.5 1851.4,744.1 1851.0,746.7 1850.5,749.3 1850.0,751.9 1849.4,754.5 1848.8,757.1 1848.1,759.6 1842.5,760.0 1836.5,760.0 1833.0,761.0 1830.5,762.4 1828.6,764.0 1827.1,765.8 1825.8,767.7 1824.9,769.8 1824.3,772.1 1824.0,774.5 1824.0,777.3 1824.6,780.4 1826.0,784.2 1830.2,790.1 1832.3,794.8 1830.9,797.0 1829.4,799.0 1827.9,801.1 1826.4,803.1 1824.8,805.1 1823.2,807.1 1821.5,809.0 1812.4,803.6 1808.4,802.9 1805.2,803.0 1802.6,803.5 1800.4,804.4 1798.4,805.5 1796.7,806.9 1795.1,808.5 1793.8,810.5 1792.8,812.8 1792.0,815.6 1791.8,819.1 1792.7,824.6 1794.5,831.6 1792.3,832.9 1790.1,834.2 1787.9,835.4 1785.6,836.6 1783.3,837.7 1781.0,838.7 1778.7,839.8 1772.3,832.6 1768.4,830.0 1765.2,828.6 1762.4,827.9 1759.8,827.7 1757.4,827.8 1755.1,828.3 1753.0,829.0 1750.9,830.1 1749.0,831.6 1747.2,833.6 1745.5,836.3 1744.2,840.6 1743.7,849.0 1741.1,849.3 1738.5,849.5 1735.8,849.7 1733.2,849.9 1730.5,849.9 1727.9,850.0 1725.2,850.0 1721.8,842.7 1718.8,838.1 1716.2,835.5 1713.6,833.6 1711.2,832.3 1708.8,831.3 1706.4,830.7 1704.0,830.5 1701.6,830.5 1699.2,831.0 1696.7,831.8 1694.1,833.3 1691.2,836.0 1687.5,844.4 1684.8,843.6 1682.2,842.8 1679.5,842.0 1676.9,841.0 1674.2,840.1 1671.6,839.1 1669.0,838.0 1667.8,832.2 1666.9,826.0 1665.4,822.3 1663.7,819.6 1661.8,817.3 1659.9,815.5 1657.8,814.0 1655.6,812.7 1653.3,811.8 1650.8,811.1 1648.1,810.8 1645.0,810.9 1641.5,811.8 1636.2,815.2 1631.8,816.8 1629.5,815.0 1627.3,813.2 1625.0,811.4 1622.8,809.5 1620.6,807.6 1618.4,805.7 1616.3,803.7 1620.3,795.1 1620.5,791.0 1619.9,787.8 1619.0,785.0 1617.9,782.6 1616.5,780.4 1614.8,778.4 1613.0,776.6 1610.9,775.0 1608.5,773.6 1605.6,772.4 1602.0,771.7 1596.7,771.9 1590.0,772.7 1588.4,770.3 1586.9,767.9 1585.4,765.4 1583.9,762.9 1582.4,760.4 1581.1,757.8 1579.7,755.3 1585.9,749.7 1588.0,746.0 1588.9,743.0 1589.1,740.1 1589.0,737.5 1588.6,735.0 1587.8,732.7 1586.7,730.3 1585.4,728.1 1583.6,725.9 1581.4,723.7 1578.5,721.6 1574.1,719.7 1565.6,718.0 1565.0,715.3 1564.4,712.5 1563.8,709.8 1563.3,707.0 1562.8,704.3 1562.4,701.5 1562.1,698.8 1568.8,696.3 1572.9,693.9 1575.2,691.6 1576.7,689.2 1577.6,686.9 1578.2,684.6 1578.5,682.2 1578.4,679.8 1578.0,677.3 1577.2,674.7 1576.0,672.0 1574.2,669.1 1571.1,665.8 1562.2,660.8 1562.6,658.2 1563.1,655.5 1563.6,652.9 1564.1,650.3 1564.7,647.7 1565.3,645.2 1566.0,642.7 1571.6,642.2 1577.6,642.2 1581.0,641.2 1583.5,639.8 1585.5,638.2 1587.0,636.5 1588.2,634.5 1589.1,632.5 1589.8,630.2 1590.1,627.7 1590.0,625.0 1589.5,621.9 1588.1,618.0 1583.9,612.1 1581.8,607.4 1583.2,605.3 1584.6,603.2 1586.1,601.2 1587.7,599.1 1589.2,597.2 1590.9,595.2 1592.5,593.3 1601.7,598.6 1605.7,599.4 1608.8,599.3 1611.4,598.7 1613.7,597.9" fill="#9c9c9c"/>
<polygon points="1613.2,598.5 1614.9,597.1 1616.5,595.4 1617.8,593.5 1618.8,591.2 1619.6,588.4 1619.8,584.8 1618.9,579.4 1617.1,572.3 1619.3,571.0 1621.5,569.8 1623.7,568.5 1626.0,567.4 1628.3,566.3 1630.6,565.2 1632.9,564.2 1639.3,571.3 1643.3,574.0 1646.5,575.3 1649.3,576.0 1651.9,576.3 1654.3,576.1 1656.6,575.7 1658.7,574.9 1660.7,573.8 1662.7,572.4 1664.5,570.4 1666.2,567.7 1667.5,563.4 1667.9,554.9 1670.6,554.6 1673.2,554.4 1675.9,554.2 1678.5,554.1 1681.2,554.0 1683.8,553.9 1686.5,554.0 1690.0,561.2 1692.9,565.8 1695.6,568.5 1698.1,570.4 1700.5,571.7 1702.9,572.6 1705.3,573.2 1707.7,573.5 1710.1,573.4 1712.5,573.0 1715.0,572.1 1717.7,570.6 1720.5,567.9 1724.3,559.5 1726.9,560.3 1729.6,561.1 1732.3,562.0 1734.9,562.9 1737.6,563.9 1740.2,564.9 1742.8,565.9 1744.0,571.7 1744.9,578.0 1746.4,581.6 1748.1,584.4 1750.0,586.6 1751.9,588.5 1754.0,590.0 1756.2,591.2 1758.5,592.2 1761.0,592.9 1763.7,593.2 1766.8,593.1 1770.4,592.2 1775.7,588.7 1780.0,587.2 1782.3,588.9 1784.6,590.7 1786.8,592.6 1789.1,594.4 1791.3,596.3 1793.4,598.3 1795.6,600.3 1791.5,608.9 1791.4,613.0 1791.9,616.2 1792.8,619.0 1794.0,621.4 1795.4,623.6 1797.0,625.6 1798.9,627.4 1801.0,629.0 1803.4,630.4 1806.3,631.6 1809.9,632.4 1815.1,632.2 1821.9,631.3 1823.5,633.7 1825.0,636.2 1826.6,638.7 1828.0,641.2 1829.5,643.7 1830.9,646.2 1832.2,648.8 1826.0,654.3 1823.9,658.0 1823.0,661.1 1822.8,663.9 1822.9,666.6 1823.4,669.0 1824.1,671.4 1825.2,673.8 1826.5,676.0 1828.3,678.2 1830.5,680.4 1833.4,682.5 1837.9,684.4 1846.3,686.1 1847.0,688.8 1847.6,691.6 1848.1,694.3 1848.6,697.1 1849.1,699.8 1849.5,702.6 1849.9,705.3 1843.2,707.9 1839.0,710.2 1836.8,712.6 1835.3,714.9 1834.3,717.3 1833.7,719.6 1833.5,722.0 1833.5,724.4 1833.9,726.9 1834.7,729.4 1835.9,732.1 1837.8,735.0 1840.8,738.3 1849.7,743.4 1849.3,746.0 1848.9,748.7 1848.4,751.3 1847.9,753.9 1847.3,756.5 1846.6,759.0 1846.0,761.6 1840.4,762.0 1834.3,762.0 1830.9,763.0 1828.4,764.4 1826.4,766.0 1824.9,767.8 1823.7,769.7 1822.8,771.8 1822.1,774.0 1821.8,776.5 1821.9,779.3 1822.4,782.4 1823.8,786.2 1828.0,792.2 1830.1,796.8 1828.7,799.0 1827.3,801.1 1825.8,803.1 1824.2,805.1 1822.7,807.1 1821.0,809.1 1819.4,811.0 1810.2,805.6 1806.2,804.9 1803.1,805.0 1800.4,805.5 1798.2,806.4 1796.2,807.5 1794.5,808.9 1792.9,810.6 1791.6,812.5 1790.6,814.8 1789.8,817.6 1789.6,821.2 1790.5,826.6 1792.3,833.7 1790.1,835.0 1787.9,836.3 1785.7,837.5 1783.4,838.6 1781.1,839.8 1778.8,840.8 1776.5,841.9 1770.1,834.7 1766.1,832.0 1762.9,830.7 1760.1,830.0 1757.5,829.8 1755.1,829.9 1752.8,830.3 1750.7,831.1 1748.7,832.2 1746.7,833.6 1744.9,835.6 1743.2,838.4 1741.9,842.7 1741.5,851.1 1738.8,851.4 1736.2,851.6 1733.5,851.8 1730.9,852.0 1728.2,852.0 1725.6,852.1 1722.9,852.1 1719.4,844.8 1716.5,840.2 1713.8,837.5 1711.3,835.7 1708.9,834.3 1706.5,833.4 1704.1,832.8 1701.7,832.5 1699.3,832.6 1696.9,833.0 1694.4,833.9 1691.7,835.4 1688.9,838.1 1685.1,846.5 1682.5,845.7 1679.8,844.9 1677.1,844.0 1674.5,843.1 1671.8,842.2 1669.2,841.1 1666.6,840.1 1665.4,834.3 1664.5,828.0 1663.0,824.4 1661.3,821.6 1659.4,819.4 1657.5,817.5 1655.4,816.0 1653.2,814.8 1650.9,813.8 1648.4,813.1 1645.7,812.8 1642.6,812.9 1639.0,813.8 1633.7,817.3 1629.4,818.8 1627.1,817.1 1624.8,815.3 1622.6,813.5 1620.3,811.6 1618.1,809.7 1616.0,807.7 1613.8,805.8 1617.9,797.1 1618.0,793.0 1617.5,789.8 1616.6,787.0 1615.4,784.6 1614.0,782.4 1612.4,780.4 1610.5,778.6 1608.4,777.0 1606.0,775.6 1603.1,774.4 1599.5,773.6 1594.3,773.8 1587.5,774.7 1585.9,772.3 1584.4,769.8 1582.8,767.4 1581.4,764.9 1579.9,762.3 1578.5,759.8 1577.2,757.2 1583.4,751.7 1585.5,748.0 1586.4,744.9 1586.6,742.1 1586.5,739.5 1586.0,737.0 1585.3,734.6 1584.2,732.3 1582.9,730.0 1581.1,727.8 1578.9,725.7 1576.0,723.6 1571.5,721.6 1563.1,719.9 1562.4,717.2 1561.8,714.4 1561.3,711.7 1560.8,708.9 1560.3,706.2 1559.9,703.4 1559.5,700.7 1566.2,698.2 1570.4,695.8 1572.6,693.4 1574.1,691.1 1575.1,688.8 1575.7,686.4 1575.9,684.1 1575.9,681.6 1575.5,679.2 1574.7,676.6 1573.5,673.9 1571.6,671.0 1568.6,667.7 1559.7,662.6 1560.1,660.0 1560.5,657.3 1561.0,654.7 1561.5,652.1 1562.1,649.6 1562.8,647.0 1563.4,644.4 1569.0,644.0 1575.1,644.0 1578.5,643.0 1581.0,641.6 1583.0,640.0 1584.5,638.3 1585.7,636.3 1586.6,634.2 1587.3,632.0 1587.6,629.5 1587.5,626.8 1587.0,623.6 1585.6,619.8 1581.4,613.9 1579.3,609.2 1580.7,607.0 1582.1,605.0 1583.6,602.9 1585.2,600.9 1586.7,598.9 1588.4,596.9 1590.0,595.0 1599.2,600.4 1603.2,601.1 1606.3,601.0 1609.0,600.5 1611.2,599.6" fill="#9c9c9c"/>
<polygon points="1610.7,600.2 1612.5,598.8 1614.0,597.2 1615.3,595.2 1616.4,592.9 1617.1,590.1 1617.4,586.5 1616.4,581.1 1614.6,574.0 1616.8,572.7 1619.0,571.5 1621.3,570.2 1623.5,569.1 1625.8,567.9 1628.2,566.9 1630.5,565.8 1636.9,573.0 1640.9,575.7 1644.1,577.0 1646.9,577.7 1649.5,578.0 1651.9,577.8 1654.1,577.4 1656.3,576.6 1658.3,575.5 1660.3,574.1 1662.1,572.1 1663.8,569.3 1665.1,565.0 1665.6,556.6 1668.2,556.3 1670.8,556.1 1673.5,555.9 1676.1,555.7 1678.8,555.6 1681.5,555.6 1684.2,555.6 1687.6,562.9 1690.6,567.5 1693.2,570.2 1695.7,572.0 1698.2,573.4 1700.6,574.3 1703.0,574.9 1705.4,575.2 1707.8,575.1 1710.2,574.7 1712.7,573.8 1715.4,572.3 1718.2,569.6 1722.0,561.2 1724.6,562.0 1727.3,562.8 1730.0,563.7 1732.6,564.6 1735.3,565.5 1737.9,566.6 1740.5,567.6 1741.7,573.4 1742.6,579.7 1744.1,583.3 1745.8,586.1 1747.7,588.4 1749.7,590.2 1751.7,591.7 1753.9,593.0 1756.3,593.9 1758.8,594.6 1761.5,594.9 1764.5,594.8 1768.1,593.9 1773.4,590.4 1777.8,588.9 1780.1,590.7 1782.4,592.5 1784.6,594.3 1786.9,596.2 1789.1,598.1 1791.2,600.0 1793.4,602.0 1789.3,610.7 1789.2,614.7 1789.7,618.0 1790.6,620.7 1791.8,623.2 1793.2,625.4 1794.8,627.4 1796.7,629.2 1798.8,630.8 1801.2,632.2 1804.1,633.4 1807.7,634.1 1813.0,634.0 1819.7,633.1 1821.3,635.5 1822.9,638.0 1824.4,640.5 1825.9,642.9 1827.3,645.5 1828.7,648.0 1830.1,650.6 1823.9,656.2 1821.8,659.8 1820.9,662.9 1820.6,665.8 1820.7,668.4 1821.2,670.9 1821.9,673.3 1823.0,675.6 1824.4,677.8 1826.1,680.1 1828.3,682.2 1831.3,684.3 1835.7,686.3 1844.2,688.0 1844.8,690.7 1845.5,693.4 1846.0,696.2 1846.5,699.0 1847.0,701.7 1847.4,704.5 1847.8,707.2 1841.0,709.7 1836.9,712.1 1834.6,714.5 1833.1,716.8 1832.1,719.2 1831.6,721.5 1831.3,723.9 1831.4,726.3 1831.8,728.8 1832.5,731.3 1833.8,734.1 1835.6,737.0 1838.7,740.3 1847.6,745.3 1847.2,748.0 1846.7,750.6 1846.3,753.2 1845.7,755.8 1845.1,758.4 1844.5,761.0 1843.8,763.5 1838.2,763.9 1832.2,763.9 1828.7,765.0 1826.2,766.4 1824.3,768.0 1822.7,769.7 1821.5,771.7 1820.6,773.8 1820.0,776.0 1819.7,778.5 1819.7,781.2 1820.3,784.4 1821.7,788.2 1825.8,794.2 1828.0,798.9 1826.6,801.0 1825.1,803.1 1823.6,805.1 1822.1,807.2 1820.5,809.2 1818.9,811.1 1817.2,813.0 1808.0,807.7 1804.0,807.0 1800.9,807.0 1798.2,807.6 1796.0,808.4 1794.0,809.6 1792.3,811.0 1790.7,812.6 1789.4,814.6 1788.4,816.9 1787.6,819.7 1787.4,823.2 1788.3,828.7 1790.1,835.8 1787.9,837.1 1785.7,838.3 1783.5,839.5 1781.2,840.7 1778.9,841.8 1776.6,842.9 1774.2,843.9 1767.8,836.8 1763.9,834.1 1760.7,832.8 1757.8,832.1 1755.3,831.8 1752.9,831.9 1750.6,832.4 1748.4,833.1 1746.4,834.2 1744.5,835.7 1742.6,837.7 1741.0,840.4 1739.6,844.7 1739.2,853.2 1736.5,853.5 1733.9,853.7 1731.3,853.9 1728.6,854.0 1725.9,854.1 1723.3,854.2 1720.6,854.1 1717.1,846.9 1714.2,842.3 1711.5,839.6 1709.0,837.7 1706.5,836.4 1704.1,835.5 1701.7,834.9 1699.4,834.6 1697.0,834.7 1694.5,835.1 1692.0,836.0 1689.4,837.5 1686.5,840.2 1682.8,848.6 1680.1,847.8 1677.4,847.0 1674.8,846.1 1672.1,845.2 1669.5,844.2 1666.8,843.2 1664.2,842.2 1663.0,836.3 1662.1,830.1 1660.6,826.4 1658.9,823.7 1657.0,821.4 1655.1,819.6 1653.0,818.1 1650.8,816.8 1648.5,815.9 1646.0,815.2 1643.2,814.8 1640.2,815.0 1636.6,815.9 1631.3,819.3 1626.9,820.9 1624.6,819.1 1622.4,817.3 1620.1,815.5 1617.9,813.6 1615.7,811.7 1613.5,809.8 1611.4,807.8 1615.4,799.1 1615.5,795.0 1615.0,791.8 1614.1,789.0 1612.9,786.6 1611.5,784.4 1609.9,782.4 1608.1,780.6 1605.9,779.0 1603.5,777.6 1600.6,776.4 1597.0,775.6 1591.8,775.8 1585.0,776.7 1583.4,774.3 1581.9,771.8 1580.3,769.3 1578.9,766.8 1577.4,764.3 1576.0,761.8 1574.7,759.2 1580.9,753.6 1583.0,749.9 1583.9,746.8 1584.1,744.0 1584.0,741.4 1583.5,738.9 1582.8,736.5 1581.7,734.2 1580.4,731.9 1578.6,729.7 1576.4,727.6 1573.5,725.5 1569.0,723.5 1560.5,721.8 1559.9,719.1 1559.3,716.3 1558.7,713.6 1558.2,710.8 1557.8,708.1 1557.3,705.3 1557.0,702.6 1563.7,700.0 1567.8,697.7 1570.1,695.3 1571.6,693.0 1572.6,690.6 1573.2,688.3 1573.4,685.9 1573.4,683.5 1573.0,681.0 1572.2,678.4 1571.0,675.7 1569.1,672.8 1566.0,669.5 1557.2,664.4 1557.6,661.8 1558.0,659.2 1558.5,656.5 1559.0,653.9 1559.6,651.4 1560.2,648.8 1560.9,646.2 1566.5,645.8 1572.6,645.8 1576.0,644.8 1578.5,643.4 1580.5,641.8 1582.0,640.0 1583.2,638.1 1584.1,636.0 1584.8,633.8 1585.1,631.3 1585.0,628.5 1584.5,625.4 1583.1,621.6 1578.9,615.6 1576.8,610.9 1578.2,608.8 1579.6,606.7 1581.1,604.6 1582.7,602.6 1584.2,600.6 1585.9,598.7 1587.5,596.7 1596.7,602.1 1600.7,602.8 1603.9,602.7 1606.5,602.2 1608.7,601.3" fill="#9c9c9c"/>
<polygon points="1608.3,601.9 1610.0,600.5 1611.5,598.9 1612.8,596.9 1613.9,594.6 1614.7,591.8 1614.9,588.3 1614.0,582.8 1612.2,575.7 1614.4,574.4 1616.6,573.1 1618.8,571.9 1621.1,570.8 1623.4,569.6 1625.7,568.6 1628.1,567.5 1634.5,574.7 1638.4,577.4 1641.6,578.7 1644.5,579.4 1647.1,579.7 1649.5,579.5 1651.7,579.1 1653.9,578.3 1655.9,577.2 1657.9,575.8 1659.7,573.8 1661.4,571.0 1662.7,566.7 1663.2,558.2 1665.8,558.0 1668.4,557.7 1671.1,557.5 1673.8,557.4 1676.4,557.3 1679.1,557.3 1681.8,557.3 1685.2,564.6 1688.2,569.2 1690.9,571.9 1693.4,573.7 1695.9,575.1 1698.3,576.0 1700.7,576.6 1703.0,576.9 1705.4,576.8 1707.9,576.4 1710.4,575.5 1713.0,574.0 1715.9,571.3 1719.7,562.9 1722.3,563.6 1725.0,564.5 1727.7,565.3 1730.3,566.3 1733.0,567.2 1735.6,568.2 1738.3,569.3 1739.5,575.1 1740.3,581.4 1741.8,585.1 1743.6,587.8 1745.4,590.1 1747.4,591.9 1749.5,593.4 1751.7,594.7 1754.0,595.6 1756.5,596.3 1759.2,596.7 1762.3,596.5 1765.9,595.6 1771.2,592.2 1775.6,590.6 1777.9,592.4 1780.2,594.2 1782.4,596.0 1784.6,597.9 1786.8,599.8 1789.0,601.7 1791.2,603.7 1787.1,612.4 1787.0,616.5 1787.5,619.7 1788.4,622.5 1789.6,624.9 1791.0,627.1 1792.6,629.1 1794.5,630.9 1796.6,632.6 1799.0,634.0 1801.9,635.2 1805.5,635.9 1810.8,635.7 1817.5,634.9 1819.2,637.3 1820.7,639.8 1822.2,642.2 1823.7,644.7 1825.2,647.3 1826.5,649.8 1827.9,652.4 1821.7,658.0 1819.6,661.7 1818.7,664.8 1818.4,667.6 1818.6,670.2 1819.0,672.7 1819.8,675.1 1820.8,677.4 1822.2,679.7 1824.0,681.9 1826.2,684.1 1829.1,686.2 1833.6,688.1 1842.1,689.8 1842.7,692.6 1843.3,695.3 1843.9,698.1 1844.4,700.8 1844.9,703.6 1845.3,706.3 1845.6,709.1 1838.9,711.6 1834.8,714.0 1832.5,716.4 1831.0,718.7 1830.0,721.1 1829.4,723.4 1829.2,725.8 1829.2,728.2 1829.6,730.7 1830.4,733.3 1831.6,736.0 1833.5,738.9 1836.5,742.2 1845.4,747.3 1845.1,749.9 1844.6,752.6 1844.1,755.2 1843.6,757.8 1843.0,760.4 1842.4,762.9 1841.7,765.5 1836.1,765.9 1830.0,765.9 1826.6,766.9 1824.1,768.3 1822.1,769.9 1820.6,771.7 1819.4,773.6 1818.4,775.7 1817.8,778.0 1817.5,780.5 1817.5,783.2 1818.1,786.4 1819.5,790.2 1823.7,796.2 1825.8,800.9 1824.4,803.0 1823.0,805.1 1821.5,807.2 1819.9,809.2 1818.3,811.2 1816.7,813.2 1815.0,815.1 1805.9,809.7 1801.8,809.0 1798.7,809.1 1796.1,809.6 1793.8,810.5 1791.8,811.6 1790.1,813.0 1788.5,814.6 1787.2,816.6 1786.2,818.9 1785.4,821.7 1785.1,825.3 1786.1,830.8 1787.9,837.8 1785.7,839.1 1783.5,840.4 1781.2,841.6 1779.0,842.8 1776.7,843.9 1774.4,845.0 1772.0,846.0 1765.6,838.8 1761.6,836.2 1758.4,834.8 1755.6,834.1 1753.0,833.9 1750.6,834.0 1748.3,834.5 1746.2,835.2 1744.1,836.3 1742.2,837.8 1740.4,839.8 1738.7,842.5 1737.3,846.8 1736.9,855.3 1734.3,855.6 1731.6,855.8 1729.0,856.0 1726.3,856.1 1723.6,856.2 1720.9,856.3 1718.3,856.2 1714.8,849.0 1711.9,844.4 1709.2,841.7 1706.7,839.8 1704.2,838.5 1701.8,837.5 1699.4,836.9 1697.0,836.7 1694.6,836.7 1692.2,837.2 1689.7,838.0 1687.0,839.5 1684.2,842.2 1680.4,850.7 1677.7,849.9 1675.0,849.1 1672.4,848.2 1669.7,847.3 1667.1,846.3 1664.4,845.3 1661.8,844.2 1660.6,838.4 1659.8,832.2 1658.2,828.5 1656.5,825.7 1654.6,823.5 1652.7,821.6 1650.6,820.1 1648.4,818.9 1646.0,817.9 1643.5,817.2 1640.8,816.9 1637.8,817.0 1634.2,817.9 1628.9,821.4 1624.5,822.9 1622.2,821.2 1619.9,819.4 1617.7,817.5 1615.4,815.7 1613.2,813.7 1611.0,811.8 1608.9,809.8 1612.9,801.1 1613.1,797.1 1612.6,793.8 1611.7,791.1 1610.5,788.6 1609.1,786.4 1607.4,784.4 1605.6,782.6 1603.5,781.0 1601.0,779.6 1598.1,778.4 1594.6,777.6 1589.3,777.8 1582.5,778.7 1580.9,776.2 1579.4,773.8 1577.8,771.3 1576.4,768.8 1574.9,766.3 1573.5,763.7 1572.2,761.2 1578.4,755.6 1580.5,751.9 1581.3,748.8 1581.6,746.0 1581.5,743.3 1581.0,740.8 1580.3,738.4 1579.2,736.1 1577.9,733.9 1576.1,731.6 1573.9,729.5 1570.9,727.4 1566.5,725.4 1558.0,723.7 1557.4,721.0 1556.7,718.2 1556.2,715.5 1555.7,712.7 1555.2,710.0 1554.8,707.2 1554.4,704.4 1561.2,701.9 1565.3,699.5 1567.6,697.2 1569.1,694.8 1570.1,692.5 1570.7,690.1 1570.9,687.8 1570.8,685.3 1570.4,682.9 1569.7,680.3 1568.5,677.6 1566.6,674.6 1563.5,671.3 1554.6,666.3 1555.0,663.6 1555.4,661.0 1555.9,658.4 1556.5,655.7 1557.1,653.2 1557.7,650.6 1558.4,648.0 1564.0,647.6 1570.0,647.6 1573.5,646.6 1576.0,645.2 1577.9,643.6 1579.5,641.8 1580.7,639.9 1581.6,637.8 1582.3,635.5 1582.6,633.1 1582.5,630.3 1582.0,627.2 1580.6,623.3 1576.4,617.4 1574.2,612.7 1575.7,610.5 1577.1,608.4 1578.6,606.4 1580.2,604.3 1581.7,602.3 1583.4,600.4 1585.0,598.5 1594.2,603.8 1598.3,604.6 1601.4,604.5 1604.0,603.9 1606.3,603.1" fill="#9c9c9c"/>
<polygon points="1605.8,603.7 1607.5,602.3 1609.1,600.6 1610.4,598.7 1611.5,596.4 1612.2,593.5 1612.5,590.0 1611.5,584.5 1609.7,577.4 1611.9,576.1 1614.1,574.8 1616.4,573.6 1618.6,572.4 1620.9,571.3 1623.3,570.2 1625.6,569.2 1632.1,576.4 1636.0,579.1 1639.2,580.4 1642.1,581.1 1644.7,581.4 1647.1,581.2 1649.3,580.8 1651.5,580.0 1653.5,578.9 1655.5,577.4 1657.3,575.5 1659.0,572.7 1660.3,568.4 1660.8,559.9 1663.4,559.6 1666.1,559.4 1668.7,559.2 1671.4,559.1 1674.1,559.0 1676.8,558.9 1679.4,559.0 1682.9,566.3 1685.9,570.9 1688.5,573.6 1691.1,575.4 1693.5,576.8 1695.9,577.7 1698.3,578.3 1700.7,578.6 1703.1,578.5 1705.6,578.1 1708.1,577.2 1710.7,575.7 1713.6,573.0 1717.4,564.5 1720.0,565.3 1722.7,566.1 1725.4,567.0 1728.1,567.9 1730.7,568.9 1733.3,569.9 1736.0,571.0 1737.2,576.8 1738.0,583.1 1739.6,586.8 1741.3,589.5 1743.1,591.8 1745.1,593.6 1747.2,595.2 1749.4,596.4 1751.8,597.4 1754.3,598.0 1757.0,598.4 1760.0,598.3 1763.6,597.4 1769.0,593.9 1773.3,592.3 1775.7,594.1 1777.9,595.9 1780.2,597.7 1782.4,599.6 1784.6,601.5 1786.8,603.5 1789.0,605.5 1784.9,614.2 1784.8,618.2 1785.3,621.5 1786.2,624.2 1787.4,626.7 1788.8,628.9 1790.4,630.9 1792.3,632.7 1794.4,634.3 1796.8,635.8 1799.7,636.9 1803.3,637.7 1808.6,637.5 1815.4,636.6 1817.0,639.1 1818.6,641.5 1820.1,644.0 1821.6,646.5 1823.0,649.1 1824.4,651.6 1825.7,654.2 1819.5,659.8 1817.4,663.5 1816.6,666.6 1816.3,669.4 1816.4,672.0 1816.9,674.5 1817.6,676.9 1818.7,679.3 1820.1,681.5 1821.8,683.7 1824.0,685.9 1827.0,688.0 1831.4,690.0 1839.9,691.7 1840.6,694.4 1841.2,697.2 1841.8,699.9 1842.3,702.7 1842.7,705.5 1843.1,708.2 1843.5,711.0 1836.8,713.5 1832.6,715.9 1830.3,718.3 1828.8,720.6 1827.8,723.0 1827.3,725.3 1827.0,727.7 1827.1,730.1 1827.5,732.6 1828.2,735.2 1829.5,737.9 1831.3,740.8 1834.4,744.1 1843.3,749.2 1842.9,751.9 1842.5,754.5 1842.0,757.1 1841.5,759.7 1840.9,762.3 1840.2,764.9 1839.6,767.5 1834.0,767.9 1827.9,767.9 1824.4,768.9 1821.9,770.3 1820.0,771.9 1818.4,773.7 1817.2,775.6 1816.3,777.7 1815.6,780.0 1815.3,782.5 1815.4,785.2 1815.9,788.4 1817.3,792.2 1821.5,798.2 1823.7,802.9 1822.3,805.0 1820.8,807.1 1819.3,809.2 1817.7,811.2 1816.2,813.2 1814.5,815.2 1812.9,817.1 1803.7,811.7 1799.6,811.0 1796.5,811.1 1793.9,811.6 1791.6,812.5 1789.6,813.6 1787.9,815.0 1786.3,816.7 1785.0,818.6 1783.9,820.9 1783.2,823.8 1782.9,827.3 1783.9,832.8 1785.7,839.9 1783.5,841.2 1781.3,842.5 1779.0,843.7 1776.8,844.9 1774.5,846.0 1772.1,847.1 1769.8,848.1 1763.3,840.9 1759.4,838.2 1756.2,836.9 1753.3,836.2 1750.7,835.9 1748.3,836.1 1746.1,836.5 1743.9,837.3 1741.9,838.4 1739.9,839.9 1738.1,841.8 1736.4,844.6 1735.1,848.9 1734.6,857.4 1732.0,857.7 1729.3,857.9 1726.7,858.1 1724.0,858.2 1721.3,858.3 1718.6,858.4 1716.0,858.3 1712.5,851.0 1709.5,846.4 1706.9,843.7 1704.3,841.9 1701.9,840.5 1699.5,839.6 1697.1,839.0 1694.7,838.7 1692.3,838.8 1689.8,839.2 1687.3,840.1 1684.7,841.6 1681.8,844.3 1678.0,852.8 1675.4,852.0 1672.7,851.2 1670.0,850.3 1667.3,849.4 1664.7,848.4 1662.1,847.4 1659.4,846.3 1658.2,840.5 1657.4,834.2 1655.8,830.5 1654.1,827.8 1652.3,825.5 1650.3,823.7 1648.2,822.1 1646.0,820.9 1643.6,819.9 1641.1,819.3 1638.4,818.9 1635.4,819.0 1631.8,819.9 1626.4,823.4 1622.1,825.0 1619.7,823.2 1617.5,821.4 1615.2,819.6 1613.0,817.7 1610.8,815.8 1608.6,813.8 1606.4,811.8 1610.5,803.1 1610.6,799.1 1610.1,795.8 1609.2,793.1 1608.0,790.6 1606.6,788.4 1605.0,786.4 1603.1,784.6 1601.0,783.0 1598.6,781.5 1595.7,780.4 1592.1,779.6 1586.8,779.8 1580.0,780.7 1578.4,778.2 1576.8,775.8 1575.3,773.3 1573.8,770.8 1572.4,768.2 1571.0,765.7 1569.7,763.1 1575.9,757.5 1578.0,753.8 1578.8,750.7 1579.1,747.9 1579.0,745.3 1578.5,742.8 1577.8,740.4 1576.7,738.0 1575.3,735.8 1573.6,733.6 1571.4,731.4 1568.4,729.3 1564.0,727.3 1555.5,725.6 1554.8,722.9 1554.2,720.1 1553.6,717.4 1553.1,714.6 1552.7,711.8 1552.3,709.1 1551.9,706.3 1558.6,703.8 1562.8,701.4 1565.1,699.0 1566.6,696.7 1567.6,694.3 1568.1,692.0 1568.4,689.6 1568.3,687.2 1567.9,684.7 1567.2,682.1 1565.9,679.4 1564.1,676.5 1561.0,673.2 1552.1,668.1 1552.5,665.4 1552.9,662.8 1553.4,660.2 1553.9,657.6 1554.5,655.0 1555.2,652.4 1555.8,649.8 1561.4,649.4 1567.5,649.4 1571.0,648.4 1573.5,647.0 1575.4,645.4 1577.0,643.6 1578.2,641.7 1579.1,639.6 1579.8,637.3 1580.1,634.8 1580.0,632.1 1579.5,628.9 1578.1,625.1 1573.9,619.1 1571.7,614.4 1573.1,612.3 1574.6,610.2 1576.1,608.1 1577.7,606.1 1579.2,604.1 1580.9,602.1 1582.5,600.2 1591.7,605.6 1595.8,606.3 1598.9,606.2 1601.5,605.7 1603.8,604.8" fill="#9c9c9c"/>
<polygon points="1603.3,605.4 1605.1,604.0 1606.6,602.3 1607.9,600.4 1609.0,598.1 1609.8,595.3 1610.0,591.7 1609.1,586.2 1607.3,579.1 1609.4,577.8 1611.7,576.5 1613.9,575.3 1616.2,574.1 1618.5,573.0 1620.8,571.9 1623.2,570.9 1629.6,578.1 1633.6,580.8 1636.8,582.1 1639.7,582.8 1642.2,583.1 1644.7,582.9 1646.9,582.5 1649.1,581.7 1651.2,580.6 1653.1,579.1 1654.9,577.2 1656.6,574.4 1658.0,570.1 1658.4,561.6 1661.0,561.3 1663.7,561.1 1666.4,560.9 1669.0,560.7 1671.7,560.6 1674.4,560.6 1677.1,560.6 1680.5,567.9 1683.5,572.5 1686.2,575.2 1688.7,577.1 1691.2,578.5 1693.6,579.4 1696.0,580.0 1698.4,580.2 1700.8,580.2 1703.3,579.8 1705.8,578.9 1708.4,577.4 1711.3,574.7 1715.0,566.2 1717.7,567.0 1720.4,567.8 1723.1,568.7 1725.8,569.6 1728.4,570.6 1731.1,571.6 1733.7,572.7 1734.9,578.5 1735.8,584.8 1737.3,588.5 1739.0,591.3 1740.9,593.5 1742.9,595.3 1745.0,596.9 1747.2,598.1 1749.5,599.1 1752.0,599.8 1754.8,600.1 1757.8,600.0 1761.4,599.1 1766.7,595.6 1771.1,594.0 1773.4,595.8 1775.7,597.6 1778.0,599.5 1780.2,601.3 1782.4,603.3 1784.6,605.2 1786.8,607.2 1782.7,615.9 1782.6,620.0 1783.1,623.2 1784.0,626.0 1785.2,628.5 1786.6,630.7 1788.2,632.7 1790.1,634.5 1792.2,636.1 1794.7,637.5 1797.5,638.7 1801.1,639.5 1806.4,639.3 1813.2,638.4 1814.8,640.9 1816.4,643.3 1817.9,645.8 1819.4,648.3 1820.8,650.9 1822.2,653.4 1823.6,656.0 1817.4,661.6 1815.3,665.3 1814.4,668.4 1814.1,671.2 1814.2,673.9 1814.7,676.4 1815.5,678.8 1816.5,681.1 1817.9,683.4 1819.6,685.6 1821.9,687.8 1824.8,689.9 1829.3,691.9 1837.8,693.5 1838.5,696.3 1839.1,699.0 1839.6,701.8 1840.1,704.6 1840.6,707.3 1841.0,710.1 1841.4,712.9 1834.6,715.4 1830.5,717.8 1828.2,720.2 1826.7,722.5 1825.7,724.9 1825.1,727.2 1824.9,729.6 1824.9,732.0 1825.3,734.5 1826.1,737.1 1827.3,739.8 1829.2,742.7 1832.3,746.1 1841.2,751.1 1840.8,753.8 1840.4,756.5 1839.9,759.1 1839.3,761.7 1838.8,764.3 1838.1,766.9 1837.4,769.4 1831.8,769.8 1825.7,769.8 1822.3,770.9 1819.8,772.3 1817.8,773.9 1816.2,775.7 1815.0,777.6 1814.1,779.7 1813.5,782.0 1813.2,784.5 1813.2,787.2 1813.8,790.4 1815.2,794.2 1819.4,800.2 1821.5,804.9 1820.1,807.0 1818.6,809.1 1817.1,811.2 1815.6,813.3 1814.0,815.3 1812.4,817.2 1810.7,819.1 1801.5,813.7 1797.4,813.0 1794.3,813.1 1791.7,813.7 1789.4,814.5 1787.4,815.7 1785.6,817.1 1784.1,818.7 1782.8,820.7 1781.7,823.0 1781.0,825.8 1780.7,829.4 1781.7,834.9 1783.5,842.0 1781.3,843.3 1779.1,844.5 1776.8,845.8 1774.5,846.9 1772.2,848.1 1769.9,849.1 1767.5,850.2 1761.1,843.0 1757.1,840.3 1753.9,838.9 1751.1,838.2 1748.5,838.0 1746.1,838.1 1743.8,838.6 1741.6,839.3 1739.6,840.4 1737.6,841.9 1735.8,843.9 1734.1,846.7 1732.8,851.0 1732.3,859.5 1729.7,859.8 1727.0,860.0 1724.4,860.2 1721.7,860.3 1719.0,860.4 1716.3,860.4 1713.6,860.4 1710.2,853.1 1707.2,848.5 1704.6,845.8 1702.0,843.9 1699.6,842.6 1697.1,841.7 1694.7,841.1 1692.3,840.8 1689.9,840.9 1687.5,841.3 1685.0,842.2 1682.3,843.7 1679.5,846.4 1675.7,854.8 1673.0,854.1 1670.3,853.2 1667.6,852.4 1665.0,851.4 1662.3,850.5 1659.7,849.5 1657.0,848.4 1655.8,842.6 1655.0,836.3 1653.5,832.6 1651.7,829.8 1649.9,827.6 1647.9,825.7 1645.8,824.2 1643.6,822.9 1641.2,822.0 1638.7,821.3 1636.0,821.0 1632.9,821.1 1629.3,822.0 1624.0,825.5 1619.6,827.0 1617.3,825.2 1615.0,823.4 1612.7,821.6 1610.5,819.7 1608.3,817.8 1606.1,815.9 1604.0,813.9 1608.0,805.2 1608.2,801.1 1607.6,797.8 1606.7,795.1 1605.6,792.6 1604.1,790.4 1602.5,788.4 1600.7,786.6 1598.5,784.9 1596.1,783.5 1593.2,782.4 1589.6,781.6 1584.3,781.8 1577.5,782.6 1575.9,780.2 1574.3,777.7 1572.8,775.2 1571.3,772.7 1569.9,770.2 1568.5,767.7 1567.1,765.1 1573.3,759.5 1575.4,755.8 1576.3,752.7 1576.6,749.8 1576.5,747.2 1576.0,744.7 1575.3,742.3 1574.2,740.0 1572.8,737.7 1571.1,735.5 1568.9,733.3 1565.9,731.2 1561.4,729.2 1552.9,727.5 1552.3,724.8 1551.7,722.0 1551.1,719.3 1550.6,716.5 1550.1,713.7 1549.7,711.0 1549.4,708.2 1556.1,705.7 1560.3,703.3 1562.6,700.9 1564.1,698.5 1565.0,696.2 1565.6,693.8 1565.9,691.5 1565.8,689.0 1565.4,686.5 1564.6,684.0 1563.4,681.2 1561.5,678.3 1558.5,675.0 1549.5,669.9 1549.9,667.3 1550.4,664.6 1550.9,662.0 1551.4,659.4 1552.0,656.8 1552.6,654.2 1553.3,651.6 1558.9,651.2 1565.0,651.2 1568.5,650.2 1571.0,648.8 1572.9,647.2 1574.5,645.4 1575.7,643.5 1576.6,641.4 1577.3,639.1 1577.6,636.6 1577.5,633.8 1577.0,630.7 1575.6,626.9 1571.4,620.9 1569.2,616.2 1570.6,614.0 1572.1,611.9 1573.6,609.8 1575.2,607.8 1576.7,605.8 1578.4,603.8 1580.0,601.9 1589.2,607.3 1593.3,608.0 1596.4,607.9 1599.1,607.4 1601.3,606.5" fill="#9c9c9c"/>
<polygon points="1600.9,607.1 1602.6,605.7 1604.2,604.1 1605.5,602.1 1606.5,599.8 1607.3,597.0 1607.6,593.4 1606.6,587.9 1604.8,580.8 1607.0,579.5 1609.2,578.2 1611.5,577.0 1613.8,575.8 1616.1,574.7 1618.4,573.6 1620.8,572.6 1627.2,579.8 1631.2,582.5 1634.4,583.8 1637.2,584.5 1639.8,584.8 1642.3,584.6 1644.5,584.2 1646.7,583.4 1648.8,582.3 1650.7,580.8 1652.5,578.8 1654.2,576.1 1655.6,571.8 1656.0,563.3 1658.7,563.0 1661.3,562.7 1664.0,562.5 1666.7,562.4 1669.3,562.3 1672.0,562.3 1674.7,562.3 1678.2,569.6 1681.2,574.2 1683.8,576.9 1686.4,578.8 1688.8,580.2 1691.3,581.1 1693.7,581.7 1696.1,581.9 1698.5,581.9 1700.9,581.5 1703.5,580.6 1706.1,579.1 1709.0,576.4 1712.7,567.9 1715.4,568.7 1718.1,569.5 1720.8,570.4 1723.5,571.3 1726.1,572.3 1728.8,573.3 1731.4,574.4 1732.6,580.2 1733.5,586.5 1735.0,590.2 1736.7,593.0 1738.6,595.2 1740.6,597.1 1742.7,598.6 1744.9,599.8 1747.3,600.8 1749.8,601.5 1752.5,601.8 1755.6,601.7 1759.2,600.8 1764.5,597.3 1768.9,595.8 1771.2,597.5 1773.5,599.3 1775.8,601.2 1778.0,603.1 1780.2,605.0 1782.4,606.9 1784.5,608.9 1780.5,617.6 1780.4,621.7 1780.9,625.0 1781.8,627.8 1783.0,630.2 1784.4,632.4 1786.0,634.4 1787.9,636.3 1790.0,637.9 1792.5,639.3 1795.4,640.5 1799.0,641.3 1804.3,641.1 1811.1,640.2 1812.7,642.6 1814.2,645.1 1815.8,647.6 1817.2,650.1 1818.7,652.7 1820.1,655.2 1821.4,657.8 1815.2,663.4 1813.1,667.1 1812.2,670.2 1811.9,673.1 1812.1,675.7 1812.5,678.2 1813.3,680.6 1814.4,682.9 1815.7,685.2 1817.5,687.4 1819.7,689.6 1822.7,691.7 1827.2,693.7 1835.7,695.4 1836.3,698.1 1836.9,700.9 1837.5,703.7 1838.0,706.4 1838.5,709.2 1838.9,712.0 1839.2,714.8 1832.5,717.3 1828.3,719.7 1826.0,722.1 1824.5,724.4 1823.5,726.8 1823.0,729.1 1822.7,731.5 1822.8,733.9 1823.2,736.4 1824.0,739.0 1825.2,741.7 1827.0,744.7 1830.1,748.0 1839.1,753.1 1838.7,755.8 1838.2,758.4 1837.7,761.0 1837.2,763.6 1836.6,766.2 1836.0,768.8 1835.3,771.4 1829.7,771.8 1823.6,771.8 1820.1,772.8 1817.6,774.2 1815.6,775.9 1814.1,777.6 1812.9,779.6 1811.9,781.7 1811.3,784.0 1811.0,786.4 1811.0,789.2 1811.6,792.4 1813.0,796.2 1817.2,802.2 1819.4,806.9 1817.9,809.1 1816.5,811.2 1815.0,813.2 1813.4,815.3 1811.8,817.3 1810.2,819.2 1808.5,821.2 1799.3,815.8 1795.2,815.1 1792.1,815.1 1789.5,815.7 1787.2,816.5 1785.2,817.7 1783.4,819.1 1781.9,820.8 1780.6,822.7 1779.5,825.0 1778.8,827.8 1778.5,831.4 1779.4,836.9 1781.3,844.0 1779.1,845.3 1776.8,846.6 1774.6,847.8 1772.3,849.0 1770.0,850.1 1767.7,851.2 1765.3,852.2 1758.9,845.1 1754.9,842.4 1751.7,841.0 1748.8,840.3 1746.2,840.1 1743.8,840.2 1741.5,840.6 1739.4,841.4 1737.3,842.5 1735.4,844.0 1733.5,846.0 1731.8,848.7 1730.5,853.1 1730.0,861.6 1727.4,861.9 1724.8,862.1 1722.1,862.3 1719.4,862.4 1716.7,862.5 1714.0,862.5 1711.3,862.5 1707.9,855.2 1704.9,850.6 1702.2,847.9 1699.7,846.0 1697.2,844.7 1694.8,843.7 1692.4,843.1 1690.0,842.9 1687.6,842.9 1685.1,843.4 1682.6,844.2 1680.0,845.7 1677.1,848.4 1673.3,856.9 1670.6,856.1 1667.9,855.3 1665.3,854.4 1662.6,853.5 1659.9,852.6 1657.3,851.5 1654.7,850.5 1653.4,844.6 1652.6,838.3 1651.1,834.6 1649.3,831.9 1647.5,829.6 1645.5,827.8 1643.4,826.2 1641.2,825.0 1638.8,824.0 1636.3,823.3 1633.6,823.0 1630.5,823.1 1626.9,824.0 1621.6,827.5 1617.2,829.1 1614.9,827.3 1612.6,825.5 1610.3,823.6 1608.1,821.8 1605.8,819.8 1603.7,817.9 1601.5,815.9 1605.6,807.2 1605.7,803.1 1605.2,799.8 1604.3,797.1 1603.1,794.6 1601.7,792.4 1600.1,790.4 1598.2,788.6 1596.1,786.9 1593.6,785.5 1590.7,784.3 1587.1,783.6 1581.8,783.7 1575.0,784.6 1573.4,782.2 1571.8,779.7 1570.3,777.2 1568.8,774.7 1567.4,772.2 1566.0,769.6 1564.6,767.0 1570.8,761.4 1572.9,757.7 1573.8,754.6 1574.1,751.8 1574.0,749.1 1573.5,746.6 1572.8,744.2 1571.7,741.9 1570.3,739.6 1568.6,737.4 1566.3,735.2 1563.4,733.1 1558.9,731.1 1550.4,729.4 1549.7,726.7 1549.1,723.9 1548.6,721.2 1548.1,718.4 1547.6,715.6 1547.2,712.8 1546.8,710.1 1553.6,707.5 1557.7,705.1 1560.0,702.8 1561.5,700.4 1562.5,698.1 1563.1,695.7 1563.4,693.3 1563.3,690.9 1562.9,688.4 1562.1,685.8 1560.9,683.1 1559.0,680.1 1555.9,676.8 1547.0,671.7 1547.4,669.1 1547.8,666.4 1548.3,663.8 1548.9,661.2 1549.4,658.6 1550.1,656.0 1550.8,653.4 1556.4,653.0 1562.5,653.0 1565.9,652.0 1568.5,650.6 1570.4,649.0 1572.0,647.2 1573.2,645.3 1574.1,643.2 1574.8,640.9 1575.1,638.4 1575.0,635.6 1574.5,632.5 1573.1,628.6 1568.9,622.6 1566.7,617.9 1568.1,615.8 1569.6,613.7 1571.1,611.6 1572.6,609.5 1574.2,607.5 1575.9,605.6 1577.5,603.6 1586.8,609.0 1590.8,609.8 1594.0,609.7 1596.6,609.1 1598.9,608.3" fill="#9c9c9c"/>
<polygon points="1598.4,608.9 1600.2,607.5 1601.7,605.8 1603.0,603.8 1604.1,601.5 1604.8,598.7 1605.1,595.1 1604.2,589.6 1602.3,582.5 1604.5,581.2 1606.8,579.9 1609.0,578.7 1611.3,577.5 1613.6,576.4 1616.0,575.3 1618.3,574.3 1624.8,581.5 1628.8,584.2 1632.0,585.5 1634.8,586.2 1637.4,586.4 1639.9,586.3 1642.1,585.9 1644.3,585.1 1646.4,584.0 1648.3,582.5 1650.2,580.5 1651.8,577.8 1653.2,573.4 1653.6,564.9 1656.3,564.6 1658.9,564.4 1661.6,564.2 1664.3,564.1 1667.0,564.0 1669.7,563.9 1672.4,564.0 1675.8,571.3 1678.8,575.9 1681.5,578.6 1684.0,580.5 1686.5,581.8 1688.9,582.8 1691.3,583.4 1693.7,583.6 1696.1,583.6 1698.6,583.2 1701.1,582.3 1703.8,580.8 1706.7,578.1 1710.4,569.6 1713.1,570.3 1715.8,571.2 1718.5,572.1 1721.2,573.0 1723.8,573.9 1726.5,575.0 1729.1,576.0 1730.3,581.9 1731.2,588.2 1732.7,591.9 1734.5,594.7 1736.3,596.9 1738.3,598.8 1740.4,600.3 1742.6,601.6 1745.0,602.5 1747.5,603.2 1750.3,603.6 1753.3,603.4 1756.9,602.5 1762.3,599.0 1766.7,597.5 1769.0,599.2 1771.3,601.1 1773.6,602.9 1775.8,604.8 1778.0,606.7 1780.2,608.7 1782.3,610.7 1778.3,619.4 1778.1,623.5 1778.7,626.7 1779.6,629.5 1780.8,632.0 1782.2,634.2 1783.8,636.2 1785.7,638.0 1787.8,639.7 1790.3,641.1 1793.2,642.3 1796.8,643.0 1802.1,642.9 1808.9,642.0 1810.5,644.4 1812.1,646.9 1813.6,649.4 1815.1,651.9 1816.5,654.4 1817.9,657.0 1819.3,659.6 1813.1,665.2 1811.0,668.9 1810.1,672.0 1809.8,674.9 1809.9,677.5 1810.4,680.0 1811.1,682.4 1812.2,684.8 1813.6,687.1 1815.3,689.3 1817.6,691.4 1820.5,693.6 1825.0,695.6 1833.5,697.2 1834.2,700.0 1834.8,702.8 1835.4,705.5 1835.9,708.3 1836.3,711.1 1836.8,713.9 1837.1,716.6 1830.4,719.2 1826.2,721.6 1823.9,724.0 1822.4,726.3 1821.4,728.7 1820.8,731.0 1820.6,733.4 1820.6,735.8 1821.0,738.3 1821.8,740.9 1823.0,743.7 1824.9,746.6 1828.0,749.9 1836.9,755.0 1836.6,757.7 1836.1,760.3 1835.6,763.0 1835.1,765.6 1834.5,768.2 1833.9,770.8 1833.2,773.4 1827.5,773.8 1821.4,773.8 1818.0,774.8 1815.4,776.2 1813.5,777.8 1811.9,779.6 1810.7,781.5 1809.8,783.7 1809.1,785.9 1808.8,788.4 1808.9,791.2 1809.4,794.4 1810.8,798.2 1815.1,804.2 1817.2,808.9 1815.8,811.1 1814.3,813.2 1812.8,815.3 1811.3,817.3 1809.7,819.3 1808.0,821.3 1806.4,823.2 1797.1,817.8 1793.1,817.1 1789.9,817.2 1787.3,817.7 1785.0,818.6 1783.0,819.7 1781.2,821.1 1779.7,822.8 1778.4,824.7 1777.3,827.1 1776.6,829.9 1776.3,833.5 1777.2,839.0 1779.1,846.1 1776.9,847.4 1774.6,848.7 1772.4,849.9 1770.1,851.1 1767.8,852.2 1765.4,853.3 1763.1,854.3 1756.6,847.1 1752.6,844.4 1749.4,843.1 1746.6,842.4 1744.0,842.1 1741.5,842.3 1739.3,842.7 1737.1,843.5 1735.0,844.6 1733.1,846.1 1731.2,848.0 1729.6,850.8 1728.2,855.1 1727.8,863.7 1725.1,864.0 1722.5,864.2 1719.8,864.4 1717.1,864.5 1714.4,864.6 1711.7,864.6 1709.0,864.6 1705.6,857.3 1702.6,852.7 1699.9,850.0 1697.4,848.1 1694.9,846.7 1692.5,845.8 1690.1,845.2 1687.7,844.9 1685.3,845.0 1682.8,845.4 1680.3,846.3 1677.6,847.8 1674.7,850.5 1671.0,859.0 1668.3,858.2 1665.6,857.4 1662.9,856.5 1660.2,855.6 1657.6,854.6 1654.9,853.6 1652.3,852.5 1651.1,846.7 1650.2,840.4 1648.7,836.7 1646.9,833.9 1645.1,831.7 1643.1,829.8 1641.0,828.3 1638.8,827.0 1636.4,826.0 1633.9,825.4 1631.1,825.0 1628.1,825.2 1624.5,826.1 1619.1,829.6 1614.7,831.1 1612.4,829.3 1610.1,827.5 1607.8,825.7 1605.6,823.8 1603.4,821.9 1601.2,819.9 1599.1,817.9 1603.1,809.2 1603.3,805.1 1602.7,801.8 1601.8,799.1 1600.6,796.6 1599.2,794.4 1597.6,792.4 1595.7,790.6 1593.6,788.9 1591.1,787.5 1588.2,786.3 1584.6,785.5 1579.3,785.7 1572.5,786.6 1570.9,784.2 1569.3,781.7 1567.8,779.2 1566.3,776.7 1564.9,774.1 1563.5,771.6 1562.1,769.0 1568.3,763.4 1570.4,759.7 1571.3,756.5 1571.6,753.7 1571.5,751.1 1571.0,748.5 1570.3,746.1 1569.2,743.8 1567.8,741.5 1566.1,739.3 1563.8,737.1 1560.9,735.0 1556.4,733.0 1547.9,731.3 1547.2,728.6 1546.6,725.8 1546.0,723.0 1545.5,720.3 1545.1,717.5 1544.6,714.7 1544.3,711.9 1551.0,709.4 1555.2,707.0 1557.5,704.6 1559.0,702.3 1560.0,699.9 1560.6,697.6 1560.8,695.2 1560.8,692.7 1560.4,690.2 1559.6,687.6 1558.4,684.9 1556.5,682.0 1553.4,678.6 1544.5,673.6 1544.8,670.9 1545.3,668.2 1545.8,665.6 1546.3,663.0 1546.9,660.4 1547.5,657.8 1548.2,655.2 1553.9,654.8 1560.0,654.8 1563.4,653.8 1566.0,652.4 1567.9,650.8 1569.5,649.0 1570.7,647.0 1571.6,644.9 1572.3,642.7 1572.6,640.2 1572.5,637.4 1572.0,634.2 1570.6,630.4 1566.3,624.4 1564.2,619.6 1565.6,617.5 1567.1,615.4 1568.6,613.3 1570.1,611.3 1571.7,609.3 1573.4,607.3 1575.0,605.4 1584.3,610.8 1588.3,611.5 1591.5,611.4 1594.1,610.9 1596.4,610.0" fill="#9c9c9c"/>
<polygon points="1595.9,610.6 1597.7,609.2 1599.2,607.5 1600.6,605.6 1601.6,603.2 1602.4,600.4 1602.7,596.8 1601.7,591.3 1599.9,584.2 1602.1,582.9 1604.3,581.6 1606.6,580.4 1608.9,579.2 1611.2,578.1 1613.5,577.0 1615.9,575.9 1622.3,583.2 1626.3,585.8 1629.6,587.2 1632.4,587.9 1635.0,588.1 1637.5,588.0 1639.7,587.6 1641.9,586.8 1644.0,585.7 1645.9,584.2 1647.8,582.2 1649.4,579.5 1650.8,575.1 1651.2,566.6 1653.9,566.3 1656.6,566.1 1659.2,565.9 1661.9,565.7 1664.6,565.6 1667.3,565.6 1670.0,565.6 1673.5,573.0 1676.4,577.6 1679.1,580.3 1681.7,582.2 1684.2,583.5 1686.6,584.5 1689.0,585.1 1691.4,585.3 1693.8,585.3 1696.3,584.9 1698.8,584.0 1701.5,582.5 1704.3,579.7 1708.1,571.2 1710.8,572.0 1713.5,572.9 1716.2,573.7 1718.9,574.7 1721.6,575.6 1724.2,576.7 1726.9,577.7 1728.1,583.6 1728.9,589.9 1730.5,593.6 1732.2,596.4 1734.1,598.6 1736.1,600.5 1738.2,602.0 1740.4,603.3 1742.7,604.3 1745.3,604.9 1748.0,605.3 1751.1,605.2 1754.7,604.2 1760.0,600.7 1764.4,599.2 1766.8,601.0 1769.1,602.8 1771.3,604.6 1773.6,606.5 1775.8,608.4 1778.0,610.4 1780.1,612.4 1776.1,621.1 1775.9,625.2 1776.5,628.5 1777.4,631.3 1778.6,633.8 1780.0,636.0 1781.6,638.0 1783.5,639.8 1785.6,641.4 1788.1,642.9 1791.0,644.0 1794.6,644.8 1799.9,644.6 1806.7,643.8 1808.3,646.2 1809.9,648.7 1811.4,651.2 1812.9,653.7 1814.4,656.2 1815.8,658.8 1817.1,661.4 1810.9,667.0 1808.8,670.7 1807.9,673.9 1807.6,676.7 1807.7,679.4 1808.2,681.9 1809.0,684.3 1810.0,686.6 1811.4,688.9 1813.2,691.1 1815.4,693.3 1818.4,695.4 1822.9,697.4 1831.4,699.1 1832.1,701.9 1832.7,704.6 1833.2,707.4 1833.8,710.2 1834.2,713.0 1834.6,715.7 1835.0,718.5 1828.2,721.1 1824.1,723.5 1821.7,725.8 1820.2,728.2 1819.2,730.6 1818.7,732.9 1818.4,735.3 1818.5,737.8 1818.9,740.3 1819.7,742.9 1820.9,745.6 1822.8,748.5 1825.9,751.9 1834.8,757.0 1834.4,759.6 1834.0,762.3 1833.5,764.9 1833.0,767.6 1832.4,770.2 1831.7,772.8 1831.0,775.3 1825.4,775.7 1819.3,775.7 1815.8,776.8 1813.3,778.2 1811.3,779.8 1809.8,781.6 1808.5,783.5 1807.6,785.6 1807.0,787.9 1806.7,790.4 1806.7,793.2 1807.3,796.4 1808.7,800.2 1812.9,806.2 1815.1,811.0 1813.6,813.1 1812.2,815.2 1810.7,817.3 1809.1,819.3 1807.5,821.3 1805.9,823.3 1804.2,825.2 1794.9,819.8 1790.9,819.1 1787.7,819.2 1785.1,819.7 1782.8,820.6 1780.8,821.7 1779.0,823.2 1777.5,824.8 1776.2,826.8 1775.1,829.1 1774.3,831.9 1774.1,835.5 1775.0,841.0 1776.9,848.2 1774.7,849.5 1772.4,850.8 1770.2,852.0 1767.9,853.2 1765.6,854.3 1763.2,855.4 1760.8,856.4 1754.4,849.2 1750.4,846.5 1747.2,845.1 1744.3,844.4 1741.7,844.2 1739.3,844.3 1737.0,844.8 1734.8,845.5 1732.8,846.6 1730.8,848.1 1729.0,850.1 1727.3,852.9 1725.9,857.2 1725.5,865.8 1722.8,866.0 1720.2,866.3 1717.5,866.5 1714.8,866.6 1712.1,866.7 1709.4,866.7 1706.7,866.7 1703.3,859.4 1700.3,854.8 1697.6,852.0 1695.1,850.2 1692.6,848.8 1690.1,847.9 1687.7,847.3 1685.3,847.0 1682.9,847.1 1680.4,847.5 1677.9,848.4 1675.3,849.9 1672.4,852.6 1668.6,861.1 1665.9,860.3 1663.2,859.5 1660.5,858.6 1657.8,857.7 1655.2,856.7 1652.5,855.7 1649.9,854.6 1648.7,848.8 1647.8,842.5 1646.3,838.8 1644.5,836.0 1642.7,833.7 1640.7,831.8 1638.6,830.3 1636.3,829.1 1634.0,828.1 1631.5,827.4 1628.7,827.1 1625.7,827.2 1622.1,828.1 1616.7,831.6 1612.3,833.2 1610.0,831.4 1607.7,829.6 1605.4,827.7 1603.2,825.8 1600.9,823.9 1598.7,821.9 1596.6,819.9 1600.7,811.2 1600.8,807.1 1600.3,803.8 1599.4,801.1 1598.2,798.6 1596.8,796.4 1595.1,794.4 1593.2,792.5 1591.1,790.9 1588.7,789.5 1585.8,788.3 1582.1,787.5 1576.8,787.7 1570.0,788.6 1568.4,786.1 1566.8,783.7 1565.3,781.2 1563.8,778.6 1562.4,776.1 1560.9,773.5 1559.6,771.0 1565.8,765.3 1567.9,761.6 1568.8,758.5 1569.1,755.6 1569.0,753.0 1568.5,750.5 1567.8,748.1 1566.7,745.7 1565.3,743.4 1563.6,741.2 1561.3,739.0 1558.3,736.9 1553.9,734.9 1545.3,733.3 1544.7,730.5 1544.1,727.7 1543.5,724.9 1543.0,722.2 1542.5,719.4 1542.1,716.6 1541.7,713.8 1548.5,711.3 1552.7,708.9 1555.0,706.5 1556.5,704.1 1557.5,701.8 1558.1,699.4 1558.3,697.0 1558.2,694.6 1557.8,692.1 1557.1,689.5 1555.9,686.8 1554.0,683.8 1550.9,680.5 1541.9,675.4 1542.3,672.7 1542.7,670.1 1543.2,667.4 1543.8,664.8 1544.4,662.2 1545.0,659.6 1545.7,657.0 1551.3,656.6 1557.5,656.6 1560.9,655.6 1563.4,654.2 1565.4,652.6 1567.0,650.8 1568.2,648.8 1569.1,646.7 1569.8,644.4 1570.1,641.9 1570.0,639.2 1569.5,636.0 1568.1,632.1 1563.8,626.1 1561.7,621.4 1563.1,619.2 1564.6,617.1 1566.1,615.1 1567.6,613.0 1569.2,611.0 1570.9,609.0 1572.5,607.1 1581.8,612.5 1585.9,613.2 1589.0,613.1 1591.7,612.6 1593.9,611.7" fill="#9c9c9c"/>
<polygon points="1593.5,612.3 1595.2,610.9 1596.8,609.3 1598.1,607.3 1599.2,605.0 1599.9,602.1 1600.2,598.5 1599.3,593.0 1597.4,585.9 1599.6,584.6 1601.9,583.3 1604.1,582.1 1606.4,580.9 1608.7,579.7 1611.1,578.7 1613.5,577.6 1619.9,584.8 1623.9,587.5 1627.1,588.9 1630.0,589.6 1632.6,589.8 1635.0,589.7 1637.3,589.3 1639.5,588.5 1641.6,587.4 1643.5,585.9 1645.4,583.9 1647.1,581.2 1648.4,576.8 1648.9,568.3 1651.5,568.0 1654.2,567.7 1656.9,567.5 1659.5,567.4 1662.2,567.3 1664.9,567.3 1667.6,567.3 1671.1,574.6 1674.1,579.3 1676.8,582.0 1679.3,583.9 1681.8,585.2 1684.2,586.2 1686.7,586.8 1689.1,587.0 1691.5,587.0 1694.0,586.5 1696.5,585.7 1699.2,584.1 1702.0,581.4 1705.8,572.9 1708.5,573.7 1711.2,574.5 1713.9,575.4 1716.6,576.3 1719.3,577.3 1721.9,578.3 1724.6,579.4 1725.8,585.3 1726.7,591.6 1728.2,595.3 1729.9,598.1 1731.8,600.4 1733.8,602.2 1735.9,603.8 1738.1,605.0 1740.5,606.0 1743.0,606.7 1745.8,607.0 1748.8,606.9 1752.4,606.0 1757.8,602.5 1762.2,600.9 1764.5,602.7 1766.8,604.5 1769.1,606.3 1771.4,608.2 1773.6,610.2 1775.8,612.1 1777.9,614.1 1773.9,622.9 1773.7,627.0 1774.3,630.3 1775.2,633.1 1776.4,635.5 1777.8,637.7 1779.4,639.8 1781.3,641.6 1783.4,643.2 1785.9,644.6 1788.8,645.8 1792.4,646.6 1797.7,646.4 1804.6,645.5 1806.2,648.0 1807.7,650.5 1809.3,653.0 1810.8,655.5 1812.2,658.0 1813.6,660.6 1815.0,663.2 1808.7,668.8 1806.6,672.6 1805.7,675.7 1805.4,678.5 1805.6,681.2 1806.0,683.7 1806.8,686.1 1807.9,688.5 1809.3,690.7 1811.0,693.0 1813.3,695.1 1816.2,697.3 1820.7,699.3 1829.3,700.9 1829.9,703.7 1830.5,706.5 1831.1,709.3 1831.6,712.1 1832.1,714.8 1832.5,717.6 1832.9,720.4 1826.1,723.0 1821.9,725.4 1819.6,727.7 1818.1,730.1 1817.1,732.5 1816.5,734.8 1816.3,737.2 1816.3,739.7 1816.7,742.2 1817.5,744.8 1818.7,747.5 1820.6,750.5 1823.7,753.8 1832.7,758.9 1832.3,761.6 1831.9,764.2 1831.4,766.9 1830.8,769.5 1830.2,772.1 1829.6,774.7 1828.9,777.3 1823.3,777.7 1817.1,777.7 1813.7,778.7 1811.1,780.1 1809.2,781.8 1807.6,783.6 1806.4,785.5 1805.4,787.6 1804.8,789.9 1804.5,792.4 1804.5,795.2 1805.1,798.4 1806.5,802.2 1810.7,808.2 1812.9,813.0 1811.5,815.1 1810.0,817.2 1808.5,819.3 1806.9,821.4 1805.3,823.4 1803.7,825.3 1802.0,827.3 1792.8,821.9 1788.7,821.1 1785.5,821.2 1782.9,821.8 1780.6,822.6 1778.6,823.8 1776.8,825.2 1775.3,826.9 1774.0,828.8 1772.9,831.2 1772.1,834.0 1771.9,837.6 1772.8,843.1 1774.6,850.2 1772.4,851.6 1770.2,852.8 1767.9,854.1 1765.7,855.2 1763.3,856.4 1761.0,857.4 1758.6,858.5 1752.1,851.3 1748.2,848.6 1744.9,847.2 1742.1,846.5 1739.5,846.3 1737.0,846.4 1734.7,846.8 1732.6,847.6 1730.5,848.7 1728.5,850.2 1726.7,852.2 1725.0,855.0 1723.7,859.3 1723.2,867.8 1720.6,868.1 1717.9,868.4 1715.2,868.6 1712.5,868.7 1709.8,868.8 1707.1,868.8 1704.4,868.8 1700.9,861.5 1698.0,856.8 1695.3,854.1 1692.7,852.2 1690.3,850.9 1687.8,849.9 1685.4,849.3 1683.0,849.1 1680.6,849.1 1678.1,849.6 1675.6,850.4 1672.9,852.0 1670.0,854.7 1666.2,863.2 1663.5,862.4 1660.8,861.6 1658.1,860.7 1655.5,859.8 1652.8,858.8 1650.1,857.8 1647.5,856.7 1646.3,850.8 1645.4,844.5 1643.9,840.8 1642.1,838.0 1640.3,835.8 1638.3,833.9 1636.2,832.4 1633.9,831.1 1631.6,830.1 1629.1,829.4 1626.3,829.1 1623.2,829.2 1619.6,830.1 1614.3,833.6 1609.9,835.2 1607.5,833.4 1605.2,831.6 1602.9,829.8 1600.7,827.9 1598.5,825.9 1596.3,824.0 1594.1,822.0 1598.2,813.2 1598.3,809.1 1597.8,805.8 1596.9,803.1 1595.7,800.6 1594.3,798.4 1592.7,796.4 1590.8,794.5 1588.6,792.9 1586.2,791.5 1583.3,790.3 1579.7,789.5 1574.3,789.7 1567.5,790.6 1565.9,788.1 1564.3,785.6 1562.8,783.1 1561.3,780.6 1559.8,778.1 1558.4,775.5 1557.1,772.9 1563.3,767.3 1565.4,763.6 1566.3,760.4 1566.6,757.6 1566.5,754.9 1566.0,752.4 1565.3,750.0 1564.2,747.6 1562.8,745.4 1561.1,743.1 1558.8,741.0 1555.8,738.8 1551.3,736.8 1542.8,735.2 1542.1,732.4 1541.5,729.6 1541.0,726.8 1540.4,724.0 1540.0,721.3 1539.6,718.5 1539.2,715.7 1546.0,713.2 1550.2,710.7 1552.5,708.4 1554.0,706.0 1555.0,703.6 1555.6,701.3 1555.8,698.9 1555.7,696.4 1555.3,693.9 1554.6,691.3 1553.3,688.6 1551.4,685.7 1548.4,682.3 1539.4,677.2 1539.8,674.5 1540.2,671.9 1540.7,669.2 1541.2,666.6 1541.8,664.0 1542.5,661.4 1543.2,658.8 1548.8,658.4 1554.9,658.4 1558.4,657.4 1560.9,656.0 1562.9,654.3 1564.5,652.6 1565.7,650.6 1566.6,648.5 1567.3,646.2 1567.6,643.7 1567.5,640.9 1567.0,637.8 1565.6,633.9 1561.3,627.9 1559.2,623.1 1560.6,621.0 1562.1,618.9 1563.6,616.8 1565.1,614.7 1566.7,612.7 1568.4,610.8 1570.0,608.8 1579.3,614.2 1583.4,615.0 1586.6,614.9 1589.2,614.3 1591.5,613.5" fill="#9c9c9c"/>
<polygon points="1591.0,614.1 1592.8,612.7 1594.3,611.0 1595.6,609.0 1596.7,606.7 1597.5,603.8 1597.7,600.2 1596.8,594.7 1595.0,587.6 1597.2,586.2 1599.4,585.0 1601.7,583.7 1604.0,582.6 1606.3,581.4 1608.6,580.3 1611.0,579.3 1617.5,586.5 1621.5,589.2 1624.7,590.6 1627.6,591.3 1630.2,591.5 1632.6,591.4 1634.9,591.0 1637.1,590.2 1639.2,589.1 1641.1,587.6 1643.0,585.6 1644.7,582.8 1646.0,578.5 1646.5,569.9 1649.1,569.6 1651.8,569.4 1654.5,569.2 1657.2,569.1 1659.9,569.0 1662.6,569.0 1665.3,569.0 1668.8,576.3 1671.7,581.0 1674.4,583.7 1677.0,585.6 1679.5,586.9 1681.9,587.9 1684.3,588.5 1686.7,588.7 1689.2,588.7 1691.6,588.2 1694.2,587.4 1696.8,585.8 1699.7,583.1 1703.5,574.6 1706.2,575.4 1708.9,576.2 1711.6,577.1 1714.3,578.0 1717.0,579.0 1719.7,580.0 1722.3,581.1 1723.5,587.0 1724.4,593.3 1725.9,597.0 1727.7,599.8 1729.5,602.1 1731.5,603.9 1733.6,605.5 1735.9,606.7 1738.2,607.7 1740.8,608.4 1743.5,608.7 1746.6,608.6 1750.2,607.7 1755.6,604.2 1760.0,602.6 1762.3,604.4 1764.6,606.2 1766.9,608.1 1769.2,610.0 1771.4,611.9 1773.6,613.9 1775.7,615.9 1771.7,624.6 1771.5,628.7 1772.1,632.0 1773.0,634.8 1774.1,637.3 1775.6,639.5 1777.2,641.5 1779.1,643.4 1781.2,645.0 1783.7,646.4 1786.6,647.6 1790.2,648.4 1795.6,648.2 1802.4,647.3 1804.0,649.8 1805.6,652.3 1807.1,654.8 1808.6,657.3 1810.1,659.8 1811.5,662.4 1812.8,665.0 1806.6,670.6 1804.5,674.4 1803.6,677.5 1803.3,680.4 1803.4,683.0 1803.9,685.5 1804.6,688.0 1805.7,690.3 1807.1,692.6 1808.9,694.8 1811.1,697.0 1814.1,699.1 1818.6,701.1 1827.1,702.8 1827.8,705.6 1828.4,708.4 1829.0,711.1 1829.5,713.9 1830.0,716.7 1830.4,719.5 1830.7,722.3 1823.9,724.8 1819.8,727.3 1817.5,729.6 1815.9,732.0 1815.0,734.4 1814.4,736.7 1814.1,739.1 1814.2,741.6 1814.6,744.1 1815.4,746.7 1816.6,749.4 1818.5,752.4 1821.6,755.7 1830.6,760.8 1830.2,763.5 1829.7,766.2 1829.2,768.8 1828.7,771.5 1828.1,774.1 1827.5,776.7 1826.8,779.2 1821.1,779.7 1815.0,779.7 1811.5,780.7 1809.0,782.1 1807.0,783.7 1805.4,785.5 1804.2,787.5 1803.3,789.6 1802.6,791.9 1802.3,794.4 1802.4,797.2 1802.9,800.3 1804.4,804.2 1808.6,810.2 1810.8,815.0 1809.3,817.1 1807.8,819.3 1806.3,821.3 1804.8,823.4 1803.2,825.4 1801.5,827.4 1799.9,829.3 1790.6,823.9 1786.5,823.2 1783.3,823.3 1780.7,823.8 1778.4,824.7 1776.4,825.8 1774.6,827.2 1773.1,828.9 1771.8,830.9 1770.7,833.2 1769.9,836.0 1769.7,839.6 1770.6,845.2 1772.4,852.3 1770.2,853.6 1768.0,854.9 1765.7,856.1 1763.4,857.3 1761.1,858.4 1758.8,859.5 1756.4,860.6 1749.9,853.3 1745.9,850.6 1742.7,849.3 1739.8,848.6 1737.2,848.3 1734.8,848.4 1732.5,848.9 1730.3,849.7 1728.2,850.8 1726.3,852.3 1724.4,854.3 1722.7,857.0 1721.4,861.4 1720.9,869.9 1718.3,870.2 1715.6,870.5 1712.9,870.7 1710.2,870.8 1707.5,870.9 1704.8,870.9 1702.1,870.9 1698.6,863.5 1695.7,858.9 1693.0,856.2 1690.4,854.3 1687.9,852.9 1685.5,852.0 1683.1,851.4 1680.7,851.1 1678.2,851.2 1675.8,851.6 1673.2,852.5 1670.6,854.0 1667.7,856.7 1663.9,865.3 1661.2,864.5 1658.5,863.7 1655.8,862.8 1653.1,861.9 1650.4,860.9 1647.7,859.8 1645.1,858.8 1643.9,852.9 1643.0,846.6 1641.5,842.9 1639.7,840.1 1637.9,837.8 1635.9,835.9 1633.8,834.4 1631.5,833.1 1629.2,832.2 1626.6,831.5 1623.9,831.1 1620.8,831.3 1617.2,832.2 1611.8,835.7 1607.4,837.2 1605.1,835.5 1602.8,833.7 1600.5,831.8 1598.2,829.9 1596.0,828.0 1593.8,826.0 1591.7,824.0 1595.7,815.2 1595.9,811.1 1595.3,807.9 1594.4,805.1 1593.3,802.6 1591.8,800.4 1590.2,798.3 1588.3,796.5 1586.2,794.9 1583.7,793.4 1580.8,792.3 1577.2,791.5 1571.8,791.7 1565.0,792.6 1563.4,790.1 1561.8,787.6 1560.3,785.1 1558.8,782.6 1557.3,780.0 1555.9,777.5 1554.6,774.9 1560.8,769.2 1562.9,765.5 1563.8,762.4 1564.1,759.5 1564.0,756.9 1563.5,754.3 1562.8,751.9 1561.7,749.6 1560.3,747.3 1558.5,745.1 1556.3,742.9 1553.3,740.7 1548.8,738.7 1540.3,737.1 1539.6,734.3 1539.0,731.5 1538.4,728.7 1537.9,725.9 1537.4,723.1 1537.0,720.4 1536.7,717.6 1543.5,715.0 1547.6,712.6 1549.9,710.2 1551.5,707.9 1552.4,705.5 1553.0,703.1 1553.3,700.7 1553.2,698.3 1552.8,695.8 1552.0,693.2 1550.8,690.4 1548.9,687.5 1545.8,684.1 1536.8,679.0 1537.2,676.3 1537.7,673.7 1538.2,671.0 1538.7,668.4 1539.3,665.8 1539.9,663.2 1540.6,660.6 1546.3,660.2 1552.4,660.2 1555.9,659.2 1558.4,657.8 1560.4,656.1 1562.0,654.3 1563.2,652.4 1564.1,650.3 1564.8,648.0 1565.1,645.5 1565.0,642.7 1564.5,639.5 1563.0,635.7 1558.8,629.6 1556.6,624.9 1558.1,622.7 1559.6,620.6 1561.1,618.5 1562.6,616.5 1564.2,614.5 1565.9,612.5 1567.5,610.5 1576.8,616.0 1580.9,616.7 1584.1,616.6 1586.7,616.1 1589.0,615.2" fill="#9c9c9c"/>
<polygon points="1588.5,615.8 1590.3,614.4 1591.9,612.7 1593.2,610.7 1594.3,608.4 1595.0,605.6 1595.3,601.9 1594.3,596.4 1592.5,589.3 1594.7,587.9 1597.0,586.7 1599.2,585.4 1601.5,584.2 1603.8,583.1 1606.2,582.0 1608.6,581.0 1615.1,588.2 1619.1,590.9 1622.3,592.3 1625.2,593.0 1627.8,593.2 1630.2,593.1 1632.5,592.7 1634.7,591.9 1636.8,590.8 1638.7,589.3 1640.6,587.3 1642.3,584.5 1643.6,580.2 1644.1,571.6 1646.7,571.3 1649.4,571.1 1652.1,570.9 1654.8,570.7 1657.5,570.7 1660.2,570.6 1662.9,570.6 1666.4,578.0 1669.4,582.6 1672.1,585.4 1674.7,587.3 1677.1,588.6 1679.6,589.6 1682.0,590.2 1684.4,590.4 1686.8,590.4 1689.3,589.9 1691.9,589.1 1694.5,587.5 1697.4,584.8 1701.2,576.3 1703.9,577.1 1706.6,577.9 1709.3,578.8 1712.0,579.7 1714.7,580.7 1717.4,581.7 1720.0,582.8 1721.2,588.7 1722.1,595.0 1723.6,598.7 1725.4,601.5 1727.3,603.8 1729.3,605.6 1731.4,607.2 1733.6,608.4 1736.0,609.4 1738.5,610.1 1741.3,610.4 1744.3,610.3 1748.0,609.4 1753.3,605.9 1757.8,604.3 1760.1,606.1 1762.4,607.9 1764.7,609.8 1766.9,611.7 1769.2,613.6 1771.4,615.6 1773.5,617.6 1769.4,626.4 1769.3,630.5 1769.8,633.8 1770.8,636.6 1771.9,639.0 1773.4,641.3 1775.0,643.3 1776.9,645.1 1779.0,646.8 1781.5,648.2 1784.4,649.4 1788.0,650.2 1793.4,650.0 1800.2,649.1 1801.8,651.6 1803.4,654.0 1805.0,656.5 1806.5,659.1 1807.9,661.6 1809.3,664.2 1810.7,666.8 1804.4,672.5 1802.3,676.2 1801.4,679.3 1801.1,682.2 1801.2,684.8 1801.7,687.4 1802.5,689.8 1803.6,692.1 1804.9,694.4 1806.7,696.7 1808.9,698.8 1811.9,701.0 1816.4,703.0 1825.0,704.7 1825.7,707.4 1826.3,710.2 1826.9,713.0 1827.4,715.8 1827.8,718.6 1828.3,721.4 1828.6,724.2 1821.8,726.7 1817.6,729.1 1815.3,731.5 1813.8,733.9 1812.8,736.3 1812.2,738.6 1812.0,741.0 1812.0,743.5 1812.4,746.0 1813.2,748.6 1814.4,751.4 1816.3,754.3 1819.4,757.7 1828.4,762.8 1828.0,765.5 1827.6,768.1 1827.1,770.8 1826.6,773.4 1826.0,776.0 1825.3,778.6 1824.6,781.2 1819.0,781.6 1812.8,781.6 1809.4,782.7 1806.8,784.1 1804.8,785.7 1803.3,787.5 1802.0,789.5 1801.1,791.6 1800.5,793.9 1800.2,796.4 1800.2,799.2 1800.8,802.3 1802.2,806.2 1806.4,812.2 1808.6,817.0 1807.2,819.1 1805.7,821.3 1804.2,823.4 1802.6,825.4 1801.0,827.4 1799.4,829.4 1797.7,831.4 1788.4,825.9 1784.3,825.2 1781.1,825.3 1778.5,825.8 1776.2,826.7 1774.2,827.8 1772.4,829.2 1770.9,830.9 1769.5,832.9 1768.5,835.2 1767.7,838.1 1767.4,841.7 1768.4,847.2 1770.2,854.4 1768.0,855.7 1765.8,857.0 1763.5,858.2 1761.2,859.4 1758.9,860.5 1756.5,861.6 1754.2,862.6 1747.7,855.4 1743.7,852.7 1740.4,851.3 1737.6,850.6 1734.9,850.4 1732.5,850.5 1730.2,851.0 1728.0,851.7 1726.0,852.8 1724.0,854.3 1722.1,856.3 1720.5,859.1 1719.1,863.5 1718.6,872.0 1716.0,872.3 1713.3,872.6 1710.6,872.8 1707.9,872.9 1705.2,873.0 1702.5,873.0 1699.8,873.0 1696.3,865.6 1693.3,861.0 1690.6,858.3 1688.1,856.4 1685.6,855.0 1683.2,854.1 1680.7,853.5 1678.3,853.2 1675.9,853.3 1673.4,853.7 1670.9,854.6 1668.2,856.1 1665.3,858.8 1661.5,867.4 1658.8,866.6 1656.1,865.7 1653.4,864.9 1650.7,863.9 1648.0,863.0 1645.4,861.9 1642.7,860.9 1641.5,855.0 1640.6,848.6 1639.1,844.9 1637.4,842.1 1635.5,839.8 1633.5,838.0 1631.4,836.4 1629.1,835.2 1626.8,834.2 1624.2,833.5 1621.5,833.2 1618.4,833.3 1614.8,834.2 1609.4,837.7 1605.0,839.3 1602.6,837.5 1600.3,835.7 1598.0,833.8 1595.8,831.9 1593.6,830.0 1591.4,828.0 1589.2,826.0 1593.3,817.3 1593.4,813.1 1592.9,809.9 1592.0,807.1 1590.8,804.6 1589.4,802.4 1587.7,800.3 1585.8,798.5 1583.7,796.9 1581.2,795.4 1578.3,794.2 1574.7,793.5 1569.3,793.7 1562.5,794.5 1560.9,792.1 1559.3,789.6 1557.8,787.1 1556.3,784.5 1554.8,782.0 1553.4,779.4 1552.0,776.8 1558.3,771.2 1560.4,767.4 1561.3,764.3 1561.6,761.4 1561.5,758.8 1561.0,756.3 1560.2,753.8 1559.2,751.5 1557.8,749.2 1556.0,747.0 1553.8,744.8 1550.8,742.7 1546.3,740.6 1537.7,739.0 1537.1,736.2 1536.4,733.4 1535.9,730.6 1535.4,727.8 1534.9,725.0 1534.5,722.2 1534.1,719.4 1540.9,716.9 1545.1,714.5 1547.4,712.1 1548.9,709.7 1549.9,707.4 1550.5,705.0 1550.8,702.6 1550.7,700.1 1550.3,697.6 1549.5,695.0 1548.3,692.3 1546.4,689.3 1543.3,686.0 1534.3,680.8 1534.7,678.2 1535.1,675.5 1535.6,672.8 1536.2,670.2 1536.8,667.6 1537.4,665.0 1538.1,662.4 1543.8,662.0 1549.9,662.0 1553.4,660.9 1555.9,659.5 1557.9,657.9 1559.5,656.1 1560.7,654.2 1561.6,652.1 1562.3,649.8 1562.6,647.3 1562.5,644.5 1562.0,641.3 1560.5,637.4 1556.3,631.4 1554.1,626.6 1555.6,624.5 1557.0,622.4 1558.6,620.3 1560.1,618.2 1561.7,616.2 1563.4,614.2 1565.1,612.3 1574.3,617.7 1578.4,618.4 1581.6,618.4 1584.3,617.8 1586.5,616.9" fill="#9c9c9c"/>
<polygon points="1586.1,617.5 1587.9,616.1 1589.4,614.4 1590.7,612.5 1591.8,610.1 1592.6,607.3 1592.8,603.7 1591.9,598.1 1590.0,590.9 1592.3,589.6 1594.5,588.3 1596.8,587.1 1599.1,585.9 1601.4,584.8 1603.8,583.7 1606.1,582.7 1612.6,589.9 1616.6,592.6 1619.9,594.0 1622.8,594.7 1625.4,594.9 1627.8,594.8 1630.1,594.4 1632.3,593.6 1634.4,592.5 1636.3,591.0 1638.2,589.0 1639.9,586.2 1641.2,581.9 1641.7,573.3 1644.4,573.0 1647.0,572.7 1649.7,572.5 1652.4,572.4 1655.1,572.3 1657.8,572.3 1660.6,572.3 1664.1,579.7 1667.0,584.3 1669.7,587.1 1672.3,589.0 1674.8,590.3 1677.2,591.2 1679.7,591.8 1682.1,592.1 1684.5,592.1 1687.0,591.6 1689.5,590.7 1692.2,589.2 1695.1,586.5 1698.9,577.9 1701.6,578.7 1704.3,579.6 1707.0,580.4 1709.7,581.4 1712.4,582.4 1715.1,583.4 1717.7,584.5 1719.0,590.4 1719.8,596.7 1721.4,600.4 1723.1,603.2 1725.0,605.5 1727.0,607.4 1729.1,608.9 1731.3,610.2 1733.7,611.1 1736.3,611.8 1739.0,612.2 1742.1,612.0 1745.7,611.1 1751.1,607.6 1755.5,606.1 1757.9,607.8 1760.2,609.7 1762.5,611.5 1764.7,613.4 1767.0,615.3 1769.2,617.3 1771.3,619.3 1767.2,628.1 1767.1,632.2 1767.6,635.5 1768.5,638.3 1769.7,640.8 1771.2,643.0 1772.8,645.1 1774.7,646.9 1776.8,648.5 1779.3,650.0 1782.2,651.2 1785.9,651.9 1791.2,651.7 1798.1,650.9 1799.7,653.3 1801.3,655.8 1802.8,658.3 1804.3,660.9 1805.8,663.4 1807.2,666.0 1808.5,668.6 1802.3,674.3 1800.1,678.0 1799.2,681.2 1799.0,684.0 1799.1,686.7 1799.6,689.2 1800.3,691.6 1801.4,694.0 1802.8,696.3 1804.5,698.5 1806.8,700.7 1809.8,702.8 1814.3,704.8 1822.9,706.5 1823.5,709.3 1824.2,712.1 1824.7,714.9 1825.2,717.7 1825.7,720.5 1826.1,723.3 1826.5,726.1 1819.7,728.6 1815.5,731.0 1813.2,733.4 1811.6,735.8 1810.7,738.2 1810.1,740.5 1809.8,743.0 1809.9,745.4 1810.3,747.9 1811.1,750.5 1812.3,753.3 1814.2,756.2 1817.3,759.6 1826.3,764.7 1825.9,767.4 1825.5,770.1 1825.0,772.7 1824.4,775.4 1823.8,778.0 1823.2,780.6 1822.5,783.2 1816.8,783.6 1810.7,783.6 1807.2,784.6 1804.7,786.1 1802.7,787.7 1801.1,789.5 1799.9,791.4 1799.0,793.5 1798.3,795.8 1798.0,798.4 1798.0,801.1 1798.6,804.3 1800.0,808.2 1804.3,814.2 1806.4,819.0 1805.0,821.2 1803.5,823.3 1802.0,825.4 1800.4,827.4 1798.8,829.5 1797.2,831.4 1795.5,833.4 1786.2,827.9 1782.1,827.2 1778.9,827.3 1776.3,827.8 1774.0,828.7 1772.0,829.9 1770.2,831.3 1768.7,833.0 1767.3,834.9 1766.3,837.3 1765.5,840.1 1765.2,843.7 1766.2,849.3 1768.0,856.4 1765.8,857.8 1763.6,859.0 1761.3,860.3 1759.0,861.5 1756.7,862.6 1754.3,863.7 1751.9,864.7 1745.4,857.5 1741.4,854.8 1738.2,853.4 1735.3,852.7 1732.7,852.4 1730.2,852.6 1727.9,853.0 1725.8,853.8 1723.7,854.9 1721.7,856.4 1719.9,858.4 1718.2,861.2 1716.8,865.5 1716.4,874.1 1713.7,874.4 1711.0,874.7 1708.3,874.8 1705.6,875.0 1702.9,875.1 1700.2,875.1 1697.5,875.1 1694.0,867.7 1691.0,863.1 1688.3,860.3 1685.8,858.4 1683.3,857.1 1680.8,856.1 1678.4,855.5 1676.0,855.3 1673.5,855.3 1671.1,855.8 1668.5,856.6 1665.9,858.2 1663.0,860.9 1659.2,869.4 1656.4,868.7 1653.7,867.8 1651.0,866.9 1648.3,866.0 1645.7,865.0 1643.0,864.0 1640.3,862.9 1639.1,857.0 1638.2,850.7 1636.7,847.0 1635.0,844.2 1633.1,841.9 1631.1,840.0 1629.0,838.5 1626.7,837.2 1624.4,836.2 1621.8,835.6 1619.1,835.2 1616.0,835.3 1612.3,836.3 1607.0,839.8 1602.5,841.3 1600.2,839.6 1597.9,837.7 1595.6,835.9 1593.3,834.0 1591.1,832.0 1588.9,830.1 1586.7,828.1 1590.8,819.3 1591.0,815.1 1590.4,811.9 1589.5,809.1 1588.3,806.6 1586.9,804.3 1585.3,802.3 1583.4,800.5 1581.2,798.9 1578.8,797.4 1575.8,796.2 1572.2,795.4 1566.9,795.6 1560.0,796.5 1558.4,794.1 1556.8,791.6 1555.3,789.1 1553.8,786.5 1552.3,784.0 1550.9,781.4 1549.5,778.8 1555.8,773.1 1557.9,769.4 1558.8,766.2 1559.1,763.4 1559.0,760.7 1558.5,758.2 1557.7,755.8 1556.7,753.4 1555.3,751.1 1553.5,748.9 1551.3,746.7 1548.3,744.6 1543.8,742.6 1535.2,740.9 1534.5,738.1 1533.9,735.3 1533.3,732.5 1532.8,729.7 1532.4,726.9 1531.9,724.1 1531.6,721.3 1538.4,718.8 1542.6,716.4 1544.9,714.0 1546.4,711.6 1547.4,709.2 1548.0,706.8 1548.2,704.4 1548.2,702.0 1547.8,699.5 1547.0,696.9 1545.8,694.1 1543.9,691.2 1540.8,687.8 1531.8,682.7 1532.1,680.0 1532.6,677.3 1533.1,674.7 1533.6,672.0 1534.2,669.4 1534.9,666.8 1535.6,664.2 1541.2,663.8 1547.4,663.8 1550.9,662.7 1553.4,661.3 1555.4,659.7 1557.0,657.9 1558.2,656.0 1559.1,653.8 1559.8,651.5 1560.1,649.0 1560.0,646.2 1559.5,643.1 1558.0,639.2 1553.8,633.1 1551.6,628.4 1553.1,626.2 1554.5,624.1 1556.1,622.0 1557.6,620.0 1559.2,617.9 1560.9,615.9 1562.6,614.0 1571.8,619.4 1576.0,620.2 1579.1,620.1 1581.8,619.5 1584.1,618.7" fill="#9c9c9c"/>
<polygon points="1583.6,619.3 1585.4,617.8 1586.9,616.2 1588.3,614.2 1589.4,611.8 1590.1,609.0 1590.4,605.4 1589.4,599.8 1587.6,592.6 1589.8,591.3 1592.1,590.0 1594.3,588.8 1596.6,587.6 1599.0,586.5 1601.3,585.4 1603.7,584.3 1610.2,591.6 1614.2,594.3 1617.5,595.7 1620.4,596.4 1623.0,596.6 1625.4,596.5 1627.7,596.1 1629.9,595.3 1632.0,594.2 1634.0,592.7 1635.8,590.7 1637.5,587.9 1638.9,583.5 1639.3,574.9 1642.0,574.6 1644.7,574.4 1647.4,574.2 1650.1,574.1 1652.8,574.0 1655.5,574.0 1658.2,574.0 1661.7,581.4 1664.7,586.0 1667.4,588.7 1670.0,590.6 1672.5,592.0 1674.9,592.9 1677.3,593.5 1679.8,593.8 1682.2,593.8 1684.7,593.3 1687.2,592.4 1689.9,590.9 1692.8,588.2 1696.6,579.6 1699.3,580.4 1702.0,581.2 1704.7,582.1 1707.4,583.1 1710.1,584.0 1712.8,585.1 1715.5,586.1 1716.7,592.1 1717.6,598.4 1719.1,602.1 1720.8,604.9 1722.7,607.2 1724.7,609.1 1726.9,610.6 1729.1,611.9 1731.5,612.9 1734.0,613.6 1736.8,613.9 1739.8,613.8 1743.5,612.9 1748.9,609.3 1753.3,607.8 1755.7,609.6 1758.0,611.4 1760.3,613.2 1762.5,615.1 1764.8,617.1 1767.0,619.1 1769.1,621.1 1765.0,629.9 1764.9,634.0 1765.4,637.3 1766.3,640.1 1767.5,642.6 1769.0,644.8 1770.6,646.8 1772.5,648.7 1774.6,650.3 1777.1,651.8 1780.0,652.9 1783.7,653.7 1789.0,653.5 1795.9,652.6 1797.5,655.1 1799.1,657.6 1800.6,660.1 1802.1,662.7 1803.6,665.2 1805.0,667.8 1806.4,670.4 1800.1,676.1 1798.0,679.8 1797.1,683.0 1796.8,685.8 1796.9,688.5 1797.4,691.0 1798.2,693.5 1799.2,695.8 1800.6,698.1 1802.4,700.3 1804.6,702.5 1807.6,704.7 1812.2,706.7 1820.7,708.4 1821.4,711.2 1822.0,714.0 1822.6,716.7 1823.1,719.5 1823.6,722.3 1824.0,725.1 1824.4,727.9 1817.5,730.5 1813.3,732.9 1811.0,735.3 1809.5,737.7 1808.5,740.1 1807.9,742.4 1807.7,744.9 1807.7,747.3 1808.1,749.8 1808.9,752.4 1810.2,755.2 1812.0,758.2 1815.2,761.5 1824.2,766.7 1823.8,769.3 1823.3,772.0 1822.9,774.7 1822.3,777.3 1821.7,779.9 1821.1,782.6 1820.4,785.1 1814.7,785.6 1808.5,785.6 1805.1,786.6 1802.5,788.0 1800.5,789.6 1799.0,791.4 1797.7,793.4 1796.8,795.5 1796.1,797.8 1795.8,800.3 1795.9,803.1 1796.4,806.3 1797.9,810.2 1802.1,816.2 1804.3,821.0 1802.9,823.2 1801.4,825.3 1799.8,827.4 1798.3,829.5 1796.7,831.5 1795.0,833.5 1793.3,835.4 1784.0,830.0 1779.9,829.2 1776.7,829.3 1774.1,829.9 1771.8,830.7 1769.8,831.9 1768.0,833.3 1766.5,835.0 1765.1,837.0 1764.0,839.3 1763.3,842.2 1763.0,845.8 1764.0,851.3 1765.8,858.5 1763.6,859.8 1761.3,861.1 1759.1,862.3 1756.8,863.5 1754.4,864.7 1752.1,865.8 1749.7,866.8 1743.2,859.5 1739.2,856.8 1735.9,855.4 1733.0,854.7 1730.4,854.5 1728.0,854.6 1725.7,855.1 1723.5,855.9 1721.4,857.0 1719.4,858.5 1717.6,860.5 1715.9,863.2 1714.5,867.6 1714.1,876.2 1711.4,876.5 1708.7,876.8 1706.0,876.9 1703.3,877.1 1700.6,877.2 1697.9,877.2 1695.2,877.2 1691.7,869.8 1688.7,865.1 1686.0,862.4 1683.4,860.5 1680.9,859.2 1678.5,858.2 1676.1,857.6 1673.6,857.3 1671.2,857.4 1668.7,857.8 1666.2,858.7 1663.5,860.2 1660.6,863.0 1656.8,871.5 1654.1,870.7 1651.4,869.9 1648.7,869.0 1646.0,868.1 1643.3,867.1 1640.6,866.1 1637.9,865.0 1636.7,859.1 1635.8,852.8 1634.3,849.0 1632.6,846.2 1630.7,843.9 1628.7,842.1 1626.5,840.5 1624.3,839.3 1621.9,838.3 1619.4,837.6 1616.6,837.3 1613.6,837.4 1609.9,838.3 1604.5,841.8 1600.1,843.4 1597.7,841.6 1595.4,839.8 1593.1,837.9 1590.9,836.0 1588.6,834.1 1586.4,832.1 1584.3,830.1 1588.4,821.3 1588.5,817.1 1588.0,813.9 1587.1,811.1 1585.9,808.6 1584.4,806.3 1582.8,804.3 1580.9,802.5 1578.8,800.8 1576.3,799.4 1573.4,798.2 1569.7,797.4 1564.4,797.6 1557.5,798.5 1555.9,796.0 1554.3,793.5 1552.8,791.0 1551.3,788.5 1549.8,785.9 1548.4,783.3 1547.0,780.7 1553.3,775.1 1555.4,771.3 1556.3,768.2 1556.6,765.3 1556.5,762.7 1556.0,760.1 1555.2,757.7 1554.2,755.3 1552.8,753.0 1551.0,750.8 1548.8,748.6 1545.8,746.5 1541.2,744.5 1532.7,742.8 1532.0,740.0 1531.4,737.2 1530.8,734.4 1530.3,731.6 1529.8,728.8 1529.4,726.0 1529.0,723.2 1535.9,720.6 1540.1,718.2 1542.4,715.8 1543.9,713.5 1544.9,711.1 1545.5,708.7 1545.7,706.3 1545.7,703.8 1545.3,701.3 1544.5,698.7 1543.2,696.0 1541.4,693.0 1538.2,689.6 1529.2,684.5 1529.6,681.8 1530.1,679.1 1530.5,676.5 1531.1,673.8 1531.7,671.2 1532.3,668.6 1533.0,666.0 1538.7,665.6 1544.9,665.6 1548.3,664.5 1550.9,663.1 1552.9,661.5 1554.4,659.7 1555.7,657.7 1556.6,655.6 1557.3,653.3 1557.6,650.8 1557.5,648.0 1557.0,644.8 1555.5,640.9 1551.3,634.9 1549.1,630.1 1550.5,628.0 1552.0,625.8 1553.6,623.7 1555.1,621.7 1556.7,619.7 1558.4,617.7 1560.1,615.7 1569.4,621.2 1573.5,621.9 1576.7,621.8 1579.3,621.3 1581.6,620.4" fill="#9c9c9c"/>
<polygon points="1581.2,621.0 1582.9,619.6 1584.5,617.9 1585.8,615.9 1586.9,613.6 1587.7,610.7 1587.9,607.1 1587.0,601.5 1585.1,594.3 1587.3,593.0 1589.6,591.7 1591.9,590.5 1594.2,589.3 1596.5,588.2 1598.9,587.1 1601.3,586.0 1607.8,593.3 1611.8,596.0 1615.1,597.4 1617.9,598.1 1620.6,598.3 1623.0,598.2 1625.3,597.8 1627.5,597.0 1629.6,595.9 1631.6,594.4 1633.4,592.4 1635.1,589.6 1636.5,585.2 1636.9,576.6 1639.6,576.3 1642.3,576.1 1645.0,575.9 1647.7,575.7 1650.4,575.7 1653.1,575.6 1655.9,575.6 1659.3,583.0 1662.3,587.7 1665.1,590.4 1667.6,592.3 1670.1,593.7 1672.6,594.6 1675.0,595.2 1677.4,595.5 1679.9,595.4 1682.4,595.0 1684.9,594.1 1687.6,592.6 1690.5,589.9 1694.3,581.3 1697.0,582.1 1699.7,582.9 1702.5,583.8 1705.2,584.7 1707.8,585.7 1710.5,586.7 1713.2,587.8 1714.4,593.7 1715.3,600.1 1716.8,603.8 1718.6,606.7 1720.5,608.9 1722.5,610.8 1724.6,612.3 1726.8,613.6 1729.2,614.6 1731.7,615.3 1734.5,615.6 1737.6,615.5 1741.2,614.6 1746.6,611.1 1751.1,609.5 1753.4,611.3 1755.7,613.1 1758.0,615.0 1760.3,616.9 1762.5,618.8 1764.7,620.8 1766.9,622.8 1762.8,631.6 1762.7,635.8 1763.2,639.0 1764.1,641.9 1765.3,644.3 1766.8,646.6 1768.4,648.6 1770.3,650.4 1772.4,652.1 1774.9,653.5 1777.8,654.7 1781.5,655.5 1786.9,655.3 1793.7,654.4 1795.4,656.9 1796.9,659.4 1798.5,661.9 1800.0,664.5 1801.5,667.0 1802.9,669.6 1804.2,672.2 1797.9,677.9 1795.8,681.6 1794.9,684.8 1794.6,687.7 1794.8,690.3 1795.2,692.9 1796.0,695.3 1797.1,697.7 1798.5,699.9 1800.2,702.2 1802.5,704.4 1805.5,706.5 1810.0,708.5 1818.6,710.2 1819.3,713.0 1819.9,715.8 1820.5,718.6 1821.0,721.4 1821.5,724.2 1821.9,727.0 1822.2,729.8 1815.4,732.4 1811.2,734.8 1808.9,737.2 1807.4,739.6 1806.4,742.0 1805.8,744.4 1805.5,746.8 1805.6,749.2 1806.0,751.7 1806.8,754.4 1808.0,757.1 1809.9,760.1 1813.0,763.5 1822.1,768.6 1821.7,771.3 1821.2,774.0 1820.7,776.6 1820.2,779.3 1819.6,781.9 1818.9,784.5 1818.3,787.1 1812.6,787.5 1806.4,787.5 1802.9,788.6 1800.4,790.0 1798.4,791.6 1796.8,793.4 1795.6,795.4 1794.6,797.5 1794.0,799.8 1793.7,802.3 1793.7,805.1 1794.3,808.3 1795.7,812.2 1800.0,818.3 1802.1,823.0 1800.7,825.2 1799.2,827.3 1797.7,829.4 1796.1,831.5 1794.5,833.5 1792.9,835.5 1791.2,837.5 1781.9,832.0 1777.7,831.3 1774.6,831.4 1771.9,831.9 1769.6,832.8 1767.6,833.9 1765.8,835.3 1764.2,837.0 1762.9,839.0 1761.8,841.4 1761.1,844.2 1760.8,847.8 1761.8,853.4 1763.6,860.6 1761.4,861.9 1759.1,863.2 1756.9,864.4 1754.5,865.6 1752.2,866.7 1749.9,867.8 1747.5,868.9 1740.9,861.6 1736.9,858.9 1733.7,857.5 1730.8,856.8 1728.2,856.6 1725.7,856.7 1723.4,857.1 1721.2,857.9 1719.1,859.0 1717.2,860.5 1715.3,862.5 1713.6,865.3 1712.3,869.7 1711.8,878.3 1709.1,878.6 1706.4,878.8 1703.8,879.0 1701.0,879.2 1698.3,879.3 1695.6,879.3 1692.9,879.3 1689.4,871.9 1686.4,867.2 1683.7,864.5 1681.1,862.6 1678.6,861.2 1676.2,860.3 1673.7,859.7 1671.3,859.4 1668.9,859.5 1666.4,859.9 1663.8,860.8 1661.2,862.3 1658.3,865.0 1654.4,873.6 1651.7,872.8 1649.0,872.0 1646.3,871.1 1643.6,870.2 1640.9,869.2 1638.2,868.2 1635.5,867.1 1634.3,861.2 1633.5,854.8 1631.9,851.1 1630.2,848.3 1628.3,846.0 1626.3,844.1 1624.1,842.6 1621.9,841.3 1619.5,840.3 1617.0,839.6 1614.2,839.3 1611.1,839.4 1607.5,840.3 1602.1,843.9 1597.7,845.4 1595.3,843.6 1593.0,841.8 1590.7,840.0 1588.4,838.0 1586.2,836.1 1584.0,834.1 1581.8,832.1 1585.9,823.3 1586.1,819.2 1585.5,815.9 1584.6,813.1 1583.4,810.6 1582.0,808.3 1580.3,806.3 1578.4,804.5 1576.3,802.8 1573.8,801.4 1570.9,800.2 1567.2,799.4 1561.9,799.6 1555.0,800.5 1553.4,798.0 1551.8,795.5 1550.2,793.0 1548.7,790.5 1547.3,787.9 1545.9,785.3 1544.5,782.7 1550.8,777.0 1552.9,773.3 1553.8,770.1 1554.1,767.3 1554.0,764.6 1553.5,762.0 1552.7,759.6 1551.7,757.3 1550.3,755.0 1548.5,752.7 1546.2,750.5 1543.2,748.4 1538.7,746.4 1530.1,744.7 1529.4,741.9 1528.8,739.1 1528.3,736.3 1527.7,733.5 1527.3,730.7 1526.9,727.9 1526.5,725.1 1533.3,722.5 1537.5,720.1 1539.9,717.7 1541.4,715.3 1542.4,712.9 1543.0,710.6 1543.2,708.1 1543.1,705.7 1542.7,703.2 1542.0,700.5 1540.7,697.8 1538.8,694.8 1535.7,691.5 1526.7,686.3 1527.1,683.6 1527.5,680.9 1528.0,678.3 1528.6,675.6 1529.1,673.0 1529.8,670.4 1530.5,667.8 1536.2,667.4 1542.3,667.4 1545.8,666.3 1548.4,664.9 1550.4,663.3 1551.9,661.5 1553.2,659.5 1554.1,657.4 1554.7,655.1 1555.1,652.6 1555.0,649.8 1554.5,646.6 1553.0,642.7 1548.8,636.7 1546.6,631.9 1548.0,629.7 1549.5,627.6 1551.0,625.5 1552.6,623.4 1554.2,621.4 1555.9,619.4 1557.6,617.5 1566.9,622.9 1571.0,623.6 1574.2,623.6 1576.8,623.0 1579.1,622.1" fill="#9c9c9c"/>
<polygon points="1578.7,622.7 1580.5,621.3 1582.0,619.6 1583.4,617.6 1584.4,615.3 1585.2,612.4 1585.5,608.8 1584.5,603.2 1582.7,596.0 1584.9,594.7 1587.1,593.4 1589.4,592.2 1591.7,591.0 1594.1,589.9 1596.4,588.8 1598.8,587.7 1605.4,595.0 1609.4,597.7 1612.6,599.1 1615.5,599.8 1618.2,600.0 1620.6,599.9 1622.9,599.5 1625.1,598.7 1627.2,597.6 1629.2,596.1 1631.0,594.1 1632.7,591.3 1634.1,586.9 1634.5,578.3 1637.2,578.0 1639.9,577.7 1642.6,577.5 1645.3,577.4 1648.0,577.3 1650.8,577.3 1653.5,577.3 1657.0,584.7 1660.0,589.4 1662.7,592.1 1665.3,594.0 1667.8,595.4 1670.2,596.3 1672.7,596.9 1675.1,597.2 1677.5,597.1 1680.0,596.7 1682.6,595.8 1685.3,594.3 1688.2,591.6 1692.0,583.0 1694.7,583.8 1697.4,584.6 1700.2,585.5 1702.9,586.4 1705.6,587.4 1708.2,588.4 1710.9,589.5 1712.1,595.4 1713.0,601.8 1714.5,605.5 1716.3,608.4 1718.2,610.6 1720.2,612.5 1722.3,614.1 1724.6,615.3 1726.9,616.3 1729.5,617.0 1732.3,617.3 1735.4,617.2 1739.0,616.3 1744.4,612.8 1748.9,611.2 1751.2,613.0 1753.5,614.8 1755.8,616.7 1758.1,618.6 1760.3,620.5 1762.5,622.5 1764.7,624.5 1760.6,633.4 1760.5,637.5 1761.0,640.8 1761.9,643.6 1763.1,646.1 1764.5,648.3 1766.2,650.4 1768.1,652.2 1770.2,653.9 1772.7,655.3 1775.7,656.5 1779.3,657.3 1784.7,657.1 1791.6,656.2 1793.2,658.7 1794.8,661.2 1796.3,663.7 1797.8,666.2 1799.3,668.8 1800.7,671.4 1802.1,674.0 1795.8,679.7 1793.7,683.4 1792.7,686.6 1792.5,689.5 1792.6,692.2 1793.1,694.7 1793.8,697.1 1794.9,699.5 1796.3,701.8 1798.1,704.0 1800.3,706.2 1803.3,708.4 1807.9,710.4 1816.5,712.1 1817.2,714.9 1817.8,717.7 1818.3,720.5 1818.9,723.3 1819.3,726.1 1819.7,728.9 1820.1,731.7 1813.3,734.3 1809.1,736.7 1806.7,739.1 1805.2,741.5 1804.2,743.9 1803.6,746.3 1803.4,748.7 1803.4,751.1 1803.8,753.7 1804.6,756.3 1805.9,759.0 1807.8,762.0 1810.9,765.4 1819.9,770.5 1819.5,773.2 1819.1,775.9 1818.6,778.6 1818.1,781.2 1817.5,783.9 1816.8,786.5 1816.1,789.1 1810.4,789.5 1804.2,789.5 1800.7,790.5 1798.2,792.0 1796.2,793.6 1794.6,795.4 1793.4,797.4 1792.5,799.5 1791.8,801.8 1791.5,804.3 1791.6,807.1 1792.1,810.3 1793.5,814.2 1797.8,820.3 1800.0,825.1 1798.5,827.2 1797.1,829.4 1795.5,831.5 1794.0,833.5 1792.3,835.5 1790.7,837.5 1789.0,839.5 1779.7,834.0 1775.5,833.3 1772.4,833.4 1769.7,833.9 1767.4,834.8 1765.4,836.0 1763.6,837.4 1762.0,839.1 1760.7,841.0 1759.6,843.4 1758.9,846.2 1758.6,849.9 1759.6,855.4 1761.4,862.6 1759.2,864.0 1756.9,865.3 1754.6,866.5 1752.3,867.7 1750.0,868.8 1747.6,869.9 1745.2,871.0 1738.7,863.7 1734.7,861.0 1731.4,859.6 1728.5,858.9 1725.9,858.6 1723.5,858.8 1721.1,859.2 1719.0,860.0 1716.9,861.1 1714.9,862.6 1713.0,864.6 1711.3,867.4 1710.0,871.8 1709.5,880.4 1706.8,880.7 1704.2,880.9 1701.5,881.1 1698.8,881.3 1696.0,881.4 1693.3,881.4 1690.6,881.4 1687.1,874.0 1684.1,869.3 1681.4,866.5 1678.8,864.6 1676.3,863.3 1673.8,862.3 1671.4,861.7 1669.0,861.5 1666.5,861.5 1664.0,862.0 1661.5,862.8 1658.8,864.4 1655.9,867.1 1652.1,875.7 1649.3,874.9 1646.6,874.1 1643.9,873.2 1641.2,872.3 1638.5,871.3 1635.8,870.2 1633.2,869.2 1631.9,863.2 1631.1,856.9 1629.5,853.1 1627.8,850.3 1625.9,848.0 1623.9,846.2 1621.7,844.6 1619.5,843.3 1617.1,842.4 1614.6,841.7 1611.8,841.3 1608.7,841.5 1605.1,842.4 1599.7,845.9 1595.2,847.5 1592.9,845.7 1590.5,843.9 1588.2,842.0 1586.0,840.1 1583.7,838.1 1581.5,836.2 1579.3,834.1 1583.5,825.3 1583.6,821.2 1583.1,817.9 1582.1,815.1 1580.9,812.6 1579.5,810.3 1577.9,808.3 1576.0,806.5 1573.8,804.8 1571.3,803.4 1568.4,802.2 1564.8,801.4 1559.4,801.6 1552.5,802.5 1550.9,800.0 1549.3,797.5 1547.7,795.0 1546.2,792.4 1544.8,789.9 1543.4,787.3 1542.0,784.7 1548.3,779.0 1550.4,775.2 1551.3,772.1 1551.6,769.2 1551.5,766.5 1551.0,764.0 1550.2,761.5 1549.2,759.2 1547.8,756.9 1546.0,754.6 1543.7,752.4 1540.7,750.3 1536.2,748.3 1527.6,746.6 1526.9,743.8 1526.3,741.0 1525.7,738.2 1525.2,735.4 1524.7,732.6 1524.3,729.8 1523.9,727.0 1530.8,724.4 1535.0,722.0 1537.3,719.6 1538.9,717.2 1539.9,714.8 1540.4,712.4 1540.7,710.0 1540.6,707.5 1540.2,705.0 1539.4,702.4 1538.2,699.6 1536.3,696.7 1533.2,693.3 1524.1,688.1 1524.5,685.4 1525.0,682.8 1525.5,680.1 1526.0,677.4 1526.6,674.8 1527.3,672.2 1527.9,669.6 1533.6,669.2 1539.8,669.2 1543.3,668.1 1545.9,666.7 1547.9,665.1 1549.4,663.3 1550.7,661.3 1551.6,659.2 1552.2,656.9 1552.6,654.4 1552.5,651.6 1552.0,648.4 1550.5,644.5 1546.3,638.4 1544.1,633.6 1545.5,631.5 1547.0,629.3 1548.5,627.2 1550.1,625.2 1551.7,623.1 1553.4,621.1 1555.1,619.2 1564.4,624.7 1568.5,625.4 1571.7,625.3 1574.4,624.7 1576.7,623.9" fill="#9c9c9c"/>
<polygon points="1576.2,624.4 1578.0,623.0 1579.6,621.3 1580.9,619.4 1582.0,617.0 1582.7,614.1 1583.0,610.5 1582.1,604.9 1580.2,597.7 1582.4,596.4 1584.7,595.1 1587.0,593.9 1589.3,592.7 1591.6,591.5 1594.0,590.4 1596.4,589.4 1602.9,596.7 1607.0,599.4 1610.2,600.8 1613.1,601.5 1615.8,601.7 1618.2,601.6 1620.5,601.2 1622.7,600.4 1624.8,599.3 1626.8,597.8 1628.6,595.8 1630.3,593.0 1631.7,588.6 1632.2,579.9 1634.8,579.6 1637.5,579.4 1640.2,579.2 1642.9,579.1 1645.7,579.0 1648.4,579.0 1651.1,579.0 1654.6,586.4 1657.6,591.1 1660.4,593.8 1662.9,595.7 1665.4,597.1 1667.9,598.0 1670.3,598.6 1672.8,598.9 1675.2,598.8 1677.7,598.4 1680.3,597.5 1683.0,596.0 1685.9,593.2 1689.7,584.6 1692.4,585.4 1695.1,586.3 1697.9,587.2 1700.6,588.1 1703.3,589.1 1706.0,590.1 1708.6,591.2 1709.8,597.1 1710.7,603.5 1712.3,607.2 1714.0,610.1 1715.9,612.4 1717.9,614.2 1720.1,615.8 1722.3,617.0 1724.7,618.0 1727.2,618.7 1730.0,619.1 1733.1,618.9 1736.8,618.0 1742.2,614.5 1746.6,612.9 1749.0,614.7 1751.3,616.5 1753.6,618.4 1755.9,620.3 1758.1,622.3 1760.3,624.2 1762.5,626.3 1758.4,635.1 1758.3,639.3 1758.8,642.6 1759.7,645.4 1760.9,647.9 1762.3,650.1 1764.0,652.1 1765.9,654.0 1768.1,655.6 1770.5,657.1 1773.5,658.3 1777.1,659.1 1782.5,658.9 1789.4,658.0 1791.0,660.5 1792.6,663.0 1794.2,665.5 1795.7,668.0 1797.1,670.6 1798.6,673.2 1799.9,675.8 1793.6,681.5 1791.5,685.3 1790.6,688.4 1790.3,691.3 1790.4,694.0 1790.9,696.5 1791.7,699.0 1792.7,701.3 1794.1,703.6 1795.9,705.9 1798.2,708.1 1801.2,710.2 1805.7,712.3 1814.4,713.9 1815.0,716.7 1815.6,719.5 1816.2,722.4 1816.7,725.2 1817.2,728.0 1817.6,730.8 1818.0,733.6 1811.1,736.2 1806.9,738.6 1804.6,741.0 1803.1,743.4 1802.1,745.8 1801.5,748.2 1801.2,750.6 1801.3,753.0 1801.7,755.6 1802.5,758.2 1803.7,761.0 1805.6,763.9 1808.7,767.3 1817.8,772.5 1817.4,775.2 1817.0,777.9 1816.5,780.5 1815.9,783.2 1815.3,785.8 1814.7,788.4 1814.0,791.0 1808.3,791.5 1802.1,791.5 1798.6,792.5 1796.0,793.9 1794.0,795.6 1792.5,797.4 1791.2,799.3 1790.3,801.5 1789.7,803.8 1789.3,806.3 1789.4,809.1 1789.9,812.3 1791.4,816.2 1795.6,822.3 1797.8,827.1 1796.4,829.2 1794.9,831.4 1793.4,833.5 1791.8,835.5 1790.2,837.6 1788.5,839.6 1786.8,841.5 1777.5,836.0 1773.4,835.3 1770.2,835.4 1767.5,836.0 1765.2,836.8 1763.2,838.0 1761.4,839.4 1759.8,841.1 1758.5,843.1 1757.4,845.4 1756.7,848.3 1756.4,851.9 1757.3,857.5 1759.2,864.7 1757.0,866.0 1754.7,867.3 1752.4,868.6 1750.1,869.8 1747.8,870.9 1745.4,872.0 1743.0,873.0 1736.5,865.7 1732.4,863.0 1729.2,861.6 1726.3,860.9 1723.6,860.7 1721.2,860.8 1718.9,861.3 1716.7,862.0 1714.6,863.2 1712.6,864.7 1710.8,866.7 1709.1,869.5 1707.7,873.9 1707.2,882.5 1704.6,882.8 1701.9,883.0 1699.2,883.2 1696.5,883.4 1693.7,883.4 1691.0,883.5 1688.3,883.5 1684.8,876.0 1681.8,871.4 1679.0,868.6 1676.5,866.7 1674.0,865.4 1671.5,864.4 1669.1,863.8 1666.6,863.5 1664.2,863.6 1661.7,864.0 1659.1,864.9 1656.4,866.4 1653.5,869.2 1649.7,877.8 1647.0,877.0 1644.3,876.2 1641.5,875.3 1638.8,874.3 1636.1,873.4 1633.4,872.3 1630.8,871.2 1629.6,865.3 1628.7,858.9 1627.1,855.2 1625.4,852.4 1623.5,850.1 1621.5,848.2 1619.3,846.6 1617.1,845.4 1614.7,844.4 1612.2,843.7 1609.4,843.4 1606.3,843.5 1602.6,844.4 1597.2,847.9 1592.8,849.5 1590.4,847.7 1588.1,845.9 1585.8,844.0 1583.5,842.1 1581.3,840.2 1579.1,838.2 1576.9,836.2 1581.0,827.3 1581.1,823.2 1580.6,819.9 1579.7,817.1 1578.5,814.6 1577.1,812.3 1575.4,810.3 1573.5,808.4 1571.3,806.8 1568.9,805.3 1565.9,804.2 1562.3,803.4 1556.9,803.6 1550.0,804.5 1548.4,802.0 1546.8,799.5 1545.2,796.9 1543.7,794.4 1542.3,791.8 1540.8,789.2 1539.5,786.6 1545.8,780.9 1547.9,777.2 1548.8,774.0 1549.1,771.1 1549.0,768.5 1548.5,765.9 1547.7,763.5 1546.7,761.1 1545.3,758.8 1543.5,756.6 1541.2,754.4 1538.2,752.2 1533.7,750.2 1525.0,748.5 1524.4,745.7 1523.8,742.9 1523.2,740.1 1522.7,737.3 1522.2,734.5 1521.8,731.6 1521.4,728.8 1528.3,726.3 1532.5,723.8 1534.8,721.4 1536.3,719.0 1537.3,716.7 1537.9,714.3 1538.2,711.9 1538.1,709.4 1537.7,706.9 1536.9,704.2 1535.7,701.5 1533.8,698.5 1530.7,695.1 1521.6,690.0 1522.0,687.3 1522.4,684.6 1522.9,681.9 1523.5,679.2 1524.1,676.6 1524.7,674.0 1525.4,671.4 1531.1,671.0 1537.3,671.0 1540.8,669.9 1543.4,668.5 1545.4,666.9 1546.9,665.1 1548.2,663.1 1549.1,661.0 1549.7,658.7 1550.1,656.1 1550.0,653.3 1549.5,650.1 1548.0,646.2 1543.8,640.2 1541.6,635.4 1543.0,633.2 1544.5,631.1 1546.0,629.0 1547.6,626.9 1549.2,624.9 1550.9,622.9 1552.6,620.9 1561.9,626.4 1566.0,627.1 1569.2,627.0 1571.9,626.5 1574.2,625.6" fill="#9c9c9c"/>
<polygon points="1573.8,626.2 1575.5,624.8 1577.1,623.1 1578.4,621.1 1579.5,618.7 1580.3,615.9 1580.6,612.2 1579.6,606.6 1577.8,599.4 1580.0,598.1 1582.2,596.8 1584.5,595.6 1586.8,594.4 1589.2,593.2 1591.6,592.1 1594.0,591.1 1600.5,598.4 1604.5,601.1 1607.8,602.5 1610.7,603.2 1613.3,603.4 1615.8,603.3 1618.1,602.9 1620.3,602.1 1622.4,601.0 1624.4,599.5 1626.2,597.4 1627.9,594.6 1629.3,590.3 1629.8,581.6 1632.5,581.3 1635.2,581.1 1637.9,580.9 1640.6,580.7 1643.3,580.7 1646.0,580.6 1648.8,580.6 1652.3,588.1 1655.3,592.7 1658.0,595.5 1660.6,597.4 1663.1,598.8 1665.6,599.7 1668.0,600.3 1670.4,600.6 1672.9,600.5 1675.4,600.1 1678.0,599.2 1680.6,597.7 1683.5,594.9 1687.4,586.3 1690.1,587.1 1692.9,588.0 1695.6,588.8 1698.3,589.8 1701.0,590.8 1703.7,591.8 1706.3,592.9 1707.6,598.8 1708.4,605.2 1710.0,609.0 1711.8,611.8 1713.7,614.1 1715.7,615.9 1717.8,617.5 1720.0,618.8 1722.4,619.8 1725.0,620.4 1727.8,620.8 1730.9,620.7 1734.5,619.7 1740.0,616.2 1744.4,614.6 1746.8,616.4 1749.1,618.3 1751.4,620.1 1753.7,622.0 1755.9,624.0 1758.1,626.0 1760.3,628.0 1756.2,636.9 1756.1,641.0 1756.6,644.3 1757.5,647.1 1758.7,649.6 1760.1,651.9 1761.8,653.9 1763.7,655.8 1765.9,657.4 1768.3,658.9 1771.3,660.1 1774.9,660.8 1780.3,660.6 1787.2,659.8 1788.9,662.2 1790.5,664.7 1792.0,667.3 1793.5,669.8 1795.0,672.4 1796.4,675.0 1797.8,677.6 1791.5,683.3 1789.3,687.1 1788.4,690.3 1788.1,693.1 1788.3,695.8 1788.7,698.4 1789.5,700.8 1790.6,703.2 1792.0,705.5 1793.8,707.7 1796.0,709.9 1799.0,712.1 1803.6,714.1 1812.2,715.8 1812.9,718.6 1813.5,721.4 1814.1,724.2 1814.6,727.0 1815.1,729.8 1815.5,732.7 1815.9,735.5 1809.0,738.1 1804.8,740.5 1802.4,742.9 1800.9,745.3 1799.9,747.7 1799.3,750.1 1799.1,752.5 1799.1,755.0 1799.6,757.5 1800.3,760.1 1801.6,762.9 1803.5,765.9 1806.6,769.2 1815.7,774.4 1815.3,777.1 1814.8,779.8 1814.3,782.5 1813.8,785.1 1813.2,787.8 1812.6,790.4 1811.9,793.0 1806.1,793.4 1799.9,793.4 1796.4,794.5 1793.9,795.9 1791.9,797.5 1790.3,799.3 1789.1,801.3 1788.1,803.4 1787.5,805.8 1787.2,808.3 1787.2,811.1 1787.8,814.3 1789.2,818.2 1793.5,824.3 1795.7,829.1 1794.2,831.3 1792.7,833.4 1791.2,835.5 1789.6,837.6 1788.0,839.6 1786.4,841.6 1784.7,843.6 1775.3,838.1 1771.2,837.3 1768.0,837.4 1765.3,838.0 1763.0,838.9 1761.0,840.0 1759.2,841.4 1757.6,843.1 1756.3,845.1 1755.2,847.5 1754.4,850.3 1754.2,854.0 1755.1,859.6 1757.0,866.8 1754.8,868.1 1752.5,869.4 1750.2,870.6 1747.9,871.8 1745.5,873.0 1743.2,874.1 1740.8,875.1 1734.2,867.8 1730.2,865.1 1726.9,863.7 1724.0,863.0 1721.4,862.8 1718.9,862.9 1716.6,863.3 1714.4,864.1 1712.3,865.2 1710.4,866.7 1708.5,868.8 1706.8,871.5 1705.4,875.9 1705.0,884.6 1702.3,884.9 1699.6,885.1 1696.9,885.3 1694.2,885.5 1691.4,885.5 1688.7,885.6 1686.0,885.6 1682.4,878.1 1679.4,873.4 1676.7,870.7 1674.1,868.8 1671.6,867.4 1669.2,866.5 1666.7,865.9 1664.3,865.6 1661.8,865.7 1659.3,866.1 1656.8,867.0 1654.1,868.5 1651.2,871.3 1647.3,879.9 1644.6,879.1 1641.9,878.2 1639.2,877.4 1636.5,876.4 1633.7,875.4 1631.1,874.4 1628.4,873.3 1627.2,867.4 1626.3,861.0 1624.7,857.2 1623.0,854.4 1621.1,852.1 1619.1,850.2 1616.9,848.7 1614.7,847.4 1612.3,846.4 1609.7,845.7 1607.0,845.4 1603.9,845.5 1600.2,846.5 1594.8,850.0 1590.3,851.6 1588.0,849.8 1585.6,847.9 1583.3,846.1 1581.1,844.2 1578.8,842.2 1576.6,840.2 1574.4,838.2 1578.5,829.3 1578.7,825.2 1578.1,821.9 1577.2,819.1 1576.0,816.6 1574.6,814.3 1572.9,812.3 1571.0,810.4 1568.9,808.8 1566.4,807.3 1563.4,806.1 1559.8,805.4 1554.4,805.5 1547.5,806.4 1545.9,804.0 1544.3,801.4 1542.7,798.9 1541.2,796.4 1539.7,793.8 1538.3,791.2 1536.9,788.6 1543.3,782.9 1545.4,779.1 1546.3,775.9 1546.6,773.1 1546.5,770.4 1546.0,767.8 1545.2,765.4 1544.1,763.0 1542.7,760.7 1541.0,758.5 1538.7,756.3 1535.7,754.1 1531.1,752.1 1522.5,750.4 1521.8,747.6 1521.2,744.8 1520.6,742.0 1520.1,739.2 1519.7,736.3 1519.2,733.5 1518.9,730.7 1525.7,728.1 1529.9,725.7 1532.3,723.3 1533.8,720.9 1534.8,718.5 1535.4,716.1 1535.7,713.7 1535.6,711.2 1535.2,708.7 1534.4,706.1 1533.2,703.3 1531.3,700.3 1528.1,696.9 1519.1,691.8 1519.4,689.1 1519.9,686.4 1520.4,683.7 1520.9,681.1 1521.5,678.4 1522.2,675.8 1522.9,673.2 1528.6,672.8 1534.8,672.8 1538.3,671.7 1540.9,670.3 1542.8,668.7 1544.4,666.9 1545.7,664.9 1546.6,662.8 1547.2,660.4 1547.6,657.9 1547.5,655.1 1546.9,651.9 1545.5,648.0 1541.2,641.9 1539.1,637.1 1540.5,634.9 1542.0,632.8 1543.5,630.7 1545.1,628.6 1546.7,626.6 1548.4,624.6 1550.1,622.6 1559.4,628.1 1563.6,628.8 1566.8,628.8 1569.4,628.2 1571.7,627.3" fill="#9c9c9c"/>
<polygon points="1571.3,627.9 1573.1,626.5 1574.6,624.8 1576.0,622.8 1577.1,620.4 1577.8,617.6 1578.1,613.9 1577.1,608.3 1575.3,601.1 1577.5,599.8 1579.8,598.5 1582.1,597.2 1584.4,596.1 1586.8,594.9 1589.1,593.8 1591.5,592.8 1598.1,600.1 1602.1,602.8 1605.4,604.2 1608.3,604.9 1610.9,605.1 1613.4,605.0 1615.7,604.6 1617.9,603.8 1620.0,602.7 1622.0,601.2 1623.9,599.1 1625.6,596.3 1626.9,591.9 1627.4,583.3 1630.1,583.0 1632.8,582.7 1635.5,582.5 1638.2,582.4 1640.9,582.3 1643.7,582.3 1646.4,582.3 1649.9,589.7 1652.9,594.4 1655.7,597.2 1658.3,599.1 1660.8,600.5 1663.2,601.4 1665.7,602.0 1668.1,602.3 1670.6,602.2 1673.1,601.8 1675.6,600.9 1678.3,599.4 1681.2,596.6 1685.1,588.0 1687.8,588.8 1690.6,589.6 1693.3,590.5 1696.0,591.5 1698.7,592.4 1701.4,593.5 1704.1,594.6 1705.3,600.5 1706.2,606.9 1707.7,610.7 1709.5,613.5 1711.4,615.8 1713.4,617.7 1715.5,619.2 1717.8,620.5 1720.2,621.5 1722.7,622.2 1725.5,622.5 1728.6,622.4 1732.3,621.5 1737.7,617.9 1742.2,616.3 1744.5,618.1 1746.9,620.0 1749.2,621.8 1751.5,623.8 1753.7,625.7 1755.9,627.7 1758.1,629.7 1754.0,638.6 1753.8,642.8 1754.4,646.1 1755.3,648.9 1756.5,651.4 1757.9,653.6 1759.6,655.7 1761.5,657.5 1763.7,659.2 1766.2,660.6 1769.1,661.8 1772.8,662.6 1778.2,662.4 1785.1,661.5 1786.7,664.0 1788.3,666.5 1789.9,669.1 1791.4,671.6 1792.8,674.2 1794.3,676.8 1795.6,679.4 1789.3,685.1 1787.2,688.9 1786.3,692.1 1786.0,695.0 1786.1,697.6 1786.6,700.2 1787.3,702.6 1788.4,705.0 1789.8,707.3 1791.6,709.6 1793.9,711.8 1796.9,713.9 1801.4,716.0 1810.1,717.7 1810.8,720.5 1811.4,723.3 1812.0,726.1 1812.5,728.9 1813.0,731.7 1813.4,734.5 1813.7,737.4 1806.9,739.9 1802.6,742.4 1800.3,744.8 1798.8,747.2 1797.8,749.6 1797.2,752.0 1796.9,754.4 1797.0,756.9 1797.4,759.4 1798.2,762.0 1799.4,764.8 1801.3,767.8 1804.5,771.2 1813.6,776.3 1813.2,779.1 1812.7,781.8 1812.2,784.4 1811.7,787.1 1811.1,789.7 1810.4,792.4 1809.7,795.0 1804.0,795.4 1797.8,795.4 1794.3,796.4 1791.7,797.9 1789.7,799.5 1788.1,801.3 1786.9,803.3 1786.0,805.4 1785.3,807.7 1785.0,810.3 1785.1,813.1 1785.6,816.3 1787.0,820.2 1791.3,826.3 1793.5,831.1 1792.1,833.3 1790.6,835.4 1789.0,837.5 1787.5,839.6 1785.9,841.6 1784.2,843.6 1782.5,845.6 1773.1,840.1 1769.0,839.4 1765.8,839.5 1763.1,840.0 1760.8,840.9 1758.8,842.0 1757.0,843.5 1755.4,845.2 1754.1,847.2 1753.0,849.5 1752.2,852.4 1752.0,856.0 1752.9,861.6 1754.8,868.8 1752.5,870.2 1750.3,871.5 1748.0,872.7 1745.7,873.9 1743.3,875.0 1740.9,876.1 1738.5,877.2 1732.0,869.9 1727.9,867.1 1724.7,865.8 1721.8,865.1 1719.1,864.8 1716.7,864.9 1714.4,865.4 1712.2,866.2 1710.1,867.3 1708.1,868.8 1706.2,870.8 1704.5,873.6 1703.1,878.0 1702.7,886.7 1700.0,887.0 1697.3,887.2 1694.6,887.4 1691.9,887.5 1689.1,887.6 1686.4,887.7 1683.7,887.6 1680.1,880.2 1677.1,875.5 1674.4,872.8 1671.8,870.9 1669.3,869.5 1666.8,868.5 1664.4,867.9 1662.0,867.7 1659.5,867.7 1657.0,868.2 1654.4,869.0 1651.7,870.6 1648.8,873.3 1645.0,882.0 1642.2,881.2 1639.5,880.3 1636.8,879.4 1634.1,878.5 1631.4,877.5 1628.7,876.5 1626.0,875.4 1624.8,869.4 1623.9,863.1 1622.3,859.3 1620.6,856.5 1618.7,854.2 1616.7,852.3 1614.5,850.7 1612.3,849.5 1609.9,848.5 1607.3,847.8 1604.6,847.4 1601.4,847.6 1597.8,848.5 1592.3,852.0 1587.9,853.6 1585.5,851.8 1583.2,850.0 1580.9,848.1 1578.6,846.2 1576.4,844.2 1574.1,842.3 1572.0,840.2 1576.1,831.4 1576.2,827.2 1575.7,823.9 1574.8,821.1 1573.6,818.6 1572.1,816.3 1570.5,814.3 1568.6,812.4 1566.4,810.8 1563.9,809.3 1561.0,808.1 1557.3,807.3 1551.9,807.5 1545.0,808.4 1543.4,805.9 1541.8,803.4 1540.2,800.9 1538.7,798.3 1537.2,795.8 1535.8,793.2 1534.4,790.5 1540.8,784.8 1542.9,781.1 1543.8,777.9 1544.1,775.0 1544.0,772.3 1543.5,769.8 1542.7,767.3 1541.6,764.9 1540.2,762.6 1538.5,760.4 1536.2,758.2 1533.2,756.0 1528.6,754.0 1520.0,752.3 1519.3,749.5 1518.7,746.7 1518.1,743.9 1517.6,741.1 1517.1,738.2 1516.7,735.4 1516.3,732.6 1523.2,730.0 1527.4,727.6 1529.8,725.2 1531.3,722.8 1532.3,720.4 1532.9,718.0 1533.1,715.6 1533.1,713.1 1532.7,710.6 1531.9,707.9 1530.6,705.1 1528.7,702.2 1525.6,698.8 1516.5,693.6 1516.9,690.9 1517.4,688.2 1517.9,685.5 1518.4,682.9 1519.0,680.2 1519.6,677.6 1520.3,675.0 1526.1,674.6 1532.3,674.6 1535.8,673.5 1538.3,672.1 1540.3,670.5 1541.9,668.6 1543.2,666.7 1544.1,664.5 1544.7,662.2 1545.1,659.7 1545.0,656.9 1544.4,653.7 1543.0,649.8 1538.7,643.7 1536.5,638.9 1538.0,636.7 1539.5,634.5 1541.0,632.4 1542.6,630.4 1544.2,628.3 1545.9,626.3 1547.6,624.4 1556.9,629.9 1561.1,630.6 1564.3,630.5 1567.0,629.9 1569.3,629.1" fill="#9c9c9c"/>
<polygon points="1568.8,629.6 1570.6,628.2 1572.2,626.5 1573.5,624.5 1574.6,622.2 1575.4,619.3 1575.6,615.6 1574.7,610.0 1572.8,602.8 1575.1,601.5 1577.3,600.2 1579.6,598.9 1582.0,597.7 1584.3,596.6 1586.7,595.5 1589.1,594.4 1595.7,601.8 1599.7,604.5 1603.0,605.9 1605.9,606.6 1608.5,606.8 1611.0,606.7 1613.3,606.3 1615.5,605.5 1617.6,604.4 1619.6,602.9 1621.5,600.8 1623.2,598.0 1624.5,593.6 1625.0,584.9 1627.7,584.6 1630.4,584.4 1633.1,584.2 1635.8,584.1 1638.6,584.0 1641.3,584.0 1644.1,584.0 1647.6,591.4 1650.6,596.1 1653.3,598.9 1655.9,600.8 1658.4,602.2 1660.9,603.1 1663.3,603.7 1665.8,604.0 1668.2,603.9 1670.7,603.5 1673.3,602.6 1676.0,601.1 1678.9,598.3 1682.8,589.7 1685.5,590.5 1688.3,591.3 1691.0,592.2 1693.7,593.1 1696.4,594.1 1699.1,595.2 1701.8,596.2 1703.0,602.2 1703.9,608.6 1705.4,612.4 1707.2,615.2 1709.1,617.5 1711.1,619.4 1713.3,620.9 1715.5,622.2 1717.9,623.2 1720.5,623.9 1723.3,624.2 1726.4,624.1 1730.0,623.2 1735.5,619.6 1740.0,618.1 1742.3,619.9 1744.7,621.7 1747.0,623.6 1749.2,625.5 1751.5,627.4 1753.7,629.4 1755.9,631.5 1751.8,640.3 1751.6,644.5 1752.2,647.8 1753.1,650.7 1754.3,653.2 1755.7,655.4 1757.4,657.5 1759.3,659.3 1761.5,661.0 1764.0,662.4 1766.9,663.6 1770.6,664.4 1776.0,664.2 1782.9,663.3 1784.5,665.8 1786.1,668.3 1787.7,670.9 1789.2,673.4 1790.7,676.0 1792.1,678.6 1793.5,681.2 1787.1,686.9 1785.0,690.7 1784.1,693.9 1783.8,696.8 1783.9,699.5 1784.4,702.0 1785.2,704.5 1786.3,706.8 1787.7,709.2 1789.4,711.4 1791.7,713.6 1794.7,715.8 1799.3,717.8 1808.0,719.5 1808.6,722.3 1809.3,725.1 1809.8,728.0 1810.4,730.8 1810.8,733.6 1811.2,736.4 1811.6,739.3 1804.7,741.8 1800.5,744.3 1798.2,746.7 1796.6,749.1 1795.6,751.5 1795.0,753.9 1794.8,756.3 1794.8,758.8 1795.3,761.3 1796.0,764.0 1797.3,766.7 1799.2,769.7 1802.3,773.1 1811.4,778.3 1811.0,781.0 1810.6,783.7 1810.1,786.4 1809.5,789.0 1808.9,791.7 1808.3,794.3 1807.6,796.9 1801.9,797.3 1795.7,797.3 1792.1,798.4 1789.6,799.8 1787.6,801.5 1786.0,803.3 1784.7,805.3 1783.8,807.4 1783.2,809.7 1782.8,812.3 1782.9,815.1 1783.5,818.3 1784.9,822.2 1789.2,828.3 1791.4,833.1 1789.9,835.3 1788.4,837.4 1786.9,839.5 1785.3,841.6 1783.7,843.7 1782.0,845.7 1780.3,847.6 1770.9,842.1 1766.8,841.4 1763.6,841.5 1760.9,842.0 1758.6,842.9 1756.6,844.1 1754.8,845.5 1753.2,847.2 1751.9,849.2 1750.8,851.6 1750.0,854.4 1749.8,858.1 1750.7,863.7 1752.6,870.9 1750.3,872.2 1748.1,873.5 1745.8,874.8 1743.4,876.0 1741.1,877.1 1738.7,878.2 1736.3,879.3 1729.7,872.0 1725.7,869.2 1722.4,867.8 1719.5,867.1 1716.9,866.9 1714.4,867.0 1712.1,867.5 1709.9,868.2 1707.8,869.3 1705.8,870.9 1703.9,872.9 1702.2,875.7 1700.9,880.1 1700.4,888.8 1697.7,889.1 1695.0,889.3 1692.3,889.5 1689.6,889.6 1686.8,889.7 1684.1,889.8 1681.3,889.7 1677.8,882.3 1674.8,877.6 1672.1,874.8 1669.5,872.9 1667.0,871.6 1664.5,870.6 1662.1,870.0 1659.6,869.7 1657.2,869.8 1654.7,870.2 1652.1,871.1 1649.4,872.7 1646.5,875.4 1642.6,884.0 1639.9,883.3 1637.1,882.4 1634.4,881.5 1631.7,880.6 1629.0,879.6 1626.3,878.6 1623.6,877.5 1622.4,871.5 1621.5,865.1 1620.0,861.4 1618.2,858.5 1616.3,856.2 1614.3,854.3 1612.1,852.8 1609.9,851.5 1607.5,850.5 1604.9,849.8 1602.1,849.5 1599.0,849.6 1595.4,850.5 1589.9,854.1 1585.4,855.7 1583.1,853.9 1580.7,852.0 1578.4,850.1 1576.2,848.2 1573.9,846.3 1571.7,844.3 1569.5,842.3 1573.6,833.4 1573.8,829.2 1573.2,825.9 1572.3,823.1 1571.1,820.6 1569.7,818.3 1568.0,816.3 1566.1,814.4 1563.9,812.8 1561.4,811.3 1558.5,810.1 1554.8,809.3 1549.4,809.5 1542.5,810.4 1540.9,807.9 1539.3,805.4 1537.7,802.9 1536.2,800.3 1534.7,797.7 1533.3,795.1 1531.9,792.5 1538.3,786.8 1540.4,783.0 1541.3,779.8 1541.6,776.9 1541.5,774.2 1541.0,771.7 1540.2,769.2 1539.1,766.9 1537.7,764.6 1536.0,762.3 1533.7,760.1 1530.7,757.9 1526.1,755.9 1517.4,754.2 1516.8,751.4 1516.1,748.6 1515.6,745.8 1515.0,742.9 1514.6,740.1 1514.2,737.3 1513.8,734.5 1520.7,731.9 1524.9,729.4 1527.2,727.0 1528.8,724.6 1529.8,722.2 1530.4,719.8 1530.6,717.4 1530.6,714.9 1530.1,712.4 1529.4,709.8 1528.1,707.0 1526.2,704.0 1523.1,700.6 1514.0,695.4 1514.4,692.7 1514.8,690.0 1515.3,687.3 1515.9,684.7 1516.5,682.0 1517.1,679.4 1517.8,676.8 1523.5,676.4 1529.7,676.4 1533.3,675.3 1535.8,673.9 1537.8,672.2 1539.4,670.4 1540.7,668.5 1541.6,666.3 1542.2,664.0 1542.6,661.5 1542.5,658.6 1541.9,655.4 1540.5,651.5 1536.2,645.4 1534.0,640.6 1535.5,638.4 1537.0,636.3 1538.5,634.2 1540.1,632.1 1541.7,630.1 1543.4,628.0 1545.1,626.1 1554.5,631.6 1558.6,632.3 1561.8,632.2 1564.5,631.7 1566.8,630.8" fill="#9c9c9c"/>
<polygon points="1566.4,631.4 1568.2,629.9 1569.7,628.2 1571.1,626.2 1572.2,623.9 1572.9,621.0 1573.2,617.3 1572.2,611.7 1570.4,604.5 1572.6,603.2 1574.9,601.9 1577.2,600.6 1579.5,599.4 1581.9,598.3 1584.2,597.2 1586.7,596.1 1593.2,603.5 1597.3,606.2 1600.6,607.6 1603.5,608.3 1606.1,608.5 1608.6,608.4 1610.9,608.0 1613.1,607.2 1615.2,606.1 1617.2,604.5 1619.1,602.5 1620.8,599.7 1622.2,595.3 1622.6,586.6 1625.3,586.3 1628.0,586.1 1630.7,585.9 1633.5,585.7 1636.2,585.7 1638.9,585.6 1641.7,585.6 1645.2,593.1 1648.2,597.8 1651.0,600.6 1653.6,602.5 1656.1,603.8 1658.6,604.8 1661.0,605.4 1663.4,605.7 1665.9,605.6 1668.4,605.2 1671.0,604.3 1673.7,602.8 1676.6,600.0 1680.5,591.4 1683.2,592.1 1686.0,593.0 1688.7,593.9 1691.4,594.8 1694.1,595.8 1696.8,596.8 1699.5,597.9 1700.7,603.9 1701.6,610.3 1703.2,614.1 1704.9,616.9 1706.9,619.2 1708.9,621.1 1711.0,622.7 1713.3,623.9 1715.7,624.9 1718.2,625.6 1721.0,626.0 1724.1,625.8 1727.8,624.9 1733.3,621.4 1737.7,619.8 1740.1,621.6 1742.4,623.4 1744.7,625.3 1747.0,627.2 1749.3,629.2 1751.5,631.2 1753.7,633.2 1749.6,642.1 1749.4,646.3 1750.0,649.6 1750.9,652.4 1752.1,654.9 1753.5,657.2 1755.2,659.2 1757.1,661.1 1759.3,662.7 1761.8,664.2 1764.7,665.4 1768.4,666.2 1773.8,666.0 1780.7,665.1 1782.4,667.6 1784.0,670.1 1785.5,672.6 1787.0,675.2 1788.5,677.8 1790.0,680.4 1791.3,683.0 1785.0,688.8 1782.8,692.5 1781.9,695.7 1781.6,698.6 1781.8,701.3 1782.2,703.9 1783.0,706.3 1784.1,708.7 1785.5,711.0 1787.3,713.3 1789.6,715.5 1792.6,717.6 1797.2,719.7 1805.8,721.4 1806.5,724.2 1807.1,727.0 1807.7,729.8 1808.2,732.6 1808.7,735.5 1809.1,738.3 1809.5,741.1 1802.6,743.7 1798.4,746.2 1796.0,748.6 1794.5,751.0 1793.5,753.4 1792.9,755.8 1792.6,758.2 1792.7,760.7 1793.1,763.2 1793.9,765.9 1795.1,768.7 1797.0,771.6 1800.2,775.0 1809.3,780.2 1808.9,782.9 1808.5,785.6 1808.0,788.3 1807.4,791.0 1806.8,793.6 1806.2,796.3 1805.5,798.9 1799.7,799.3 1793.5,799.3 1790.0,800.4 1787.4,801.8 1785.4,803.4 1783.8,805.3 1782.6,807.2 1781.6,809.4 1781.0,811.7 1780.7,814.2 1780.7,817.1 1781.3,820.3 1782.7,824.2 1787.0,830.3 1789.2,835.1 1787.8,837.3 1786.3,839.5 1784.7,841.6 1783.1,843.7 1781.5,845.7 1779.9,847.7 1778.2,849.7 1768.8,844.2 1764.6,843.4 1761.4,843.5 1758.7,844.1 1756.4,844.9 1754.4,846.1 1752.6,847.5 1751.0,849.2 1749.7,851.2 1748.6,853.6 1747.8,856.5 1747.5,860.1 1748.5,865.7 1750.4,873.0 1748.1,874.3 1745.8,875.6 1743.6,876.9 1741.2,878.1 1738.9,879.2 1736.5,880.3 1734.1,881.4 1727.5,874.0 1723.5,871.3 1720.2,869.9 1717.3,869.2 1714.6,868.9 1712.1,869.1 1709.8,869.5 1707.6,870.3 1705.5,871.4 1703.5,872.9 1701.7,875.0 1700.0,877.8 1698.6,882.2 1698.1,890.9 1695.4,891.2 1692.7,891.4 1690.0,891.6 1687.3,891.7 1684.5,891.8 1681.8,891.9 1679.0,891.8 1675.5,884.4 1672.5,879.7 1669.8,876.9 1667.2,875.0 1664.6,873.6 1662.2,872.7 1659.7,872.1 1657.3,871.8 1654.8,871.9 1652.3,872.3 1649.7,873.2 1647.0,874.7 1644.1,877.5 1640.3,886.1 1637.5,885.3 1634.8,884.5 1632.0,883.6 1629.3,882.7 1626.6,881.7 1623.9,880.6 1621.2,879.5 1620.0,873.6 1619.1,867.2 1617.6,863.4 1615.8,860.6 1613.9,858.3 1611.9,856.4 1609.7,854.8 1607.5,853.5 1605.1,852.6 1602.5,851.9 1599.7,851.5 1596.6,851.6 1592.9,852.6 1587.5,856.1 1583.0,857.7 1580.6,855.9 1578.3,854.1 1576.0,852.2 1573.7,850.3 1571.4,848.3 1569.2,846.3 1567.0,844.3 1571.2,835.4 1571.3,831.2 1570.8,827.9 1569.8,825.1 1568.6,822.6 1567.2,820.3 1565.5,818.3 1563.6,816.4 1561.5,814.7 1559.0,813.3 1556.0,812.1 1552.3,811.3 1546.9,811.5 1540.0,812.4 1538.4,809.9 1536.8,807.4 1535.2,804.8 1533.7,802.3 1532.2,799.7 1530.8,797.1 1529.4,794.5 1535.7,788.7 1537.9,784.9 1538.8,781.8 1539.1,778.9 1539.0,776.2 1538.5,773.6 1537.7,771.2 1536.6,768.8 1535.2,766.5 1533.4,764.2 1531.2,762.0 1528.1,759.8 1523.6,757.8 1514.9,756.1 1514.2,753.3 1513.6,750.5 1513.0,747.7 1512.5,744.8 1512.0,742.0 1511.6,739.2 1511.2,736.3 1518.1,733.8 1522.4,731.3 1524.7,728.9 1526.3,726.5 1527.3,724.1 1527.9,721.7 1528.1,719.3 1528.0,716.8 1527.6,714.2 1526.8,711.6 1525.6,708.8 1523.7,705.8 1520.5,702.4 1511.4,697.3 1511.8,694.5 1512.3,691.8 1512.8,689.1 1513.3,686.5 1513.9,683.8 1514.6,681.2 1515.3,678.6 1521.0,678.2 1527.2,678.2 1530.7,677.1 1533.3,675.7 1535.3,674.0 1536.9,672.2 1538.2,670.2 1539.1,668.1 1539.7,665.8 1540.1,663.2 1540.0,660.4 1539.4,657.2 1538.0,653.3 1533.7,647.2 1531.5,642.3 1533.0,640.2 1534.5,638.0 1536.0,635.9 1537.6,633.8 1539.2,631.8 1540.9,629.8 1542.6,627.8 1552.0,633.3 1556.1,634.1 1559.3,634.0 1562.0,633.4 1564.3,632.5" fill="#9c9c9c"/>
<polygon points="1563.9,633.1 1565.7,631.7 1567.3,630.0 1568.6,628.0 1569.7,625.6 1570.5,622.7 1570.7,619.1 1569.8,613.4 1567.9,606.2 1570.2,604.9 1572.4,603.6 1574.7,602.3 1577.1,601.1 1579.4,600.0 1581.8,598.9 1584.2,597.8 1590.8,605.1 1594.9,607.9 1598.1,609.3 1601.1,610.0 1603.7,610.2 1606.2,610.1 1608.5,609.7 1610.7,608.9 1612.8,607.8 1614.8,606.2 1616.7,604.2 1618.4,601.4 1619.8,597.0 1620.2,588.3 1622.9,588.0 1625.6,587.7 1628.4,587.6 1631.1,587.4 1633.8,587.3 1636.6,587.3 1639.3,587.3 1642.9,594.8 1645.9,599.5 1648.6,602.3 1651.2,604.2 1653.7,605.5 1656.2,606.5 1658.7,607.1 1661.1,607.4 1663.6,607.3 1666.1,606.9 1668.7,606.0 1671.4,604.4 1674.3,601.7 1678.2,593.0 1680.9,593.8 1683.7,594.7 1686.4,595.6 1689.1,596.5 1691.8,597.5 1694.5,598.5 1697.2,599.6 1698.5,605.6 1699.3,612.0 1700.9,615.8 1702.7,618.6 1704.6,620.9 1706.6,622.8 1708.8,624.4 1711.0,625.7 1713.4,626.6 1716.0,627.3 1718.8,627.7 1721.9,627.6 1725.6,626.6 1731.0,623.1 1735.5,621.5 1737.9,623.3 1740.2,625.1 1742.5,627.0 1744.8,628.9 1747.1,630.9 1749.3,632.9 1751.5,634.9 1747.4,643.8 1747.2,648.0 1747.8,651.3 1748.7,654.2 1749.9,656.7 1751.3,658.9 1753.0,661.0 1754.9,662.8 1757.1,664.5 1759.6,666.0 1762.5,667.2 1766.2,668.0 1771.6,667.8 1778.6,666.9 1780.2,669.4 1781.8,671.9 1783.4,674.4 1784.9,677.0 1786.4,679.6 1787.8,682.2 1789.2,684.8 1782.8,690.6 1780.7,694.3 1779.8,697.5 1779.5,700.4 1779.6,703.1 1780.1,705.7 1780.9,708.1 1781.9,710.5 1783.3,712.8 1785.1,715.1 1787.4,717.3 1790.4,719.5 1795.0,721.5 1803.7,723.2 1804.4,726.0 1805.0,728.9 1805.6,731.7 1806.1,734.5 1806.6,737.4 1807.0,740.2 1807.4,743.0 1800.5,745.6 1796.2,748.1 1793.9,750.5 1792.3,752.9 1791.3,755.3 1790.7,757.7 1790.5,760.1 1790.6,762.6 1791.0,765.1 1791.7,767.8 1793.0,770.6 1794.9,773.6 1798.1,777.0 1807.2,782.2 1806.8,784.9 1806.3,787.6 1805.8,790.3 1805.3,793.0 1804.7,795.6 1804.0,798.2 1803.3,800.9 1797.6,801.3 1791.4,801.3 1787.8,802.3 1785.3,803.8 1783.3,805.4 1781.7,807.2 1780.4,809.2 1779.5,811.4 1778.8,813.7 1778.5,816.2 1778.6,819.1 1779.1,822.3 1780.6,826.2 1784.9,832.3 1787.1,837.1 1785.6,839.3 1784.1,841.5 1782.6,843.6 1781.0,845.7 1779.4,847.7 1777.7,849.7 1776.0,851.7 1766.6,846.2 1762.4,845.5 1759.2,845.5 1756.5,846.1 1754.2,847.0 1752.2,848.1 1750.4,849.6 1748.8,851.3 1747.5,853.3 1746.4,855.6 1745.6,858.5 1745.3,862.2 1746.3,867.8 1748.2,875.0 1745.9,876.4 1743.6,877.7 1741.3,878.9 1739.0,880.1 1736.6,881.3 1734.3,882.4 1731.8,883.4 1725.3,876.1 1721.2,873.3 1717.9,872.0 1715.0,871.2 1712.4,871.0 1709.9,871.1 1707.6,871.6 1705.4,872.4 1703.3,873.5 1701.3,875.0 1699.4,877.0 1697.7,879.8 1696.3,884.3 1695.8,893.0 1693.1,893.3 1690.4,893.5 1687.7,893.7 1685.0,893.8 1682.2,893.9 1679.5,893.9 1676.7,893.9 1673.2,886.5 1670.2,881.8 1667.4,879.0 1664.8,877.1 1662.3,875.7 1659.8,874.7 1657.4,874.1 1654.9,873.9 1652.5,873.9 1650.0,874.4 1647.4,875.2 1644.7,876.8 1641.8,879.6 1637.9,888.2 1635.2,887.4 1632.4,886.6 1629.7,885.7 1626.9,884.7 1624.2,883.7 1621.5,882.7 1618.8,881.6 1617.6,875.6 1616.7,869.2 1615.2,865.5 1613.4,862.6 1611.5,860.3 1609.5,858.4 1607.3,856.9 1605.1,855.6 1602.7,854.6 1600.1,853.9 1597.3,853.6 1594.2,853.7 1590.5,854.6 1585.0,858.2 1580.6,859.8 1578.2,857.9 1575.9,856.1 1573.5,854.2 1571.2,852.3 1569.0,850.3 1566.8,848.3 1564.6,846.3 1568.7,837.4 1568.8,833.2 1568.3,829.9 1567.4,827.1 1566.2,824.6 1564.7,822.3 1563.1,820.2 1561.2,818.4 1559.0,816.7 1556.5,815.3 1553.5,814.1 1549.9,813.3 1544.4,813.5 1537.5,814.4 1535.9,811.9 1534.3,809.4 1532.7,806.8 1531.2,804.2 1529.7,801.7 1528.3,799.0 1526.9,796.4 1533.2,790.7 1535.4,786.9 1536.3,783.7 1536.6,780.8 1536.5,778.1 1536.0,775.6 1535.2,773.1 1534.1,770.7 1532.7,768.4 1530.9,766.1 1528.7,763.9 1525.6,761.8 1521.0,759.7 1512.4,758.0 1511.7,755.2 1511.1,752.4 1510.5,749.5 1510.0,746.7 1509.5,743.9 1509.1,741.1 1508.7,738.2 1515.6,735.6 1519.8,733.2 1522.2,730.8 1523.7,728.4 1524.7,726.0 1525.3,723.6 1525.6,721.1 1525.5,718.6 1525.1,716.1 1524.3,713.4 1523.1,710.7 1521.2,707.7 1518.0,704.3 1508.9,699.1 1509.3,696.4 1509.7,693.7 1510.2,691.0 1510.8,688.3 1511.4,685.6 1512.0,683.0 1512.7,680.4 1518.5,680.0 1524.7,680.0 1528.2,678.9 1530.8,677.5 1532.8,675.8 1534.4,674.0 1535.7,672.0 1536.6,669.9 1537.2,667.6 1537.6,665.0 1537.5,662.2 1536.9,659.0 1535.5,655.0 1531.2,648.9 1529.0,644.1 1530.5,641.9 1532.0,639.8 1533.5,637.6 1535.1,635.6 1536.7,633.5 1538.4,631.5 1540.1,629.5 1549.5,635.1 1553.7,635.8 1556.9,635.7 1559.5,635.1 1561.9,634.3" fill="#9c9c9c"/>
<line x1="1755.7" y1="657.6" x2="1832.3" y2="596.1" stroke="#808080" stroke-width="11" stroke-linecap="round"/>
<line x1="1761.8" y1="652.4" x2="1838.4" y2="590.9" stroke="#a6a6a6" stroke-width="4" stroke-linecap="round"/>
<line x1="1785.6" y1="708.0" x2="1860.8" y2="644.0" stroke="#808080" stroke-width="11" stroke-linecap="round"/>
<line x1="1793.4" y1="706.0" x2="1868.6" y2="642.0" stroke="#a6a6a6" stroke-width="4" stroke-linecap="round"/>
<line x1="1795.9" y1="763.7" x2="1870.5" y2="697.0" stroke="#808080" stroke-width="11" stroke-linecap="round"/>
<line x1="1803.8" y1="764.9" x2="1878.4" y2="698.2" stroke="#a6a6a6" stroke-width="4" stroke-linecap="round"/>
<line x1="1784.7" y1="816.1" x2="1859.9" y2="746.9" stroke="#808080" stroke-width="11" stroke-linecap="round"/>
<line x1="1791.7" y1="820.1" x2="1866.9" y2="750.8" stroke="#a6a6a6" stroke-width="4" stroke-linecap="round"/>
<line x1="1753.9" y1="857.3" x2="1830.7" y2="786.1" stroke="#808080" stroke-width="11" stroke-linecap="round"/>
<line x1="1759.1" y1="863.4" x2="1835.9" y2="792.2" stroke="#a6a6a6" stroke-width="4" stroke-linecap="round"/>
<line x1="1603.2" y1="603.9" x2="1687.2" y2="545.0" stroke="#808080" stroke-width="11" stroke-linecap="round"/>
<line x1="1600.3" y1="596.5" x2="1684.4" y2="537.5" stroke="#a6a6a6" stroke-width="4" stroke-linecap="round"/>
<line x1="1656.9" y1="601.3" x2="1738.3" y2="542.5" stroke="#808080" stroke-width="11" stroke-linecap="round"/>
<line x1="1657.0" y1="593.3" x2="1738.4" y2="534.5" stroke="#a6a6a6" stroke-width="4" stroke-linecap="round"/>
<line x1="1710.4" y1="620.1" x2="1789.3" y2="560.4" stroke="#808080" stroke-width="11" stroke-linecap="round"/>
<line x1="1713.7" y1="612.8" x2="1792.5" y2="553.1" stroke="#a6a6a6" stroke-width="4" stroke-linecap="round"/>
<polygon points="1561.4,634.8 1562.4,634.1 1563.2,633.4 1564.1,632.6 1564.8,631.7 1565.5,630.7 1566.2,629.7 1566.7,628.6 1567.2,627.3 1567.7,626.0 1568.0,624.4 1568.2,622.7 1568.3,620.8 1568.1,618.4 1567.3,615.2 1564.3,608.6 1565.5,607.9 1566.6,607.2 1567.7,606.5 1568.8,605.9 1570.0,605.2 1571.1,604.6 1572.3,604.0 1573.4,603.4 1574.6,602.8 1575.8,602.2 1577.0,601.6 1578.2,601.1 1579.4,600.5 1580.6,600.0 1581.8,599.5 1585.5,603.9 1588.4,606.8 1590.5,608.5 1592.4,609.6 1594.1,610.4 1595.7,611.0 1597.2,611.4 1598.6,611.7 1600.0,611.9 1601.3,611.9 1602.6,611.9 1603.8,611.8 1605.0,611.6 1606.1,611.4 1607.2,611.0 1608.3,610.6 1609.4,610.1 1610.4,609.5 1611.4,608.7 1612.4,607.9 1613.4,607.0 1614.3,605.9 1615.2,604.6 1616.0,603.1 1616.8,601.2 1617.4,598.7 1617.6,594.3 1617.8,589.9 1619.2,589.8 1620.5,589.7 1621.9,589.5 1623.3,589.4 1624.6,589.3 1626.0,589.2 1627.4,589.1 1628.7,589.1 1630.1,589.0 1631.5,589.0 1632.8,589.0 1634.2,589.0 1635.6,589.0 1637.0,589.0 1638.4,589.0 1640.5,596.5 1642.1,599.2 1643.5,601.2 1644.9,602.7 1646.3,603.9 1647.6,605.0 1648.9,605.9 1650.2,606.6 1651.4,607.2 1652.6,607.8 1653.9,608.2 1655.1,608.5 1656.3,608.8 1657.6,609.0 1658.8,609.1 1660.0,609.1 1661.3,609.0 1662.5,608.8 1663.8,608.6 1665.1,608.2 1666.4,607.7 1667.7,607.0 1669.1,606.1 1670.5,605.0 1672.0,603.4 1673.6,600.9 1675.9,594.7 1677.2,595.1 1678.6,595.5 1680.0,595.9 1681.4,596.3 1682.7,596.8 1684.1,597.2 1685.5,597.7 1686.8,598.2 1688.2,598.7 1689.6,599.2 1690.9,599.7 1692.3,600.2 1693.6,600.8 1695.0,601.3 1696.3,601.9 1696.2,607.3 1696.5,611.1 1697.1,613.7 1697.8,615.8 1698.6,617.5 1699.5,619.0 1700.4,620.3 1701.3,621.5 1702.3,622.6 1703.3,623.6 1704.3,624.5 1705.4,625.4 1706.5,626.1 1707.6,626.8 1708.8,627.4 1709.9,627.9 1711.2,628.4 1712.4,628.8 1713.7,629.1 1715.1,629.3 1716.5,629.4 1718.0,629.4 1719.6,629.3 1721.4,629.0 1723.3,628.3 1725.6,627.3 1728.8,624.8 1732.1,622.3 1733.3,623.2 1734.5,624.1 1735.7,625.0 1736.8,625.9 1738.0,626.9 1739.2,627.8 1740.3,628.7 1741.5,629.7 1742.6,630.7 1743.7,631.6 1744.9,632.6 1746.0,633.6 1747.1,634.6 1748.2,635.6 1749.3,636.7 1745.8,642.8 1745.1,645.6 1745.0,647.8 1745.0,649.8 1745.2,651.5 1745.5,653.1 1746.0,654.6 1746.5,655.9 1747.0,657.2 1747.7,658.5 1748.4,659.6 1749.1,660.7 1749.9,661.8 1750.8,662.8 1751.7,663.7 1752.7,664.6 1753.8,665.5 1754.9,666.3 1756.1,667.0 1757.4,667.7 1758.8,668.4 1760.3,668.9 1762.1,669.4 1764.0,669.7 1766.4,669.9 1769.5,669.5 1775.6,667.4 1776.4,668.6 1777.2,669.9 1778.0,671.1 1778.9,672.4 1779.7,673.7 1780.4,674.9 1781.2,676.2 1782.0,677.5 1782.7,678.8 1783.5,680.1 1784.2,681.4 1784.9,682.7 1785.6,684.0 1786.3,685.3 1787.0,686.6 1783.1,689.8 1780.7,692.4 1779.4,694.4 1778.5,696.2 1778.0,697.8 1777.6,699.4 1777.4,700.8 1777.3,702.3 1777.3,703.6 1777.4,705.0 1777.6,706.3 1777.9,707.5 1778.3,708.8 1778.7,710.0 1779.2,711.2 1779.8,712.4 1780.4,713.5 1781.2,714.7 1782.0,715.8 1783.0,717.0 1784.0,718.1 1785.3,719.2 1786.7,720.3 1788.3,721.3 1790.3,722.4 1792.9,723.4 1797.2,724.2 1801.6,725.1 1801.9,726.5 1802.2,727.9 1802.6,729.3 1802.9,730.7 1803.2,732.1 1803.4,733.6 1803.7,735.0 1804.0,736.4 1804.2,737.8 1804.4,739.2 1804.7,740.6 1804.9,742.1 1805.1,743.5 1805.2,744.9 1805.4,746.3 1798.3,747.5 1795.8,748.7 1794.1,749.9 1792.8,751.2 1791.7,752.4 1790.9,753.6 1790.2,754.8 1789.6,756.0 1789.2,757.2 1788.8,758.4 1788.6,759.6 1788.4,760.8 1788.3,762.0 1788.3,763.3 1788.4,764.5 1788.6,765.8 1788.8,767.1 1789.2,768.4 1789.6,769.7 1790.2,771.1 1790.8,772.5 1791.7,774.0 1792.8,775.5 1794.1,777.1 1795.9,778.9 1798.6,781.0 1805.1,784.1 1804.9,785.5 1804.7,786.8 1804.4,788.2 1804.2,789.5 1804.0,790.9 1803.7,792.2 1803.4,793.6 1803.2,794.9 1802.9,796.2 1802.6,797.6 1802.2,798.9 1801.9,800.2 1801.6,801.5 1801.2,802.8 1800.8,804.1 1795.4,803.2 1791.7,803.0 1789.2,803.2 1787.3,803.7 1785.7,804.3 1784.3,805.0 1783.1,805.7 1782.0,806.5 1781.1,807.4 1780.3,808.3 1779.5,809.2 1778.8,810.2 1778.3,811.2 1777.7,812.2 1777.3,813.3 1776.9,814.5 1776.7,815.7 1776.5,816.9 1776.3,818.2 1776.3,819.6 1776.4,821.0 1776.6,822.6 1777.0,824.3 1777.5,826.1 1778.4,828.2 1779.8,830.7 1782.7,834.3 1785.6,838.1 1784.9,839.2 1784.2,840.3 1783.5,841.3 1782.7,842.4 1782.0,843.5 1781.2,844.6 1780.4,845.6 1779.6,846.7 1778.8,847.7 1778.0,848.7 1777.2,849.8 1776.4,850.8 1775.5,851.8 1774.7,852.8 1773.8,853.7 1767.3,849.3 1764.4,848.2 1762.1,847.7 1760.2,847.5 1758.5,847.5 1757.0,847.6 1755.6,847.8 1754.3,848.1 1753.1,848.5 1752.0,849.0 1750.9,849.6 1750.0,850.2 1749.0,850.9 1748.2,851.6 1747.3,852.4 1746.6,853.3 1745.9,854.3 1745.2,855.3 1744.7,856.4 1744.2,857.7 1743.7,859.0 1743.4,860.6 1743.2,862.3 1743.1,864.2 1743.3,866.6 1744.1,869.8 1747.1,876.4 1745.9,877.1 1744.8,877.8 1743.7,878.5 1742.6,879.1 1741.4,879.8 1740.3,880.4 1739.1,881.0 1738.0,881.6 1736.8,882.2 1735.6,882.8 1734.4,883.4 1733.2,883.9 1732.0,884.5 1730.8,885.0 1729.6,885.5 1725.9,881.1 1723.0,878.2 1720.9,876.5 1719.0,875.4 1717.3,874.6 1715.7,874.0 1714.2,873.6 1712.8,873.3 1711.4,873.1 1710.1,873.1 1708.8,873.1 1707.6,873.2 1706.4,873.4 1705.3,873.6 1704.2,874.0 1703.1,874.4 1702.0,874.9 1701.0,875.5 1700.0,876.3 1699.0,877.1 1698.0,878.0 1697.1,879.1 1696.2,880.4 1695.4,881.9 1694.6,883.8 1694.0,886.3 1693.8,890.7 1693.6,895.1 1692.2,895.2 1690.9,895.3 1689.5,895.5 1688.1,895.6 1686.8,895.7 1685.4,895.8 1684.0,895.9 1682.7,895.9 1681.3,896.0 1679.9,896.0 1678.6,896.0 1677.2,896.0 1675.8,896.0 1674.4,896.0 1673.0,896.0 1670.9,888.5 1669.3,885.8 1667.9,883.8 1666.5,882.3 1665.1,881.1 1663.8,880.0 1662.5,879.1 1661.2,878.4 1660.0,877.8 1658.8,877.2 1657.5,876.8 1656.3,876.5 1655.1,876.2 1653.8,876.0 1652.6,875.9 1651.4,875.9 1650.1,876.0 1648.9,876.2 1647.6,876.4 1646.3,876.8 1645.0,877.3 1643.7,878.0 1642.3,878.9 1640.9,880.0 1639.4,881.6 1637.8,884.1 1635.5,890.3 1634.2,889.9 1632.8,889.5 1631.4,889.1 1630.0,888.7 1628.7,888.2 1627.3,887.8 1625.9,887.3 1624.6,886.8 1623.2,886.3 1621.8,885.8 1620.5,885.3 1619.1,884.8 1617.8,884.2 1616.4,883.7 1615.1,883.1 1615.2,877.7 1614.9,873.9 1614.3,871.3 1613.6,869.2 1612.8,867.5 1611.9,866.0 1611.0,864.7 1610.1,863.5 1609.1,862.4 1608.1,861.4 1607.1,860.5 1606.0,859.6 1604.9,858.9 1603.8,858.2 1602.6,857.6 1601.5,857.1 1600.2,856.6 1599.0,856.2 1597.7,855.9 1596.3,855.7 1594.9,855.6 1593.4,855.6 1591.8,855.7 1590.0,856.0 1588.1,856.7 1585.8,857.7 1582.6,860.2 1579.3,862.7 1578.1,861.8 1576.9,860.9 1575.7,860.0 1574.6,859.1 1573.4,858.1 1572.2,857.2 1571.1,856.3 1569.9,855.3 1568.8,854.3 1567.7,853.4 1566.5,852.4 1565.4,851.4 1564.3,850.4 1563.2,849.4 1562.1,848.3 1565.6,842.2 1566.3,839.4 1566.4,837.2 1566.4,835.2 1566.2,833.5 1565.9,831.9 1565.4,830.4 1564.9,829.1 1564.4,827.8 1563.7,826.5 1563.0,825.4 1562.3,824.3 1561.5,823.2 1560.6,822.2 1559.7,821.3 1558.7,820.4 1557.6,819.5 1556.5,818.7 1555.3,818.0 1554.0,817.3 1552.6,816.6 1551.1,816.1 1549.3,815.6 1547.4,815.3 1545.0,815.1 1541.9,815.5 1535.8,817.6 1535.0,816.4 1534.2,815.1 1533.4,813.9 1532.5,812.6 1531.7,811.3 1531.0,810.1 1530.2,808.8 1529.4,807.5 1528.7,806.2 1527.9,804.9 1527.2,803.6 1526.5,802.3 1525.8,801.0 1525.1,799.7 1524.4,798.4 1528.3,795.2 1530.7,792.6 1532.0,790.6 1532.9,788.8 1533.4,787.2 1533.8,785.6 1534.0,784.2 1534.1,782.7 1534.1,781.4 1534.0,780.0 1533.8,778.7 1533.5,777.5 1533.1,776.2 1532.7,775.0 1532.2,773.8 1531.6,772.6 1531.0,771.5 1530.2,770.3 1529.4,769.2 1528.4,768.0 1527.4,766.9 1526.1,765.8 1524.7,764.7 1523.1,763.7 1521.1,762.6 1518.5,761.6 1514.2,760.8 1509.8,759.9 1509.5,758.5 1509.2,757.1 1508.8,755.7 1508.5,754.3 1508.2,752.9 1508.0,751.4 1507.7,750.0 1507.4,748.6 1507.2,747.2 1507.0,745.8 1506.7,744.4 1506.5,742.9 1506.3,741.5 1506.2,740.1 1506.0,738.7 1513.1,737.5 1515.6,736.3 1517.3,735.1 1518.6,733.8 1519.7,732.6 1520.5,731.4 1521.2,730.2 1521.8,729.0 1522.2,727.8 1522.6,726.6 1522.8,725.4 1523.0,724.2 1523.1,723.0 1523.1,721.7 1523.0,720.5 1522.8,719.2 1522.6,717.9 1522.2,716.6 1521.8,715.3 1521.2,713.9 1520.6,712.5 1519.7,711.0 1518.6,709.5 1517.3,707.9 1515.5,706.1 1512.8,704.0 1506.3,700.9 1506.5,699.5 1506.7,698.2 1507.0,696.8 1507.2,695.5 1507.4,694.1 1507.7,692.8 1508.0,691.4 1508.2,690.1 1508.5,688.8 1508.8,687.4 1509.2,686.1 1509.5,684.8 1509.8,683.5 1510.2,682.2 1510.6,680.9 1516.0,681.8 1519.7,682.0 1522.2,681.8 1524.1,681.3 1525.7,680.7 1527.1,680.0 1528.3,679.3 1529.4,678.5 1530.3,677.6 1531.1,676.7 1531.9,675.8 1532.6,674.8 1533.1,673.8 1533.7,672.8 1534.1,671.7 1534.5,670.5 1534.7,669.3 1534.9,668.1 1535.1,666.8 1535.1,665.4 1535.0,664.0 1534.8,662.4 1534.4,660.7 1533.9,658.9 1533.0,656.8 1531.6,654.3 1528.7,650.7 1525.8,646.9 1526.5,645.8 1527.2,644.7 1527.9,643.7 1528.7,642.6 1529.4,641.5 1530.2,640.4 1531.0,639.4 1531.8,638.3 1532.6,637.3 1533.4,636.3 1534.2,635.2 1535.0,634.2 1535.9,633.2 1536.7,632.2 1537.6,631.3 1544.1,635.7 1547.0,636.8 1549.3,637.3 1551.2,637.5 1552.9,637.5 1554.4,637.4 1555.8,637.2 1557.1,636.9 1558.3,636.5 1559.4,636.0 1560.5,635.4" fill="url(#ff)"/>
<ellipse cx="1655.3" cy="743.5" rx="127.8" ry="110.9" transform="rotate(48.8 1655.3 743.5)" fill="#c4c4c4"/>
<clipPath id="bclip"><ellipse cx="1655.3" cy="743.5" rx="127.8" ry="110.9" transform="rotate(48.8 1655.3 743.5)"/></clipPath><g clip-path="url(#bclip)">
<polygon points="1530,700 1545,665 1575,638 1606,625 1612,662 1600,690 1585,725 1568,723 1542,738 1530,740" fill="url(#lam)"/>
<polygon points="1578,815 1600,808 1640,828 1705,836 1722,846 1700,870 1640,870 1585,850" fill="url(#lam2)"/>
<polygon points="1698,655 1712,652 1745,680 1772,745 1770,752 1732,762 1712,770 1700,720" fill="#d6d6d6"/>
<line x1="1704" y1="688" x2="1728" y2="664" stroke="#8e5630" stroke-width="6"/>
<line x1="1712" y1="712" x2="1745" y2="680" stroke="#8e5630" stroke-width="6"/>
<line x1="1722" y1="738" x2="1760" y2="702" stroke="#8e5630" stroke-width="6"/>
<line x1="1735" y1="758" x2="1770" y2="728" stroke="#8e5630" stroke-width="6"/>
<line x1="1708" y1="700" x2="1734" y2="672" stroke="#f2f2f2" stroke-width="5"/>
<line x1="1716" y1="726" x2="1752" y2="690" stroke="#f2f2f2" stroke-width="5"/>
<line x1="1728" y1="750" x2="1766" y2="716" stroke="#f2f2f2" stroke-width="5"/>
<polygon points="1745,745 1772,735 1772,760 1748,768" fill="url(#lam2)"/>
</g>
<ellipse cx="1655.3" cy="743.5" rx="127.8" ry="110.9" transform="rotate(48.8 1655.3 743.5)" fill="none" stroke="#a9a9a9" stroke-width="1.5"/>
<polygon points="1604.8,624.8 1620,624 1685,636 1708,653.6 1698.4,668 1607,663 1604,650" fill="url(#cuw)"/>
<polygon points="1604.8,624.8 1618,624 1618,636 1606,638" fill="#6e3a1c" opacity="0.8"/>
<polygon points="1542.4,737.6 1568.8,723.2 1582,735 1600,807.2 1583.2,826.4 1561.6,802.4 1544,765" fill="url(#cuw2)"/>
<polygon points="1732,761.6 1770.4,749.6 1768,788 1722.4,845.6 1705.6,836 1718,805" fill="url(#cuw3)"/>
<ellipse cx="1653.4" cy="746" rx="75" ry="78" fill="url(#ring)" stroke="#8f9aa6" stroke-width="1"/>
<ellipse cx="1652.8" cy="747.2" rx="55.2" ry="58.8" fill="url(#inner)" stroke="#9aa0a8" stroke-width="0.8"/>
<line x1="1602.5" y1="715" x2="1635" y2="702.5" stroke="#b27a52" stroke-width="5" stroke-linecap="round"/>
<line x1="1602.5" y1="752.5" x2="1637.5" y2="737.5" stroke="#a86e48" stroke-width="5" stroke-linecap="round"/>
<line x1="1625" y1="782.5" x2="1662.5" y2="767.5" stroke="#a86e48" stroke-width="5" stroke-linecap="round"/>
<line x1="1660" y1="797.5" x2="1692.5" y2="780" stroke="#b27a52" stroke-width="5" stroke-linecap="round"/>
<line x1="1640" y1="730" x2="1690" y2="705" stroke="#efefef" stroke-width="6" stroke-linecap="round"/>
<line x1="1650" y1="760" x2="1700" y2="735" stroke="#e4e4e4" stroke-width="5" stroke-linecap="round"/>
<line x1="1615" y1="735" x2="1660" y2="715" stroke="#d8d8d8" stroke-width="4" stroke-linecap="round"/>
<line x1="1600" y1="770" x2="1630" y2="758" stroke="#8c8c8c" stroke-width="4" stroke-linecap="round"/>
<line x1="1660" y1="780" x2="1700" y2="760" stroke="#9a9a9a" stroke-width="3" stroke-linecap="round"/>
<circle cx="1625" cy="680" r="5.6" fill="#b8977f"/>
<circle cx="1660" cy="680" r="5.6" fill="#b8977f"/>
<circle cx="1692.5" cy="700" r="5.6" fill="#b8977f"/>
<circle cx="1713.75" cy="731.25" r="5.6" fill="#b8977f"/>
<circle cx="1717.5" cy="767.5" r="5.6" fill="#b8977f"/>
<circle cx="1703.75" cy="797.5" r="5.6" fill="#b8977f"/>
<circle cx="1676.25" cy="813.75" r="5.6" fill="#b8977f"/>
<circle cx="1642.5" cy="812.5" r="5.6" fill="#b8977f"/>
<circle cx="1611.25" cy="792.5" r="5.6" fill="#b8977f"/>
<circle cx="1590" cy="762.5" r="5.6" fill="#b8977f"/>
<circle cx="1586.25" cy="727.5" r="5.6" fill="#b8977f"/>
<circle cx="1597.5" cy="697.5" r="5.6" fill="#b8977f"/>
<circle cx="1632.5" cy="762.5" r="11.5" fill="#fafafa"/></g>
</svg>
</body></html>
